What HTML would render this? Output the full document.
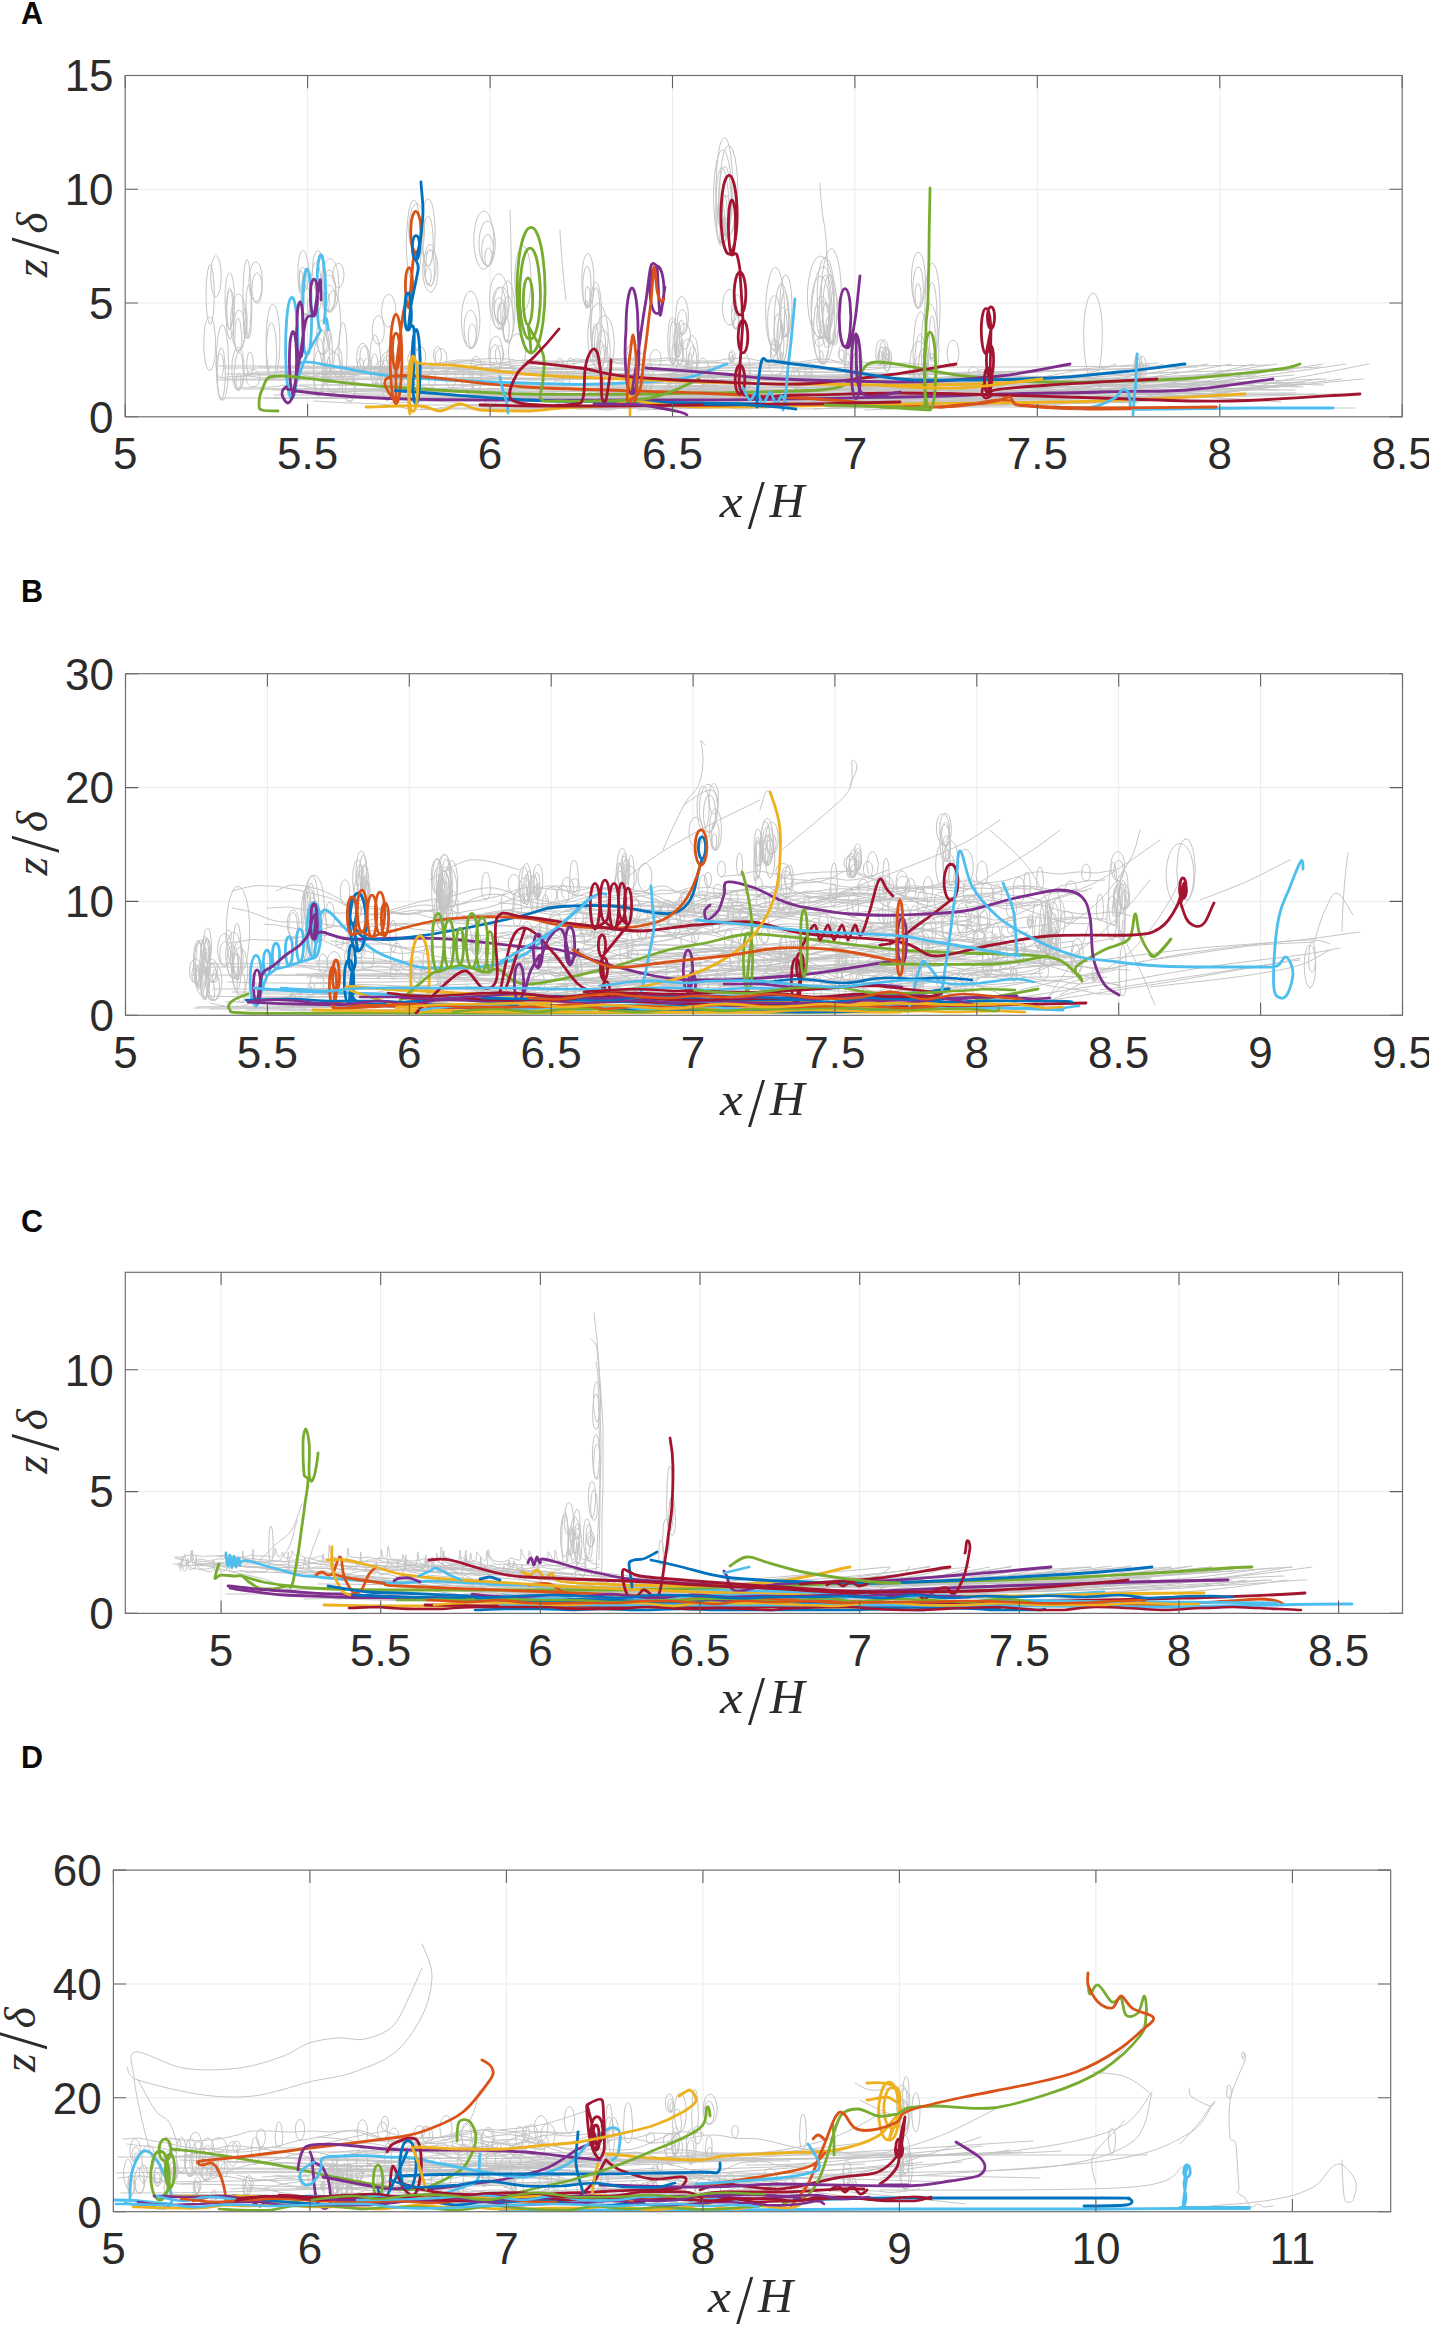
<!DOCTYPE html>
<html><head><meta charset="utf-8"><title>Figure</title>
<style>html,body{margin:0;padding:0;background:#fff;}svg{display:block;}</style></head>
<body><svg width="1429" height="2327" viewBox="0 0 1429 2327">
<rect width="1429" height="2327" fill="#fff"/>
<path d="M307.6 75.5V416.8M490.1 75.5V416.8M672.5 75.5V416.8M854.9 75.5V416.8M1037.3 75.5V416.8M1219.8 75.5V416.8M125.2 303.0H1402.2M125.2 189.3H1402.2" stroke="#ebebeb" stroke-width="1" fill="none"/>
<clipPath id="clipA"><rect x="125.2" y="75.5" width="1277.0" height="341.3"/></clipPath>
<g clip-path="url(#clipA)" fill="none" stroke-linejoin="round" stroke-linecap="round">
<path d="M240 350a8 29 0 0 1-9-37a8 29 0 0 1 13-11a8 29 0 0 1-4 48l-1 1a6 21 0 0 1-5-31a6 21 0 0 1 10-1a6 21 0 0 1-5 32l0 0a3 13 0 0 1-4-17a3 13 0 0 1 6-5a3 13 0 0 1-2 22M236 389a6 21 0 0 1-2-36a6 21 0 0 1 10 12a6 21 0 0 1-8 24l3 1a4 15 0 0 1-4-24a4 15 0 0 1 8 3a4 15 0 0 1-4 21l0-1a3 9 0 0 1-3-11a3 9 0 0 1 4-4a3 9 0 0 1-1 15M209 323a4 29 0 0 1-2-47a4 29 0 0 1 7 10a4 29 0 0 1-5 37M229 329a5 30 0 0 1-3-47a5 30 0 0 1 8 6a5 30 0 0 1-5 41l1 0a3 21 0 0 1-3-29a3 21 0 0 1 5-5a3 21 0 0 1-2 34M273 379a7 38 0 0 1-6-57a7 38 0 0 1 12 1a7 38 0 0 1-6 56l-2 0a5 27 0 0 1-4-42a5 27 0 0 1 9 2a5 27 0 0 1-5 40M218 295a5 20 0 0 1-7-23a5 20 0 0 1 8-12a5 20 0 0 1-1 35M222 400a6 36 0 0 1-5-55a6 36 0 0 1 11 3a6 36 0 0 1-6 52l-1 0a4 26 0 0 1-3-41a4 26 0 0 1 7 5a4 26 0 0 1-4 36M230 339a4 24 0 0 1-3-39a4 24 0 0 1 7 7a4 24 0 0 1-4 32M211 370a6 27 0 0 1-7-35a6 27 0 0 1 10-10a6 27 0 0 1-3 45M258 301a7 21 0 0 1-9-23a7 21 0 0 1 11-12a7 21 0 0 1-2 35l-3 1a5 15 0 0 1-1-26a5 15 0 0 1 8 9a5 15 0 0 1-7 17M248 337a4 38 0 0 1-5-46a4 38 0 0 1 7-18a4 38 0 0 1-2 64l1 1a3 27 0 0 1-3-35a3 27 0 0 1 5-10a3 27 0 0 1-2 45l-4 0a2 17 0 0 1-1-27a2 17 0 0 1 3 5a2 17 0 0 1-2 22M305 291a5 19 0 0 1-7-21a5 19 0 0 1 9-12a5 19 0 0 1-2 33l-3 1a4 14 0 0 1-2-21a4 14 0 0 1 6 2a4 14 0 0 1-4 19l-1 1a2 9 0 0 1-2-14a2 9 0 0 1 4 1a2 9 0 0 1-2 13M322 354a7 17 0 0 1-4-28a7 17 0 0 1 12 6a7 17 0 0 1-8 22l2 0a5 12 0 0 1-6-16a5 12 0 0 1 8-4a5 12 0 0 1-2 20M320 395a6 29 0 0 1-6-42a6 29 0 0 1 10-3a6 29 0 0 1-4 45l0-1a4 21 0 0 1-6-24a4 21 0 0 1 7-12a4 21 0 0 1-1 36M328 311a8 19 0 0 1-6-28a8 19 0 0 1 13 0a8 19 0 0 1-7 28l0-1a6 13 0 0 1-2-23a6 13 0 0 1 9 8a6 13 0 0 1-7 15l-2 1a3 8 0 0 1-3-12a3 8 0 0 1 6 0a3 8 0 0 1-3 12M318 313a5 24 0 0 1-7-28a5 24 0 0 1 9-13a5 24 0 0 1-2 41M308 314a5 19 0 0 1-7-23a5 19 0 0 1 9-9a5 19 0 0 1-2 32l-3 0a4 13 0 0 1-2-23a4 13 0 0 1 7 6a4 13 0 0 1-5 17l4 0a2 8 0 0 1-1-13a2 8 0 0 1 3 2a2 8 0 0 1-2 11M318 294a6 24 0 0 1-5-33a6 24 0 0 1 9-4a6 24 0 0 1-4 37M339 288a6 13 0 0 1-6-17a6 13 0 0 1 10-3a6 13 0 0 1-4 20M365 370a6 13 0 0 1-8-17a6 13 0 0 1 10-6a6 13 0 0 1-2 23l0 0a4 10 0 0 1-5-13a4 10 0 0 1 8-2a4 10 0 0 1-3 15l-4 0a3 6 0 0 1-3-9a3 6 0 0 1 5 0a3 6 0 0 1-2 9M329 312a9 27 0 0 1-6-43a9 27 0 0 1 15 4a9 27 0 0 1-9 39l0 0a6 20 0 0 1-5-31a6 20 0 0 1 11 2a6 20 0 0 1-6 29M349 401a6 13 0 0 1-6-19a6 13 0 0 1 11-2a6 13 0 0 1-5 21l0 0a4 10 0 0 1-3-15a4 10 0 0 1 8 1a4 10 0 0 1-5 14M344 377a4 27 0 0 1-5-32a4 27 0 0 1 7-13a4 27 0 0 1-2 45M329 382a5 29 0 0 1-5-39a5 29 0 0 1 7-9a5 29 0 0 1-2 48l-2 0a3 21 0 0 1-4-29a3 21 0 0 1 6-5a3 21 0 0 1-2 34l2 0a2 13 0 0 1-2-17a2 13 0 0 1 3-4a2 13 0 0 1-1 21M332 351a7 28 0 0 1-5-45a7 28 0 0 1 13 5a7 28 0 0 1-8 40M334 393a8 20 0 0 1-7-31a8 20 0 0 1 14 2a8 20 0 0 1-7 29M378 388a6 14 0 0 1-2-23a6 14 0 0 1 10 7a6 14 0 0 1-8 16M379 344a6 14 0 0 1-6-21a6 14 0 0 1 10-2a6 14 0 0 1-4 23M389 390a8 21 0 0 1-9-24a8 21 0 0 1 12-11a8 21 0 0 1-3 35l-5 1a5 15 0 0 1-2-25a5 15 0 0 1 9 7a5 15 0 0 1-7 18l0 0a3 9 0 0 1-2-14a3 9 0 0 1 6 2a3 9 0 0 1-4 12M391 326a7 16 0 0 1-9-20a7 16 0 0 1 12-6a7 16 0 0 1-3 26M398 386a7 15 0 0 1-8-19a7 15 0 0 1 11-7a7 15 0 0 1-3 26l-2 0a5 11 0 0 1-4-17a5 11 0 0 1 9 1a5 11 0 0 1-5 16l1 0a3 7 0 0 1-4-8a3 7 0 0 1 5-4a3 7 0 0 1-1 12M377 383a5 23 0 0 1-7-26a5 23 0 0 1 9-13a5 23 0 0 1-2 39l-3 1a4 16 0 0 1-2-27a4 16 0 0 1 6 5a4 16 0 0 1-4 22M387 401a7 24 0 0 1-4-40a7 24 0 0 1 11 9a7 24 0 0 1-7 31M432 292a8 22 0 0 1-9-28a8 22 0 0 1 13-8a8 22 0 0 1-4 36M428 284a6 20 0 0 1-2-34a6 20 0 0 1 10 11a6 20 0 0 1-8 23l1 1a4 14 0 0 1-3-23a4 14 0 0 1 8 3a4 14 0 0 1-5 20l-1 0a3 9 0 0 1-2-14a3 9 0 0 1 5 2a3 9 0 0 1-3 12M426 264a7 33 0 0 1-3-55a7 33 0 0 1 12 18a7 33 0 0 1-9 37l1 2a5 24 0 0 1-3-39a5 24 0 0 1 9 8a5 24 0 0 1-6 31M415 281a7 38 0 0 1-8-53a7 38 0 0 1 13-7a7 38 0 0 1-5 60M419 254a8 26 0 0 1-10-30a8 26 0 0 1 13-14a8 26 0 0 1-3 44M499 329a10 29 0 0 1-8-44a10 29 0 0 1 16 1a10 29 0 0 1-8 43l1 0a7 21 0 0 1-7-31a7 21 0 0 1 12-1a7 21 0 0 1-5 32l1 0a4 13 0 0 1-3-20a4 13 0 0 1 7 1a4 13 0 0 1-4 19M509 341a7 30 0 0 1-8-38a7 30 0 0 1 12-12a7 30 0 0 1-4 50l-3 0a5 22 0 0 1-2-36a5 22 0 0 1 9 10a5 22 0 0 1-7 26l0 1a3 13 0 0 1-2-21a3 13 0 0 1 5 3a3 13 0 0 1-3 18M522 311a8 32 0 0 1-6-49a8 32 0 0 1 14 1a8 32 0 0 1-8 48M501 324a8 19 0 0 1-6-29a8 19 0 0 1 13 0a8 19 0 0 1-7 29l-3-1a6 14 0 0 1-2-23a6 14 0 0 1 9 7a6 14 0 0 1-7 16l2 0a3 8 0 0 1-1-14a3 8 0 0 1 6 5a3 8 0 0 1-5 9M474 390a6 17 0 0 1-2-29a6 17 0 0 1 10 9a6 17 0 0 1-8 20l4 1a4 12 0 0 1-5-17a4 12 0 0 1 7-3a4 12 0 0 1-2 20M497 372a7 18 0 0 1-8-22a7 18 0 0 1 12-8a7 18 0 0 1-4 30l0 0a5 13 0 0 1-7-15a5 13 0 0 1 9-7a5 13 0 0 1-2 22M482 269a10 29 0 0 1-6-47a10 29 0 0 1 17 7a10 29 0 0 1-11 40M485 265a8 22 0 0 1-4-36a8 22 0 0 1 14 9a8 22 0 0 1-10 27l2 1a6 16 0 0 1-4-26a6 16 0 0 1 10 4a6 16 0 0 1-6 22l0 0a4 10 0 0 1-1-16a4 10 0 0 1 6 4a4 10 0 0 1-5 12M469 348a9 28 0 0 1-6-44a9 28 0 0 1 16 5a9 28 0 0 1-10 39l2 0a7 20 0 0 1-6-30a7 20 0 0 1 11 0a7 20 0 0 1-5 30l1 0a4 12 0 0 1-3-19a4 12 0 0 1 7 2a4 12 0 0 1-4 17M518 372a9 20 0 0 1-9-27a9 20 0 0 1 15-4a9 20 0 0 1-6 31M607 372a10 29 0 0 1-12-37a10 29 0 0 1 16-12a10 29 0 0 1-4 49l-3 0a7 21 0 0 1-7-30a7 21 0 0 1 12-3a7 21 0 0 1-5 33l-1 0a4 13 0 0 1-2-22a4 13 0 0 1 7 7a4 13 0 0 1-5 15M596 358a6 39 0 0 1-5-60a6 39 0 0 1 10 3a6 39 0 0 1-5 57l-1-1a4 28 0 0 1-3-46a4 28 0 0 1 8 10a4 28 0 0 1-5 36l0 1a3 17 0 0 1-2-28a3 17 0 0 1 5 4a3 17 0 0 1-3 24M601 367a10 32 0 0 1-13-36a10 32 0 0 1 17-18a10 32 0 0 1-4 54l-3 2a7 23 0 0 1-5-36a7 23 0 0 1 12 3a7 23 0 0 1-7 33l2 0a4 14 0 0 1-3-21a4 14 0 0 1 7 0a4 14 0 0 1-4 21M590 306a6 27 0 0 1-8-32a6 27 0 0 1 10-13a6 27 0 0 1-2 45l-4 1a4 20 0 0 1-2-34a4 20 0 0 1 7 11a4 20 0 0 1-5 23l1 0a3 12 0 0 1-1-19a3 12 0 0 1 4 4a3 12 0 0 1-3 15l0 1a1 4 0 0 1-1-7a1 4 0 0 1 1 0a1 4 0 0 1 0 7M684 334a6 18 0 0 1-8-23a6 18 0 0 1 11-6a6 18 0 0 1-3 29l-1 0a5 13 0 0 1-5-18a5 13 0 0 1 8-2a5 13 0 0 1-3 20l-2 0a3 8 0 0 1-1-13a3 8 0 0 1 4 4a3 8 0 0 1-3 9M684 349a6 13 0 0 1-4-21a6 13 0 0 1 10 3a6 13 0 0 1-6 18M693 375a6 20 0 0 1-6-28a6 20 0 0 1 10-4a6 20 0 0 1-4 32l1 0a4 15 0 0 1-5-19a4 15 0 0 1 7-4a4 15 0 0 1-2 23l-5 0a2 9 0 0 1-1-14a2 9 0 0 1 4 2a2 9 0 0 1-3 12M672 364a5 24 0 0 1-3-40a5 24 0 0 1 8 8a5 24 0 0 1-5 32l1 0a3 17 0 0 1-3-25a3 17 0 0 1 6-2a3 17 0 0 1-3 27l1 0a2 11 0 0 1-2-13a2 11 0 0 1 3-5a2 11 0 0 1-1 18M679 357a4 18 0 0 1-5-21a4 18 0 0 1 6-10a4 18 0 0 1-1 31l-3 0a3 13 0 0 1-1-22a3 13 0 0 1 5 7a3 13 0 0 1-4 15l1 0a2 8 0 0 1-2-10a2 8 0 0 1 3-3a2 8 0 0 1-1 13M679 364a4 14 0 0 1-3-23a4 14 0 0 1 7 4a4 14 0 0 1-4 19l0 0a3 10 0 0 1-1-18a3 10 0 0 1 5 6a3 10 0 0 1-4 12M721 243a9 47 0 0 1-5-78a9 47 0 0 1 15 15a9 47 0 0 1-10 63l4-2a6 34 0 0 1-9-38a6 34 0 0 1 11-20a6 34 0 0 1-2 58l-3 2a4 21 0 0 1-5-28a4 21 0 0 1 7-6a4 21 0 0 1-2 34l-1 0a1 8 0 0 1-1-11a1 8 0 0 1 2 0a1 8 0 0 1-1 11M731 234a9 45 0 0 1-11-53a9 45 0 0 1 15-23a9 45 0 0 1-4 76l-3 2a7 33 0 0 1-4-53a7 33 0 0 1 11 10a7 33 0 0 1-7 43l-3 0a4 20 0 0 1-2-34a4 20 0 0 1 7 10a4 20 0 0 1-5 24l1 0a2 7 0 0 1-2-10a2 7 0 0 1 3-1a2 7 0 0 1-1 11M725 234a8 45 0 0 1-8-68a8 45 0 0 1 15 2a8 45 0 0 1-7 66l1 0a6 32 0 0 1-7-45a6 32 0 0 1 11-6a6 32 0 0 1-4 51l-3 0a4 20 0 0 1-3-31a4 20 0 0 1 7 4a4 20 0 0 1-4 27l2 0a1 7 0 0 1-1-9a1 7 0 0 1 2-2a1 7 0 0 1-1 11M738 316a4 19 0 0 1-4-28a4 19 0 0 1 7-2a4 19 0 0 1-3 30M735 328a5 16 0 0 1-2-27a5 16 0 0 1 9 9a5 16 0 0 1-7 18l-1 0a4 11 0 0 1-1-19a4 11 0 0 1 6 6a4 11 0 0 1-5 13l2 1a2 7 0 0 1-2-11a2 7 0 0 1 4 0a2 7 0 0 1-2 11M746 392a6 19 0 0 1-8-23a6 19 0 0 1 11-8a6 19 0 0 1-3 31l0 1a4 13 0 0 1-4-18a4 13 0 0 1 7-4a4 13 0 0 1-3 22l0 0a3 8 0 0 1-3-10a3 8 0 0 1 4-4a3 8 0 0 1-1 14M730 325a7 17 0 0 1-7-24a7 17 0 0 1 13-2a7 17 0 0 1-6 26M780 362a7 39 0 0 1-4-64a7 39 0 0 1 12 11a7 39 0 0 1-8 53l4-1a5 28 0 0 1-6-35a5 28 0 0 1 8-12a5 28 0 0 1-2 47l-3 1a3 17 0 0 1-4-22a3 17 0 0 1 6-7a3 17 0 0 1-2 29l1 0a1 6 0 0 1-1-9a1 6 0 0 1 1 0a1 6 0 0 1 0 9M773 350a9 40 0 0 1-5-66a9 40 0 0 1 16 13a9 40 0 0 1-11 53l2 0a7 29 0 0 1-7-38a7 29 0 0 1 11-9a7 29 0 0 1-4 47l2 0a4 18 0 0 1-2-30a4 18 0 0 1 7 9a4 18 0 0 1-5 21M788 335a6 31 0 0 1-8-35a6 31 0 0 1 10-17a6 31 0 0 1-2 52l-2 1a4 22 0 0 1-5-29a4 22 0 0 1 7-6a4 22 0 0 1-2 35l0 0a3 14 0 0 1-1-23a3 14 0 0 1 5 7a3 14 0 0 1-4 16l-3 1a1 5 0 0 1-1-7a1 5 0 0 1 1-1a1 5 0 0 1 0 8M829 342a10 47 0 0 1-5-78a10 47 0 0 1 17 19a10 47 0 0 1-12 59l3 0a7 34 0 0 1-9-41a7 34 0 0 1 12-15a7 34 0 0 1-3 56l1 2a4 21 0 0 1-3-33a4 21 0 0 1 8 3a4 21 0 0 1-5 30l1 0a2 8 0 0 1-1-10a2 8 0 0 1 2-3a2 8 0 0 1-1 13M820 338a13 41 0 0 1-10-65a13 41 0 0 1 22 5a13 41 0 0 1-12 60l-2-1a9 30 0 0 1-5-48a9 30 0 0 1 16 9a9 30 0 0 1-11 39l6 0a6 18 0 0 1-7-23a6 18 0 0 1 10-7a6 18 0 0 1-3 30l-2 1a2 7 0 0 1-2-10a2 7 0 0 1 4 0a2 7 0 0 1-2 10l-2 0a1 1 0 0 1 1 7a1 1 0 0 1-2 1a1 1 0 0 1 1-8M821 363a11 46 0 0 1-7-75a11 46 0 0 1 20 15a11 46 0 0 1-13 60l2 0a8 33 0 0 1-9-43a8 33 0 0 1 14-11a8 33 0 0 1-5 54l2 0a5 20 0 0 1-6-24a5 20 0 0 1 8-10a5 20 0 0 1-2 34l-4 1a2 7 0 0 1-1-12a2 7 0 0 1 3 2a2 7 0 0 1-2 10M823 336a9 42 0 0 1-3-70a9 42 0 0 1 14 20a9 42 0 0 1-11 50l3 2a6 30 0 0 1-6-44a6 30 0 0 1 11-2a6 30 0 0 1-5 46l-1-1a4 19 0 0 1-1-31a4 19 0 0 1 6 9a4 19 0 0 1-5 22l3 1a1 7 0 0 1-2-9a1 7 0 0 1 3-2a1 7 0 0 1-1 11l-1 0a1 1 0 0 1 0 9a1 1 0 0 1-2-3a1 1 0 0 1 2-6M886 366a4 10 0 0 1-4-13a4 10 0 0 1 7-2a4 10 0 0 1-3 15l0 0a3 7 0 0 1-3-9a3 7 0 0 1 5-2a3 7 0 0 1-2 11l-1 0a2 4 0 0 1-2-6a2 4 0 0 1 4 0a2 4 0 0 1-2 6M883 364a5 12 0 0 1-7-15a5 12 0 0 1 9-4a5 12 0 0 1-2 19l-2 0a4 9 0 0 1-2-14a4 9 0 0 1 7 4a4 9 0 0 1-5 10l0 0a2 5 0 0 1-3-6a2 5 0 0 1 4-3a2 5 0 0 1-1 9M887 371a5 12 0 0 1-4-17a5 12 0 0 1 8-1a5 12 0 0 1-4 18l0 0a3 9 0 0 1-3-11a3 9 0 0 1 6-2a3 9 0 0 1-3 13l0 0a2 5 0 0 1-2-7a2 5 0 0 1 4-1a2 5 0 0 1-2 8M917 307a7 28 0 0 1-4-45a7 28 0 0 1 12 10a7 28 0 0 1-8 35l0 1a5 20 0 0 1-3-32a5 20 0 0 1 9 5a5 20 0 0 1-6 27l0-1a3 12 0 0 1-1-20a3 12 0 0 1 5 6a3 12 0 0 1-4 14M920 389a7 36 0 0 1-6-54a7 36 0 0 1 13-1a7 36 0 0 1-7 55l-1 0a5 26 0 0 1-3-43a5 26 0 0 1 9 7a5 26 0 0 1-6 36l1 0a3 16 0 0 1-1-28a3 16 0 0 1 6 8a3 16 0 0 1-5 20l-1 0a1 6 0 0 1-1-10a1 6 0 0 1 2 3a1 6 0 0 1-1 7M929 394a9 46 0 0 1-6-73a9 46 0 0 1 15 8a9 46 0 0 1-9 65l0 0a7 33 0 0 1-4-53a7 33 0 0 1 11 8a7 33 0 0 1-7 45l3 1a4 20 0 0 1-4-30a4 20 0 0 1 7-2a4 20 0 0 1-3 32l-2-1a1 7 0 0 1-2-9a1 7 0 0 1 2-3a1 7 0 0 1 0 12M932 359a8 50 0 0 1-6-76a8 50 0 0 1 13 2a8 50 0 0 1-7 74l-2-1a5 36 0 0 1-2-61a5 36 0 0 1 9 17a5 36 0 0 1-7 44l2 1a3 22 0 0 1-2-36a3 22 0 0 1 5 6a3 22 0 0 1-3 30M919 396a10 29 0 0 1-8-43a10 29 0 0 1 16 0a10 29 0 0 1-8 43l2 0a7 21 0 0 1-7-28a7 21 0 0 1 12-5a7 21 0 0 1-5 33l-3 0a4 13 0 0 1-5-17a4 13 0 0 1 8-3a4 13 0 0 1-3 20l2 0a2 5 0 0 1-1-7a2 5 0 0 1 2 1a2 5 0 0 1-1 6M1137 382a4 14 0 0 1-2-23a4 14 0 0 1 7 5a4 14 0 0 1-5 18l0 0a3 10 0 0 1-2-15a3 10 0 0 1 5 1a3 10 0 0 1-3 14M1142 382a4 14 0 0 1-2-23a4 14 0 0 1 6 5a4 14 0 0 1-4 18l-1 0a3 10 0 0 1-2-17a3 10 0 0 1 5 5a3 10 0 0 1-3 12M1137 379a3 12 0 0 1-2-19a3 12 0 0 1 5 4a3 12 0 0 1-3 15l2 0a2 8 0 0 1-3-10a2 8 0 0 1 4-4a2 8 0 0 1-1 14l0 0a1 5 0 0 1 0-9a1 5 0 0 1 2 3a1 5 0 0 1-2 6M858 376a5 13 0 0 1-5-17a5 13 0 0 1 8-5a5 13 0 0 1-3 22l-1 0a3 10 0 0 1-4-13a3 10 0 0 1 6-2a3 10 0 0 1-2 15M648 391a5 13 0 0 1-4-20a5 13 0 0 1 9 1a5 13 0 0 1-5 19l-2 0a4 9 0 0 1-2-16a4 9 0 0 1 7 3a4 9 0 0 1-5 13l-1 0a2 6 0 0 1-1-10a2 6 0 0 1 3 2a2 6 0 0 1-2 8M847 375a3 13 0 0 1-2-21a3 13 0 0 1 6 6a3 13 0 0 1-4 15l2 1a2 9 0 0 1-3-11a2 9 0 0 1 4-5a2 9 0 0 1-1 16l0 0a1 6 0 0 1-1-9a1 6 0 0 1 2 1a1 6 0 0 1-1 8M731 362a3 6 0 0 1-1-10a3 6 0 0 1 5 3a3 6 0 0 1-4 7l0 0a2 4 0 0 1-2-6a2 4 0 0 1 4 0a2 4 0 0 1-2 6l1 0a1 3 0 0 1-1-3a1 3 0 0 1 2-1a1 3 0 0 1-1 4M842 361a4 8 0 0 1-2-14a4 8 0 0 1 6 2a4 8 0 0 1-4 12l0-1a3 6 0 0 1-3-7a3 6 0 0 1 4-3a3 6 0 0 1-1 10M609 394a5 11 0 0 1-6-13a5 11 0 0 1 8-7a5 11 0 0 1-2 20M687 386a4 12 0 0 1-2-19a4 12 0 0 1 7 5a4 12 0 0 1-5 14l2 1a3 8 0 0 1-2-14a3 8 0 0 1 5 2a3 8 0 0 1-3 12M867 402a3 7 0 0 1-3-10a3 7 0 0 1 5-2a3 7 0 0 1-2 12l-1 0a2 5 0 0 1-2-8a2 5 0 0 1 4 1a2 5 0 0 1-2 7l-1 0a1 3 0 0 1-1-4a1 3 0 0 1 2-1a1 3 0 0 1-1 5M809 384a4 9 0 0 1-4-13a4 9 0 0 1 7 0a4 9 0 0 1-3 13l0 0a3 6 0 0 1-3-8a3 6 0 0 1 4-3a3 6 0 0 1-1 11l1 0a2 4 0 0 1-2-5a2 4 0 0 1 3-1a2 4 0 0 1-1 6M775 356a3 7 0 0 1-4-8a3 7 0 0 1 6-4a3 7 0 0 1-2 12l-1 1a2 5 0 0 1-3-7a2 5 0 0 1 4-2a2 5 0 0 1-1 9M603 401a3 9 0 0 1-4-11a3 9 0 0 1 6-4a3 9 0 0 1-2 15l-1 0a2 7 0 0 1-3-8a2 7 0 0 1 4-3a2 7 0 0 1-1 11M794 388a4 10 0 0 1-2-16a4 10 0 0 1 7 2a4 10 0 0 1-5 14l2 0a3 7 0 0 1-2-12a3 7 0 0 1 6 3a3 7 0 0 1-4 9l0 0a2 4 0 0 1-2-7a2 4 0 0 1 4 1a2 4 0 0 1-2 6M567 388a4 9 0 0 1-4-11a4 9 0 0 1 6-3a4 9 0 0 1-2 14M672 391a3 8 0 0 1-1-14a3 8 0 0 1 5 4a3 8 0 0 1-4 10l2 0a2 6 0 0 1-3-8a2 6 0 0 1 4-1a2 6 0 0 1-1 9M1093 382a10 47 0 0 1-8-70a10 47 0 0 1 16 0a10 47 0 0 1-8 70M510 210c0 7 1 25 1 40c0 15 1 38 1 50c0 12 2 17 2 20M820 183c0 5 1 17 2 27c1 10 3 15 4 30c1 15 3 50 4 60M560 230c0 5 1 18 2 30c1 12 3 33 4 40M273 390c36 0 144 0 216 1c72 0 144 1 216 2c73 1 145 2 217 4c72 2 180 5 216 6M274 395c43 0 170 0 255-1c85-1 170-2 255-4c85-2 170-5 254-8c85-3 213-10 255-12M324 368c39 0 157 0 236 0c79 0 158 0 236 0c79-1 158-1 237-1c79-1 197-1 236-2M243 389c42 0 169 0 253 0c85-1 169-2 253-3c85-1 169-2 254-4c84-2 210-5 253-6M322 379c36 0 146 0 219 0c73-1 146-1 219-2c73-1 146-2 219-4c73-2 182-5 219-6M327 398c34 0 135 0 202-1c68 0 135-1 203-2c67-1 135-2 202-4c68-2 169-5 203-6M279 371c41 0 162 0 243 1c81 2 162 3 243 5c81 3 162 6 243 10c81 3 203 11 243 13M329 385c41 0 165 0 248-1c83 0 165-1 248-3c83-1 165-3 248-5c82-3 206-7 248-9M310 398c36-1 145-1 217-2c72 0 145-2 217-4c72-2 145-5 217-8c72-3 181-10 217-12M281 368c43 0 174 0 261 1c87 0 174 1 261 3c87 1 174 3 260 5c87 2 218 7 261 8M224 368c37 0 147 0 221 1c74 2 147 3 221 6c74 3 148 7 221 12c74 4 185 14 222 16M323 373c40 0 159 0 239 1c79 0 159 1 238 3c80 1 160 3 239 5c80 2 199 7 239 8M300 385c37 0 150 0 226 0c75 1 150 1 225 2c76 1 151 2 226 4c76 1 188 4 226 5M217 380c39 0 156 0 234-1c78 0 156-1 234-2c78-1 157-2 235-4c78-1 195-4 234-5M259 367c42 0 166 0 249 1c83 1 166 2 249 3c82 1 165 3 248 5c83 2 207 7 249 8M245 374c42 0 168 0 252 1c84 0 168 1 252 2c84 1 168 3 252 5c84 2 210 6 252 7M219 366c45 0 177 0 266 2c88 1 177 3 265 6c89 3 177 7 266 11c88 5 221 14 265 17M284 377c39 0 157 0 236 1c78 0 157 1 235 2c79 1 158 2 236 3c79 2 197 4 236 5M294 392c42-1 169-1 253-1c84 0 168-1 252-1c85-1 169-2 253-3c84-1 211-4 253-5M329 396c42 0 167 0 250-1c83 0 166-1 249-3c83-1 166-3 249-5c83-2 208-7 249-8M265 398c41 0 165 0 247-1c82 0 165-1 247-2c82-1 165-3 247-4c82-2 206-6 247-7M275 398c40 0 157 0 236-1c78-1 157-2 235-4c78-2 157-4 235-7c79-3 196-9 236-11M221 398c45 0 179 0 269 0c89-1 179-1 269-1c89-1 179-1 268-2c90-1 224-2 269-2M284 373c42 0 170 0 255 0c84 1 169 2 254 3c85 1 170 2 255 4c85 2 213 6 255 7M223 379c38 0 152 0 228 0c76 0 151 0 227 1c76 0 152 1 228 1c76 1 190 2 228 2M261 389c35 0 142 0 213 0c71 0 142-1 213-1c71 0 143-1 214-2c71 0 177-2 213-2M472 395c23 0 94 0 141-1c46 0 93-1 140-3c47-2 94-5 141-8c47-3 117-11 141-13M421 409c36 0 146 0 220-1c73 0 146-1 220-3c73-2 146-4 220-8c73-3 183-11 220-13M660 405c18 0 71 0 106-1c36-1 71-2 107-5c35-2 71-6 106-11c36-5 89-16 106-19M624 408c22-1 88 0 131-2c44-1 88-2 132-5c43-4 87-8 131-13c44-6 110-19 131-23M638 398c13 0 53 0 79 0c26 0 53 0 79 0c26-1 53-1 79-2c27-1 66-2 79-3M400 392c25 0 101 0 152 0c51-1 101-1 152-3c50-1 101-3 152-6c50-3 126-9 151-10M419 405c36 0 146 0 219 0c72-1 145-2 218-5c73-2 146-5 219-9c73-4 182-13 219-16M507 386c27 0 108 0 163 0c54-1 108-2 162-4c55-1 109-4 163-7c54-3 136-10 163-12M670 397c15 0 61 0 91 0c31 0 61 0 92 0c30-1 60-1 91-2c30 0 76-2 91-2M693 390c17 0 69 0 104 0c34-1 69-2 104-3c34-1 69-3 103-6c35-2 87-8 104-9M677 390c26 0 103 0 154 0c52 0 103 0 155 0c51 0 103 0 154 0c52 0 129 0 155 0M506 389c25 0 101 0 151 0c50 0 100 0 150 1c50 0 100 0 150 0c51 0 126 1 151 1M699 401c12 0 48 0 72-1c24-1 49-2 73-5c24-2 48-5 72-10c25-4 61-14 73-17M664 388c11 0 43 0 65 0c21 0 43-1 64-1c22 0 43 0 65 0c21 0 53-1 64-1M494 407c33 0 134 0 200-1c67 0 134-1 201-3c67-1 134-3 201-6c66-3 167-10 200-11M440 408c32 0 128 0 192 0c64-1 128-2 191-5c64-2 128-5 192-10c64-4 159-14 191-16M245 374c3 0 10-2 17-2c6 0 15 0 23 0c8 0 18 1 25 1c7 0 11-1 17-1c6 0 10 1 18 0c7 0 18-1 25-2c8-1 17-1 21-1c3 0 0 0 0 0a4 11 0 0 1-4-16a4 11 0 0 1 7 0a4 11 0 0 1-3 16c4-1 19-2 23-2c4-1 0 0 0 0a6 8 0 0 1-5-13a6 8 0 0 1 11 0a6 8 0 0 1-6 13c3-1 11-2 18-3c7-1 17-3 25-4c7 0 12 0 19 1c8 0 18 2 25 2c8 0 14 0 21 0c7-1 15-1 22-2c7 0 13 0 20 0c7 0 13 1 20 0c7 0 17-1 23-1c7 0 11 0 17 0c7 0 17 1 24 1c7 0 13 0 20-1c6 0 16 1 20 1c3 0 0 0 0 0a6 11 0 0 1-5-17a6 11 0 0 1 10 0a6 11 0 0 1-5 17c4 0 18 0 24 0c7 0 9-1 14-2c6 0 14-1 20-1c5 1 9 2 14 3c6 1 18 2 21 2M335 374c3 0 10 1 17 0c7 0 17-1 24-2c6-1 9-2 16-3c6 0 19 0 23 0c4 1 0 0 0 0a4 9 0 0 1-4-13a4 9 0 0 1 8 0a4 9 0 0 1-4 13c4 0 21-1 26-1c4 0 0 0 0 0a6 10 0 0 1-5-15a6 10 0 0 1 10 0a6 10 0 0 1-5 15c2 0 10 1 16 2c5 1 9 1 14 3c5 1 10 3 16 3c5 1 16 1 19 2c3 0 0 0 0 0a7 6 0 0 1-6-10a7 6 0 0 1 12 0a7 6 0 0 1-6 10c4 0 15 2 23 2c7 0 13 0 20 0c8 0 17 0 25-1c9 0 19 0 26-1c8 0 13-2 19-3c6-1 12-4 18-5c7-1 15 0 21 0c7-1 12-1 19-1c7 0 17-1 23-1c7-1 14-1 16-2M298 374c3 1 15 3 22 3c7 0 15 0 18 0c3 0 0 0 0 0a4 12 0 0 1-4-17a4 12 0 0 1 8 0a4 12 0 0 1-4 17c3 0 9-1 15-1c5-1 12-2 18-3c6 0 10 1 17 0c8 0 18-1 26-2c8 0 16 1 22 1c7-1 11-2 18-3c7-1 17-3 25-4c7-1 17-1 20-1c3 0 0 0 0 0a4 9 0 0 1-3-14a4 9 0 0 1 7 0a4 9 0 0 1-4 14c3-1 10-3 16-3c5-1 12-1 18-1c5 0 9 3 15 3c7 1 16 1 23 1c7-1 11-2 16-2c6-1 13 0 19 0c6 0 11 2 17 2c6 1 14 1 17 1c2 0 0 0 0 0a6 6 0 0 1-5-10a6 6 0 0 1 9 0a6 6 0 0 1-4 10c4 0 16 0 23 0c8 0 15 0 22 0c8-1 15-3 23-3c7 0 17 1 24 2c7 0 10 1 15 1c5 1 9 1 15 1c6 0 13-1 20-1c6-1 12-2 19-3c6-1 15-3 22-3c6 0 11 2 18 3c6 0 13 0 21 0c7 1 18 1 22 1c4 0 0 0 0 0a4 9 0 0 1-4-14a4 9 0 0 1 8 0a4 9 0 0 1-4 14M236 388c3 0 14 0 17-1c3 0 0 0 0 0a7 9 0 0 1-6-13a7 9 0 0 1 12 0a7 9 0 0 1-6 13c3 0 11 1 17 0c6 0 14-2 20-2c6 0 11 1 18 2c7 1 16 2 23 3c7 1 12 3 19 3c8 1 16 0 24 0c8 0 21 0 25 0c4 0 0 0 0 0a5 7 0 0 1-4-11a5 7 0 0 1 9 0a5 7 0 0 1-5 11c3 0 13-1 19-1c5-1 10-3 16-3c5-1 14-1 17-1c3 0 0 0 0 0a5 10 0 0 1-4-16a5 10 0 0 1 8 0a5 10 0 0 1-4 16c3 0 13-2 20-2c7-1 13-1 21-1c8 0 17 1 26 1c8 1 17 0 24 0c8 1 15 1 23 2c7 0 16 2 24 3c7 1 13 2 20 3c6 1 11 1 17 1c6 0 11 1 17 1c5 0 11 0 16-1c5 0 12-2 15-2c2-1 0 0 0 0a6 7 0 0 1-5-11a6 7 0 0 1 10 0a6 7 0 0 1-5 11c3-1 13-3 19-4c6-1 11-2 16-3c5 0 8 1 15 1c6 0 16 0 23 0c7 1 11 2 17 2c6 0 11 0 18 0c7 0 16 2 24 2c8 0 15 0 23 1c7 0 16 2 23 2c8 1 16 1 22 1c6 0 12-1 15-2M266 380c5 0 18 0 26-1c8 0 16-2 22-3c7-1 12-4 18-4c5-1 9 0 15 0c6-1 14-2 21-3c6-1 11-2 17-2c6-1 11 0 18 0c7 0 15 1 23 1c8 0 16 0 22 0c7 1 9 2 16 2c7 0 18-1 25-1c7-1 10 0 16-1c6-1 14-3 20-3c7-1 12-1 18-2c6 0 13 0 18-1c6 0 10-2 15-3c5 0 8 1 15 1c7 0 18 1 26 2c7 1 13 2 20 3c6 1 15 3 18 4c4 0 0 0 0 0a6 10 0 0 1-4-16a6 10 0 0 1 9 0a6 10 0 0 1-5 16c3 0 11 2 18 3c7 1 18 2 26 4c8 1 16 3 22 4c7 1 11 0 16 0c6-1 12-2 19-3c6-1 16-2 20-2c3-1 0 0 0 0a7 8 0 0 1-6-12a7 8 0 0 1 12 0a7 8 0 0 1-6 12c3-1 13-4 20-5c7-1 15-1 23-1c8 0 17 0 24 1c6 1 9 3 15 4c6 1 16 1 23 1c6 1 8 3 14 4c5 0 11 0 19 0c7 1 16 1 23 1c7 1 13 1 19 2c6 1 14 3 17 3c3 1 0 0 0 0a6 9 0 0 1-5-13a6 9 0 0 1 11 0a6 9 0 0 1-6 13M425 367c3 0 12-1 19-2c6-1 13-3 20-4c6-1 12-2 20-2c7-1 18 0 25 0c6 1 8 2 15 2c7 0 17 0 25 1c8 0 15 0 23-1c7 0 16-1 22-1c6-1 11-2 16-2c6 0 10 3 16 4c6 1 14 1 22 2c7 0 17 1 24 2c8 0 13 1 20 1c8 1 17 0 24-1c8 0 16 0 22-1c7 0 11-1 17-1c6 0 17 0 20 0c4-1 0 0 0 0a5 11 0 0 1-4-17a5 11 0 0 1 9 0a5 11 0 0 1-5 17c4 0 15 0 22 0c6 0 13-2 19-2c6 0 12 0 18 0c6 1 11 3 19 3c7 1 17 0 26 0c8 0 16-2 24-2c8 0 15 1 24 2c8 0 21 1 26 1c4 0 0 0 0 0a6 13 0 0 1-5-20a6 13 0 0 1 10 0a6 13 0 0 1-5 20M390 403c3 0 18-1 22-1c3-1 0 0 0 0a6 10 0 0 1-6-16a6 10 0 0 1 11 0a6 10 0 0 1-5 16c2 0 10-1 16-1c7 0 16 1 24 1c7 1 17 3 23 4c7 1 13 1 15 1c3 0 0 0 0 0a6 9 0 0 1-5-13a6 9 0 0 1 11 0a6 9 0 0 1-6 13c3 1 9 3 16 3c6 0 18-1 24-1c7 0 9 1 15 0c6 0 15-2 21-3c7 0 12 0 17 0c5 0 8 0 14-1c6 0 14-1 22-1c7-1 14 0 22-1c7 0 16-1 22-2c7-1 10-3 16-4c5 0 11-1 18-1c7 0 16 1 22 2c7 0 11 1 18 0c6 0 15-1 22-2c6 0 11 1 18 1c8 0 19 0 26 1c7 0 10 1 17 1c6 0 16 0 24 0c8 0 15 1 22 2c7 1 12 2 19 3c6 2 16 3 19 3c3 1 0 0 0 0a4 9 0 0 1-3-14a4 9 0 0 1 7 0a4 9 0 0 1-4 14M328 393c2 0 10 0 15-1c6 0 12-1 19-1c8-1 18 0 25 0c6 1 9 1 15 1c5 0 11-1 18-2c7 0 14 0 22 0c8 1 21 2 26 3c4 0 0 0 0 0a5 11 0 0 1-5-17a5 11 0 0 1 9 0a5 11 0 0 1-4 17c3 0 12 0 19 0c7 1 14 1 21 2c8 1 18 2 26 4c8 1 16 2 22 4c6 1 9 4 15 5c6 1 15 1 22 1c6 0 10 1 16 1c6-1 13-2 19-3c6-1 10-3 16-4c7-1 15-2 23-2c8 0 16 1 23 0c7 0 16-1 19-1c4-1 0 0 0 0a7 13 0 0 1-5-20a7 13 0 0 1 11 0a7 13 0 0 1-6 20c3 0 9 1 15 1c5 0 14 0 20 1c6 0 11 2 18 2c6 1 14 0 21-1c6 0 13-2 20-3c6 0 11 1 17 0c5 0 10-2 16-2c6-1 12-1 20-2c7 0 17-3 24-3c7 0 13 1 20 1c8 0 18 1 25 1c6 0 8 0 14 0c6 1 19 2 23 3M226 374c4 0 20 0 24 0c4 1 0 0 0 0a3 9 0 0 1-3-13a3 9 0 0 1 6 0a3 9 0 0 1-3 13c3 0 10 0 16 0c5-1 12-2 19-2c8 0 17 1 26 1c8 1 17 1 25 1c8 0 15 0 22-1c7 0 13 0 20-1c6 0 12 0 19-1c7-1 20-3 24-4c4-1 0 0 0 0a5 10 0 0 1-5-15a5 10 0 0 1 9 0a5 10 0 0 1-4 15c3 0 14-2 16-3c3 0 0 0 0 0a4 9 0 0 1-3-13a4 9 0 0 1 7 0a4 9 0 0 1-4 13c3 0 12-1 17-2c5 0 10-1 14-1c5 1 9 1 14 2c6 1 13 4 19 4c6 1 12 2 17 2c6 1 11 1 18 2c7 0 19 0 23 1c4 0 0 0 0 0a4 7 0 0 1-3-10a4 7 0 0 1 7 0a4 7 0 0 1-4 10c4 0 17-1 24-1c7 0 13 1 19 2c5 0 9 1 15 2c5 1 11 2 18 3c6 1 15 3 23 4c8 0 19-1 23-1c4 0 0 0 0 0a5 11 0 0 1-4-16a5 11 0 0 1 9 0a5 11 0 0 1-5 16c4 1 18 2 22 3c3 0 0 0 0 0a6 13 0 0 1-5-20a6 13 0 0 1 10 0a6 13 0 0 1-5 20c2 0 8 1 14 2c6 0 18 0 22 0M516 397c3 0 12 0 19 0c7 0 19-1 23-2c4 0 0 0 0 0a6 7 0 0 1-6-10a6 7 0 0 1 11 0a6 7 0 0 1-5 10c3 1 14 1 20 1c7-1 11-2 18-2c7-1 18-1 25-1c8-1 13-1 21-1c7-1 17-2 24-3c7-2 12-4 19-5c8-1 18-1 26-2c7 0 11 1 18 1c7-1 17-2 23-3c7 0 11 0 16-1c6 0 13-1 19-2c6-1 12-1 18-2c7 0 11 1 19 2c7 0 18 0 25 0c8 1 14 2 17 2M314 401c3 0 12 1 19 1c8 1 18 1 26 1c7 1 14 0 20 1c6 0 10 1 15 2c5 0 9 2 14 3c6 0 13 1 21 0c8 0 19-3 25-3c7-1 10 0 16-1c5 0 11-1 16-2c5 0 9 0 15 0c7 0 18 0 25 0c7 1 13 1 19 2c6 0 11 1 17 2c6 0 11 2 17 2c6 0 14-1 21-1c6-1 11-2 17-2c5-1 11-1 17-1c6-1 13-2 20-3c7 0 17-2 24-3c8-1 14-1 21-1c7-1 18-1 22-1M236 377c3 0 12-2 19-2c8 0 18 0 26 1c7 0 12 0 18 0c5 1 10 2 15 3c5 1 9 3 15 3c6 1 14-1 21-1c6 1 11 3 18 3c6 0 18-1 22-1c3 0 0 0 0 0a5 6 0 0 1-5-9a5 6 0 0 1 9 0a5 6 0 0 1-4 9c3 0 15 1 22 2c7 1 17 3 20 3c3 1 0 0 0 0a4 10 0 0 1-3-15a4 10 0 0 1 6 0a4 10 0 0 1-3 15c3 0 11 2 18 2c7 0 16 0 23-1c6 0 8 0 15 0c6 0 18 0 25 0c8 0 11-2 18-2c7 0 17-1 25 0c9 0 19 1 25 3c7 1 8 3 15 4c6 1 14 2 22 3c8 1 21 2 25 2c4 1 0 0 0 0a7 10 0 0 1-6-15a7 10 0 0 1 12 0a7 10 0 0 1-6 15c3 0 10-1 15-1c5 0 12 2 15 2c2 0 0 0 0 0a6 13 0 0 1-5-19a6 13 0 0 1 10 0a6 13 0 0 1-5 19c3 0 15 1 21 1c5 1 11 2 14 3c2 0 0 0 0 0a7 12 0 0 1-6-19a7 12 0 0 1 12 0a7 12 0 0 1-6 19c3 1 13 3 18 3c6 1 9 2 15 2c6 0 13-1 21-1c7 0 14-1 22-1c8-1 17-2 24-3c7-1 12-3 17-3c6-1 13-1 18-1c6 0 11 1 18 1c6 0 17-1 24-1c7-1 11-2 18-2c6-1 16-1 22 0c6 0 9 0 15 0c5 0 10-2 16-2c6 1 11 2 19 3c7 0 17 3 26 3c8 1 15 0 23 0c8 0 16 0 24-1c7 0 17-1 21-1M220 378l0 0a4 13 0 0 1-3-20a4 13 0 0 1 6 0a4 13 0 0 1-3 20c4-1 18-2 25-2c7 0 11 1 18 2c7 0 16-1 23-2c6 0 9-2 15-2c7-1 16 0 23 0c7 1 11 1 18 1c8-1 21-1 26-2c4 0 0 0 0 0a4 7 0 0 1-4-11a4 7 0 0 1 7 0a4 7 0 0 1-3 11c3 0 11-2 17-3c7-1 13-3 21-4c7-2 16-2 23-3c6 0 9 2 15 2c5 0 11-2 17-2c7 0 14 1 21 2c6 0 13-1 20-1c8 1 18 2 26 2c8 1 16 2 24 2c8 0 17 0 25-1c9-1 17-2 24-4c6-1 10-3 16-4c5-1 13 0 16 0c3 0 0 0 0 0a6 8 0 0 1-5-12a6 8 0 0 1 10 0a6 8 0 0 1-5 12c4 0 16 1 22 0c6 0 9-1 14-1c5 0 11 3 17 4c6 0 14 1 20 1c6 0 12 0 18 0c6 0 13 0 19 0c6 0 11 0 18 0c7 0 19-2 25-2c7 0 11 1 16 2c6 0 12 2 18 3c6 1 10 3 17 4c7 0 17 0 25 0c8 0 19-2 22-2M570 378l0 0a4 10 0 0 1-3-15a4 10 0 0 1 7 0a4 10 0 0 1-4 15c4 0 15 0 22 0c7 0 12-2 20-2c7 0 19 0 25-1c7 0 9 0 15 0c7-1 16-1 24-2c8-1 18-2 25-3c8-1 14-1 21-2c7 0 13-1 20-1c6 0 14 1 20 1c6 0 9-1 16-1c7 0 18 1 26 1c8 1 16 1 24 2c7 1 16 2 23 3c7 1 12 2 18 4c5 1 12 4 14 4M814 409c30-2 139-6 181-11c42-5 52-13 73-19c20-5 40-12 48-15M926 405c24-2 109-6 142-10c33-5 41-12 57-17c16-5 32-12 38-14M623 405c58-1 269-5 351-10c82-5 101-12 140-17c39-5 78-12 94-14M638 410c60-2 273-7 356-12c83-5 103-13 142-19c40-5 79-12 95-15M905 400c35-1 161-5 209-9c49-4 61-10 84-15c23-4 47-10 56-12M665 406c61-2 282-6 367-11c86-4 106-12 147-17c41-5 82-12 98-14M865 410c44-2 200-7 261-12c61-5 75-13 104-19c29-5 58-12 70-15M818 398c51-2 232-5 303-9c71-3 88-9 121-14c34-4 68-9 81-11M854 397c50-2 227-5 295-8c69-4 86-10 118-14c33-4 66-9 79-11M904 407c46-2 214-6 279-11c65-5 81-12 112-18c31-5 62-12 74-14M875 408c44-1 204-4 266-7c63-3 77-8 107-12c30-4 59-8 71-10M799 409c54-1 249-4 325-7c76-4 94-9 130-13c36-4 73-8 87-10M824 403c54-1 248-3 323-6c76-3 94-7 130-10c36-3 72-7 86-8M735 401c55 0 256-1 333-2c78-1 97-2 134-3c37-1 74-2 89-2M608 398c71 0 325 0 424-1c99 0 123-1 170-2c47 0 94-1 113-1M878 399c46 0 211-1 275-1c64-1 79-2 110-2c30-1 61-2 73-2M829 407c52 0 242 0 316 0c73 0 91 0 126 1c35 0 70 0 84 0M843 403c36-1 164-3 214-6c50-3 62-7 86-10c24-3 47-7 57-8M711 400c54-1 248-2 323-3c76-1 94-2 130-4c36-1 72-2 86-3" stroke="#c4c4c4" stroke-width="1.0"/>
<path d="M727 364c-8 2-26 12-47 15c-21 3-54 4-80 5c-26 1-40 0-75-1c-35-1-103-4-134-7c-31-3-39-7-53-9c-14-2-27-6-34-5c-7 1-5 5-6 10c-1 5-2 15-3 18a6 50 0 0 1-9-25a6 50 0 0 1 5-67a6 50 0 0 1 7 46a6 50 0 0 1-7 53l16-43a4 34 0 0 1-4-51a4 34 0 0 1 8 0a4 34 0 0 1-4 51l14-24a4 35 0 0 1-4-46a4 35 0 0 1 7-17a4 35 0 0 1 0 56c0-1 1-6 2-5c1 1 2 10 2 12" stroke="#4DBEEE" stroke-width="2.8"/>
<path d="M1273 379c-14 2-57 9-86 11c-29 2-56 1-87 2c-31 1-67 1-100 2c-33 1-50 2-100 3c-50 1-138 3-200 3c-62 0-121 0-175 0c-54 0-110 0-148-2c-38-2-66-5-81-7c-15-2-8-5-10-4c-2 1-4 4-4 7c0 3 4 9 6 9c2 0 4-5 5-7c1-2 0-2 0-2a4 34 0 0 1-3-51a4 34 0 0 1 6 0a4 34 0 0 1-3 51l7-37a3 22 0 0 1-3-33a3 22 0 0 1 6 0a3 22 0 0 1-3 33c1-6 4-30 6-37c2-7 7-3 8-4a4 20 0 0 1-3-30a4 20 0 0 1 6 0a4 20 0 0 1-3 30c1-6 5-33 6-36c1-3 1 17 1 20" stroke="#7E2F8E" stroke-width="2.8"/>
<path d="M278 411c-3 0-13 0-16-1c-3-1-3-2-3-5c0-3 1-11 3-15c2-4 3-10 6-12c3-2 5-2 14-2c9 0 21 2 39 4c18 2 36 5 70 7c34 2 83 6 134 7c51 1 126 0 175-1c49-1 94-1 120-3c26-2 25-6 35-11c10-5 5-17 23-17c18 0 58 11 86 14c28 3 51 5 84 6c33 1 84-1 112-2c28-1 36-2 56-4c20-2 50-5 64-7c14-2 17-4 20-5" stroke="#77AC30" stroke-width="2.8"/>
<path d="M1217 408c-19 0-86 1-117 1c-31 0-53-1-70-3c-17-2-15-6-30-6c-15 0-27 7-60 7c-33 0-100-7-140-9c-40-2-54-3-100-5c-46-2-124-3-175-6c-51-3-109-14-131-11c-22 3 2 23 2 28a6 46 0 0 1-5-69a6 46 0 0 1 10 0a6 46 0 0 1-5 69l0-34a4 20 0 0 1-3-30a4 20 0 0 1 6 0a4 20 0 0 1-3 30c1-10 6-51 8-61c2-10 4-1 5-1a4 22 0 0 1-3-33a4 22 0 0 1 6 0a4 22 0 0 1-3 33c1-8 3-37 4-46c1-9 3-8 3-10a5 20 0 0 1-5-26a5 20 0 0 1 8-10a5 20 0 0 1 0 32a5 20 0 0 1-8-10" stroke="#D95319" stroke-width="2.8"/>
<path d="M760 404c-18 0-71-1-110-2c-39-1-84 0-125-2c-41-2-104-8-123-9c-19-1 9 0 11 0a4 36 0 0 1 2-60a4 36 0 0 1 5 44a4 36 0 0 1-7 16c0-10 2-51 1-61c-1-10-5 0-6 0a3 15 0 0 1-3-22a3 15 0 0 1 6 0a3 15 0 0 1-3 22c1-5 2-20 4-30c2-10 5-23 6-30c1-7-2-8-2-10a4 13 0 0 1-3-20a4 13 0 0 1 6 0a4 13 0 0 1-3 20c1-4 4-17 5-25c1-8 2-16 2-25c0-9-2-23-2-28" stroke="#0072BD" stroke-width="2.8"/>
<path d="M1042 379c-7 1-18 3-42 4c-24 1-67 2-100 2c-33 0-67-1-100-1c-33 0-67-1-100-2c-33-1-71-3-100-4c-29-1-52-2-75-4c-23-2-46-6-64-8c-18-2-34-1-42-3c-8-2-5-6-6-7a5 29 0 0 1 4 44a5 29 0 0 1-8 0a5 29 0 0 1 4-44c-1 7-3 34-4 44c-1 10 1 12 1 14" stroke="#EDB120" stroke-width="2.8"/>
<path d="M366 407c9 0 42-2 54-1c12 1 13 5 20 5c7 0 13-7 20-7c7 0 9 5 20 6c11 1 32 1 45 1c13 0 23-2 35-3c12-1 29-1 40-2c11-1 21-2 26-5c5-3 2-12 3-16c1-4 3-9 3-7c0 2-2 11-2 17c0 6 0 17 0 20" stroke="#EDB120" stroke-width="2.8"/>
<path d="M632 400c11 1 23 6 68 7c45 1 133-2 200-3c67-1 142-1 200-3c58-2 121-6 145-7" stroke="#EDB120" stroke-width="2.8"/>
<path d="M531 353a14 63 0 0 1-12-95a14 63 0 0 1 24 0a14 63 0 0 1-12 95l-1-14a10 44 0 0 1-9-66a10 44 0 0 1 18 0a10 44 0 0 1-9 66l-2-14a5 25 0 0 1-4-37a5 25 0 0 1 8 0a5 25 0 0 1-4 37c2 5 12 20 15 29c3 9 0 18 0 26c0 8-5 16-2 19c3 3 1 2 19 2c18 0 67 1 90-3c23-4 41-16 49-19" stroke="#77AC30" stroke-width="2.8"/>
<path d="M559 329c-4 5-18 21-25 28c-7 7-13 10-17 17c-4 7-10 20-6 25c4 5 18 5 29 6c11 1 28 0 35-1c7-1 6 0 8-6c2-6 1-20 2-28c1-8 4-16 6-19c2-3 4-3 6 1c2 4 3 15 4 23c1 8 0 19 1 23c1 4 3 6 4 2c1-4 3-18 4-25c1-7 1-13 1-15" stroke="#A2142F" stroke-width="2.8"/>
<path d="M528 362c9 1 36 4 52 6c16 2 23 6 43 8c20 2 47 4 77 5c30 1 70 4 100 3c30-1 54-5 80-8c26-3 63-10 76-12" stroke="#A2142F" stroke-width="2.8"/>
<path d="M632 393a6 42 0 0 1-6-63a6 42 0 0 1 12 0a6 42 0 0 1-6 63c1-9 6-37 8-53c2-16 4-28 6-40c2-12 3-28 5-34c2-6 5 0 6 0a7 24 0 0 1 6 36a7 24 0 0 1-12 0a7 24 0 0 1 6-36c1 8 2 46 3 49c1 3 4-23 5-28" stroke="#7E2F8E" stroke-width="2.8"/>
<path d="M646 368c13 1 56 4 78 6c22 2 27 4 56 5c29 1 83 3 120 3c37 0 72-3 100-6c28-3 58-10 70-12" stroke="#7E2F8E" stroke-width="2.8"/>
<path d="M627 400c0-3 1-12 1-20c0-8 1-18 2-25c1-7 2-20 3-20c1 0 2 11 3 20c1 9 1 27 1 35c0 8-2 11-3 13c-1 2-5-1-4-3c1-2 8-2 10-10c2-8 3-27 5-40c2-13 3-26 5-40c2-14 3-40 4-43c1-3 2 17 3 23c1 6 3 10 4 11c1 1 3-2 3-2" stroke="#D95319" stroke-width="2.8"/>
<path d="M729 254a8 39 0 0 1-7-58a8 39 0 0 1 14-1a8 39 0 0 1-7 59l3 1a4 30 0 0 1-3-45a4 30 0 0 1 6 0a4 30 0 0 1-3 45c1 0 4-3 5 0c1 3 3 13 3 16c0 3 0 1 0 1a6 22 0 0 1 5 33a6 22 0 0 1-10 0a6 22 0 0 1 5-33l3 48a5 17 0 0 1 4 26a5 17 0 0 1-8 0a5 17 0 0 1 4-26l-3 45a5 15 0 0 1 4 23a5 15 0 0 1-8 0a5 15 0 0 1 4-23c1 5-5 25 5 30c10 5 29 0 55 0c26 0 67-2 100-2c33 0 67 1 100 2c33 1 62 2 100 3c38 1 87 4 130 3c43-1 108-6 130-7" stroke="#A2142F" stroke-width="2.8"/>
<path d="M795 299c-1 9-3 36-5 51c-2 15-3 30-4 40c-1 10-2 17-3 20" stroke="#4DBEEE" stroke-width="2.8"/>
<path d="M743 388c1 2 5 11 7 12c2 1 5-9 7-8c2 1 4 12 6 12c2 0 5-12 7-12c2 0 4 11 6 12c2 1 4-9 6-8c2 1 5 10 6 12" stroke="#4DBEEE" stroke-width="2.8"/>
<path d="M757 407c0-4 0-14 1-22c1-8 2-21 4-25c2-4 3 1 6 1c3 0 0-1 12 1c12 2 40 5 60 8c20 3 40 7 60 9c20 2 35 1 60 1c25 0 63-1 90-2c27-1 48-4 70-6c22-2 54-7 65-8" stroke="#0072BD" stroke-width="2.8"/>
<path d="M845 347a6 30 0 0 1-5-45a6 30 0 0 1 10 0a6 30 0 0 1-5 45c1 0 3 3 5-2c2-5 3-13 5-25c2-12 4-37 5-44" stroke="#7E2F8E" stroke-width="2.8"/>
<path d="M856 334a5 34 0 0 1 4 51a5 34 0 0 1-8 0a5 34 0 0 1 4-51c1 10-2 48 5 58c7 10 33 0 39 0" stroke="#7E2F8E" stroke-width="2.8"/>
<path d="M930 188c0 10-1 43-1 62c0 19-1 37-1 50c0 13-2 16-2 26c0 10-1 20-1 34c0 14 0 39 0 47" stroke="#77AC30" stroke-width="2.8"/>
<path d="M930 410a6 40 0 0 1-5-60a6 40 0 0 1 10 0a6 40 0 0 1-5 60c-8 0-47-3-50-3c-3 0 22 1 30 1c8 0 12-1 15-1" stroke="#77AC30" stroke-width="2.8"/>
<path d="M986 354a5 24 0 0 1-4-36a5 24 0 0 1 8 0a5 24 0 0 1-4 36l5-25a4 12 0 0 1-3-18a4 12 0 0 1 6 0a4 12 0 0 1-3 18l-1 49a4 18 0 0 1-3-27a4 18 0 0 1 6 0a4 18 0 0 1-3 27l-2 16a4 14 0 0 1-3-21a4 14 0 0 1 6 0a4 14 0 0 1-3 21c-1-2-3-9-4-9c-1 0-2 6-2 8c0 2 2 5 4 5c2 0 4-2 6-3c2-1-7-3 3-5c10-2 28-3 55-5c27-2 89-5 107-6" stroke="#A2142F" stroke-width="2.8"/>
<path d="M1137 354c0 4-1 18-1 26c0 8-2 14-2 20c0 6-1 12-1 15" stroke="#4DBEEE" stroke-width="2.8"/>
<path d="M1054 407c4 0 18 1 26 1c8 0 14-1 20-3c6-2 11-5 15-7c4-2 5-7 7-8c2-1 5 0 6 2c1 2 1 5 2 8c1 3-2 8 3 9c5 1 7 0 27 0c20 0 61-1 90-1c29 0 69 0 83 0" stroke="#4DBEEE" stroke-width="2.8"/>
<path d="M939 407c3 0 13-1 21-2c8-1 18-1 25-2c7-1 11-2 15-3c4-1 8-4 10-3c2 1 2 5 5 7c3 2 1 1 15 2c14 1 39 2 70 2c31 0 97-1 116-1" stroke="#D95319" stroke-width="2.8"/>
<path d="M880 385c13 1 53 4 80 3c27-1 68-8 82-9" stroke="#EDB120" stroke-width="2.8"/>
<path d="M500 377c0 2 2 9 3 13c1 4 2 6 3 10c1 4 2 11 2 13" stroke="#4DBEEE" stroke-width="2.8"/>
<path d="M480 405c10 0 40 1 60 1c20 0 33 0 60 0c27 0 67-1 100-1c33 0 67-1 100-1c33 0 83-2 100-2" stroke="#A2142F" stroke-width="2.8"/>
<path d="M594 404c8 0 35 0 46 1c11 1 13 2 20 3c7 1 16 3 20 4c4 1 6 2 7 3" stroke="#7E2F8E" stroke-width="2.8"/>
<path d="M705 404c7 0 30 0 45 1c15 1 38 3 46 4" stroke="#0072BD" stroke-width="2.8"/>
<path d="M825 405c6 0 23 1 35 1c12 0 33 1 40 1" stroke="#77AC30" stroke-width="2.8"/>
</g>
<path d="M125.2 416.8V404.0M125.2 75.5V88.3M307.6 416.8V404.0M307.6 75.5V88.3M490.1 416.8V404.0M490.1 75.5V88.3M672.5 416.8V404.0M672.5 75.5V88.3M854.9 416.8V404.0M854.9 75.5V88.3M1037.3 416.8V404.0M1037.3 75.5V88.3M1219.8 416.8V404.0M1219.8 75.5V88.3M1402.2 416.8V404.0M1402.2 75.5V88.3M125.2 416.8H138.0M1402.2 416.8H1389.4M125.2 303.0H138.0M1402.2 303.0H1389.4M125.2 189.3H138.0M1402.2 189.3H1389.4M125.2 75.5H138.0M1402.2 75.5H1389.4" stroke="#606060" stroke-width="1.1" fill="none"/>
<rect x="125.2" y="75.5" width="1277.0" height="341.3" stroke="#707070" stroke-width="1.2" fill="none"/>
<g font-family="Liberation Sans, Arial, sans-serif" font-size="44" fill="#2b2b2b"><text x="125.2" y="469.0" text-anchor="middle">5</text><text x="307.6" y="469.0" text-anchor="middle">5.5</text><text x="490.1" y="469.0" text-anchor="middle">6</text><text x="672.5" y="469.0" text-anchor="middle">6.5</text><text x="854.9" y="469.0" text-anchor="middle">7</text><text x="1037.3" y="469.0" text-anchor="middle">7.5</text><text x="1219.8" y="469.0" text-anchor="middle">8</text><text x="1402.2" y="469.0" text-anchor="middle">8.5</text><text x="113.6" y="432.6" text-anchor="end">0</text><text x="113.6" y="318.8" text-anchor="end">5</text><text x="113.6" y="205.1" text-anchor="end">10</text><text x="113.6" y="91.3" text-anchor="end">15</text></g>
<text x="21" y="24.3" font-family="Liberation Sans, Arial, sans-serif" font-weight="bold" font-size="30.5" fill="#0a0a0a">A</text>
<g font-family="Liberation Serif, serif" fill="#2b2b2b"><text transform="translate(719.7,516.8) scale(1.1,1)" font-style="italic" font-size="47">x</text><text transform="translate(747.8,527.7) scale(1.3,1.47)" font-size="47">/</text><text x="769.5" y="516.8" font-style="italic" font-size="48.5">H</text></g>
<g transform="translate(47,246.2) rotate(-90)" font-family="Liberation Serif, serif" fill="#2b2b2b"><text x="-31" y="0" font-style="italic" font-size="47">z</text><text transform="translate(-8.3,10.9) scale(1.3,1.47)" font-size="47">/</text><text x="12.6" y="0" font-style="italic" font-size="45">δ</text></g>
<path d="M267.4 673.7V1015.3M409.3 673.7V1015.3M551.2 673.7V1015.3M693.1 673.7V1015.3M834.9 673.7V1015.3M976.8 673.7V1015.3M1118.7 673.7V1015.3M1260.6 673.7V1015.3M125.5 901.4H1402.5M125.5 787.6H1402.5" stroke="#ebebeb" stroke-width="1" fill="none"/>
<clipPath id="clipB"><rect x="125.5" y="673.7" width="1277.0" height="341.5999999999999"/></clipPath>
<g clip-path="url(#clipB)" fill="none" stroke-linejoin="round" stroke-linecap="round">
<path d="M240 1002a4 15 0 0 1-2-24a4 15 0 0 1 7 4a4 15 0 0 1-5 20M237 989a4 26 0 0 1-4-41a4 26 0 0 1 8 3a4 26 0 0 1-4 38M242 994a8 24 0 0 1-10-27a8 24 0 0 1 13-14a8 24 0 0 1-3 41M205 974a5 20 0 0 1-3-32a5 20 0 0 1 8 7a5 20 0 0 1-5 25l2 1a3 14 0 0 1-3-22a3 14 0 0 1 6 1a3 14 0 0 1-3 21l-1 0a2 9 0 0 1-1-14a2 9 0 0 1 4 1a2 9 0 0 1-3 13M206 999a5 29 0 0 1-6-39a5 29 0 0 1 9-8a5 29 0 0 1-3 47l-2 0a4 21 0 0 1-3-33a4 21 0 0 1 7 4a4 21 0 0 1-4 29l1 0a2 13 0 0 1-2-18a2 13 0 0 1 4-2a2 13 0 0 1-2 20M237 979a5 20 0 0 1-2-33a5 20 0 0 1 8 10a5 20 0 0 1-6 23l0 1a4 14 0 0 1-3-22a4 14 0 0 1 6 1a4 14 0 0 1-3 21M212 982a6 12 0 0 1-4-20a6 12 0 0 1 9 3a6 12 0 0 1-5 17l1 0a4 9 0 0 1-5-11a4 9 0 0 1 7-4a4 9 0 0 1-2 15l2 0a2 5 0 0 1-2-8a2 5 0 0 1 4 0a2 5 0 0 1-2 8M217 999a8 19 0 0 1-11-21a8 19 0 0 1 13-11a8 19 0 0 1-2 32l-2 1a6 14 0 0 1-6-18a6 14 0 0 1 9-5a6 14 0 0 1-3 23l-4 0a3 8 0 0 1-3-12a3 8 0 0 1 6-1a3 8 0 0 1-3 13M200 994a7 28 0 0 1-4-47a7 28 0 0 1 11 10a7 28 0 0 1-7 37M227 965a7 16 0 0 1-9-20a7 16 0 0 1 12-6a7 16 0 0 1-3 26l0 0a5 11 0 0 1-7-13a5 11 0 0 1 9-6a5 11 0 0 1-2 19M198 987a5 25 0 0 1-4-36a5 25 0 0 1 8-1a5 25 0 0 1-4 37l0 0a3 18 0 0 1-2-28a3 18 0 0 1 6 3a3 18 0 0 1-4 25l-1 0a2 11 0 0 1-1-18a2 11 0 0 1 3 4a2 11 0 0 1-2 14M236 977a8 23 0 0 1-10-27a8 23 0 0 1 13-12a8 23 0 0 1-3 39l-4 1a6 17 0 0 1-4-26a6 17 0 0 1 10 3a6 17 0 0 1-6 23l2 0a3 10 0 0 1-2-16a3 10 0 0 1 6 2a3 10 0 0 1-4 14M201 988a5 13 0 0 1-4-20a5 13 0 0 1 8 0a5 13 0 0 1-4 20M196 983a6 12 0 0 1-6-17a6 12 0 0 1 10-3a6 12 0 0 1-4 20l-1 0a4 9 0 0 1-2-15a4 9 0 0 1 7 4a4 9 0 0 1-5 11l3 0a2 5 0 0 1-3-6a2 5 0 0 1 4-3a2 5 0 0 1-1 9M238 976a12 46 0 0 1-10-69a12 46 0 0 1 20 0a12 46 0 0 1-10 69M314 933a10 28 0 0 1-9-42a10 28 0 0 1 18 0a10 28 0 0 1-9 42M312 955a7 40 0 0 1-6-60a7 40 0 0 1 12 0a7 40 0 0 1-6 60M312 936a4 26 0 0 1-5-30a4 26 0 0 1 7-14a4 26 0 0 1-2 44l0 1a3 18 0 0 1-3-27a3 18 0 0 1 5-1a3 18 0 0 1-2 28M309 957a4 26 0 0 1-6-33a4 26 0 0 1 8-10a4 26 0 0 1-2 43l0 1a3 19 0 0 1-3-26a3 19 0 0 1 6-4a3 19 0 0 1-3 30l-4 0a2 12 0 0 1-2-15a2 12 0 0 1 3-5a2 12 0 0 1-1 20M307 939a7 26 0 0 1-4-43a7 26 0 0 1 12 10a7 26 0 0 1-8 33M311 939a6 23 0 0 1-2-37a6 23 0 0 1 9 10a6 23 0 0 1-7 27l4 0a4 16 0 0 1-5-18a4 16 0 0 1 6-10a4 16 0 0 1-1 28M311 953a5 22 0 0 1-4-31a5 22 0 0 1 8-4a5 22 0 0 1-4 35l1 0a3 16 0 0 1-3-24a3 16 0 0 1 6 0a3 16 0 0 1-3 24l-3 0a2 10 0 0 1-2-13a2 10 0 0 1 4-3a2 10 0 0 1-2 16M359 898a5 20 0 0 1-6-26a5 20 0 0 1 8-7a5 20 0 0 1-2 33M361 893a5 20 0 0 1-4-33a5 20 0 0 1 9 5a5 20 0 0 1-5 28l-2-1a4 15 0 0 1-1-25a4 15 0 0 1 6 8a4 15 0 0 1-5 17l2 1a2 9 0 0 1-3-11a2 9 0 0 1 4-5a2 9 0 0 1-1 16M364 892a4 20 0 0 1-4-28a4 20 0 0 1 6-4a4 20 0 0 1-2 32l1 0a3 15 0 0 1-3-18a3 15 0 0 1 4-7a3 15 0 0 1-1 25l-1 0a2 9 0 0 1-2-11a2 9 0 0 1 2-4a2 9 0 0 1 0 15M364 901a5 11 0 0 1-2-19a5 11 0 0 1 8 6a5 11 0 0 1-6 13l3 0a3 8 0 0 1-4-11a3 8 0 0 1 6-1a3 8 0 0 1-2 12M366 903a4 19 0 0 1-5-25a4 19 0 0 1 7-6a4 19 0 0 1-2 31l-2 0a3 14 0 0 1-1-23a3 14 0 0 1 5 7a3 14 0 0 1-4 16l3 0a2 8 0 0 1-3-9a2 8 0 0 1 3-5a2 8 0 0 1 0 14M358 900a4 11 0 0 1-2-20a4 11 0 0 1 7 6a4 11 0 0 1-5 14l1 0a3 8 0 0 1-1-14a3 8 0 0 1 5 4a3 8 0 0 1-4 10M437 895a6 19 0 0 1-5-28a6 19 0 0 1 10 1a6 19 0 0 1-5 27l0-1a4 13 0 0 1-2-22a4 13 0 0 1 7 7a4 13 0 0 1-5 15M441 907a7 15 0 0 1-3-24a7 15 0 0 1 11 5a7 15 0 0 1-8 19M453 906a6 23 0 0 1-7-28a6 23 0 0 1 10-11a6 23 0 0 1-3 39M447 907a6 27 0 0 1-8-33a6 27 0 0 1 10-12a6 27 0 0 1-2 45l-3 0a4 19 0 0 1-2-33a4 19 0 0 1 8 9a4 19 0 0 1-6 24M445 913a6 23 0 0 1-6-30a6 23 0 0 1 9-7a6 23 0 0 1-3 37l-2-1a4 16 0 0 1-1-27a4 16 0 0 1 6 8a4 16 0 0 1-5 19l-2 1a2 10 0 0 1-1-17a2 10 0 0 1 4 4a2 10 0 0 1-3 13M454 921a6 15 0 0 1-8-17a6 15 0 0 1 10-9a6 15 0 0 1-2 26l-1 1a5 11 0 0 1-4-17a5 11 0 0 1 8 1a5 11 0 0 1-4 16M441 929a7 18 0 0 1-6-26a7 18 0 0 1 11-1a7 18 0 0 1-5 27l-1 0a5 13 0 0 1-2-21a5 13 0 0 1 8 4a5 13 0 0 1-6 17M451 910a7 21 0 0 1-8-28a7 21 0 0 1 12-7a7 21 0 0 1-4 35M447 920a6 25 0 0 1-7-33a6 25 0 0 1 11-8a6 25 0 0 1-4 41M445 909a8 27 0 0 1-8-39a8 27 0 0 1 14-3a8 27 0 0 1-6 42l-3 0a6 19 0 0 1-3-32a6 19 0 0 1 10 6a6 19 0 0 1-7 26l0 0a3 12 0 0 1-3-18a3 12 0 0 1 6 1a3 12 0 0 1-3 17M441 923a5 26 0 0 1-4-38a5 26 0 0 1 7-3a5 26 0 0 1-3 41l-2 0a3 19 0 0 1-2-28a3 19 0 0 1 5 0a3 19 0 0 1-3 28l4 0a2 12 0 0 1-3-13a2 12 0 0 1 3-7a2 12 0 0 1 0 20M438 921a5 30 0 0 1-6-38a5 30 0 0 1 9-12a5 30 0 0 1-3 50M523 898a5 16 0 0 1-3-26a5 16 0 0 1 8 3a5 16 0 0 1-5 23M535 912a4 18 0 0 1-5-23a4 18 0 0 1 7-7a4 18 0 0 1-2 30l1 0a3 13 0 0 1-4-15a3 13 0 0 1 5-7a3 13 0 0 1-1 22M525 903a6 13 0 0 1-6-18a6 13 0 0 1 10-2a6 13 0 0 1-4 20l-2 0a4 9 0 0 1-2-15a4 9 0 0 1 7 3a4 9 0 0 1-5 12M527 905a5 22 0 0 1-5-30a5 22 0 0 1 8-5a5 22 0 0 1-3 35l0 0a3 16 0 0 1-3-22a3 16 0 0 1 5-3a3 16 0 0 1-2 25M528 897a3 13 0 0 1-1-22a3 13 0 0 1 5 7a3 13 0 0 1-4 15M538 897a5 17 0 0 1-4-26a5 17 0 0 1 8 0a5 17 0 0 1-4 26l0 0a3 13 0 0 1-4-15a3 13 0 0 1 5-6a3 13 0 0 1-1 21l-1 0a2 8 0 0 1 0-13a2 8 0 0 1 3 4a2 8 0 0 1-3 9M630 894a3 20 0 0 1-1-33a3 20 0 0 1 5 8a3 20 0 0 1-4 25M624 876a3 12 0 0 1-2-18a3 12 0 0 1 5 2a3 12 0 0 1-3 16l1 0a2 8 0 0 1-3-11a2 8 0 0 1 4-2a2 8 0 0 1-1 13M627 884a4 14 0 0 1-4-18a4 14 0 0 1 6-4a4 14 0 0 1-2 22l-1 0a3 10 0 0 1-3-14a3 10 0 0 1 5-1a3 10 0 0 1-2 15l-3 0a2 6 0 0 1 0-10a2 6 0 0 1 3 3a2 6 0 0 1-3 7M621 887a5 19 0 0 1-3-31a5 19 0 0 1 9 8a5 19 0 0 1-6 23l2 0a4 14 0 0 1-5-15a4 14 0 0 1 6-8a4 14 0 0 1-1 23M621 896a6 13 0 0 1-6-17a6 13 0 0 1 9-5a6 13 0 0 1-3 22M710 832a9 24 0 0 1-10-32a9 24 0 0 1 15-8a9 24 0 0 1-5 40l0 0a6 18 0 0 1-6-26a6 18 0 0 1 11 0a6 18 0 0 1-5 26M701 829a6 22 0 0 1-2-37a6 22 0 0 1 10 12a6 22 0 0 1-8 25M717 850a6 21 0 0 1-7-29a6 21 0 0 1 10-5a6 21 0 0 1-3 34l-3-1a4 15 0 0 1-1-25a4 15 0 0 1 6 7a4 15 0 0 1-5 18l0 1a3 9 0 0 1-2-12a3 9 0 0 1 4-3a3 9 0 0 1-2 15M696 847a7 15 0 0 1-6-23a7 15 0 0 1 12 1a7 15 0 0 1-6 22M715 814a5 16 0 0 1-6-18a5 16 0 0 1 8-9a5 16 0 0 1-2 27M768 863a6 19 0 0 1-5-28a6 19 0 0 1 10 0a6 19 0 0 1-5 28l0 0a4 13 0 0 1-5-19a4 13 0 0 1 7-3a4 13 0 0 1-2 22l-2 0a3 8 0 0 1-3-11a3 8 0 0 1 4-3a3 8 0 0 1-1 14M757 865a4 18 0 0 1-2-30a4 18 0 0 1 7 10a4 18 0 0 1-5 20l1 1a3 13 0 0 1-3-18a3 13 0 0 1 5-3a3 13 0 0 1-2 21l3-1a2 8 0 0 1-2-9a2 8 0 0 1 3-4a2 8 0 0 1-1 13M759 876a3 20 0 0 1-4-24a3 20 0 0 1 5-9a3 20 0 0 1-1 33l-2 0a2 14 0 0 1-1-23a2 14 0 0 1 4 6a2 14 0 0 1-3 17l-1 0a1 9 0 0 1-2-10a1 9 0 0 1 3-4a1 9 0 0 1-1 14M766 864a5 22 0 0 1-5-30a5 22 0 0 1 8-6a5 22 0 0 1-3 36M766 865a6 22 0 0 1-4-36a6 22 0 0 1 11 6a6 22 0 0 1-7 30l3 0a5 16 0 0 1-5-22a5 16 0 0 1 8-3a5 16 0 0 1-3 25M771 854a6 15 0 0 1-4-25a6 15 0 0 1 11 6a6 15 0 0 1-7 19l0 0a5 11 0 0 1-3-17a5 11 0 0 1 8 3a5 11 0 0 1-5 14M770 878a5 20 0 0 1-4-30a5 20 0 0 1 8-1a5 20 0 0 1-4 31M851 877a5 12 0 0 1-4-18a5 12 0 0 1 8-1a5 12 0 0 1-4 19l0 0a3 9 0 0 1-1-16a3 9 0 0 1 5 5a3 9 0 0 1-4 11l-2 0a2 5 0 0 1-2-7a2 5 0 0 1 3-2a2 5 0 0 1-1 9M852 877a4 10 0 0 1-2-16a4 10 0 0 1 7 5a4 10 0 0 1-5 11l1 1a3 7 0 0 1-2-11a3 7 0 0 1 5 1a3 7 0 0 1-3 10M853 875a5 13 0 0 1-2-23a5 13 0 0 1 8 8a5 13 0 0 1-6 15M857 871a4 15 0 0 1-2-24a4 15 0 0 1 6 4a4 15 0 0 1-4 20l1 0a3 11 0 0 1-1-18a3 11 0 0 1 4 5a3 11 0 0 1-3 13l-1 0a2 7 0 0 1 0-11a2 7 0 0 1 2 3a2 7 0 0 1-2 8M859 868a3 8 0 0 1-4-10a3 8 0 0 1 6-3a3 8 0 0 1-2 13M942 844a7 16 0 0 1-4-26a7 16 0 0 1 11 5a7 16 0 0 1-7 21M952 885a8 23 0 0 1-9-28a8 23 0 0 1 13-10a8 23 0 0 1-4 38l-3 0a6 16 0 0 1-5-24a6 16 0 0 1 10 0a6 16 0 0 1-5 24l4 0a3 10 0 0 1-4-13a3 10 0 0 1 6-3a3 10 0 0 1-2 16M964 885a8 18 0 0 1-5-29a8 18 0 0 1 14 7a8 18 0 0 1-9 22M944 886a7 21 0 0 1-8-27a7 21 0 0 1 12-8a7 21 0 0 1-4 35M947 846a6 17 0 0 1-7-22a6 17 0 0 1 10-5a6 17 0 0 1-3 27l-2 0a4 12 0 0 1-3-17a4 12 0 0 1 7-1a4 12 0 0 1-4 18M946 861a5 18 0 0 1-6-22a5 18 0 0 1 9-7a5 18 0 0 1-3 29l0 0a4 13 0 0 1-3-19a4 13 0 0 1 7 1a4 13 0 0 1-4 18l1 0a2 8 0 0 1-1-13a2 8 0 0 1 4 4a2 8 0 0 1-3 9M1043 952a4 20 0 0 1-3-32a4 20 0 0 1 8 4a4 20 0 0 1-5 28l2 0a3 15 0 0 1-3-21a3 15 0 0 1 5-1a3 15 0 0 1-2 22l-2 0a2 9 0 0 1-3-11a2 9 0 0 1 3-5a2 9 0 0 1 0 16M1048 954a3 22 0 0 1-3-34a3 22 0 0 1 6 3a3 22 0 0 1-3 31l-1 0a2 16 0 0 1-2-26a2 16 0 0 1 5 5a2 16 0 0 1-3 21l0 0a2 10 0 0 1-1-16a2 10 0 0 1 3 5a2 10 0 0 1-2 11M1041 964a4 12 0 0 1-3-18a4 12 0 0 1 7 1a4 12 0 0 1-4 17l2 0a3 8 0 0 1-3-12a3 8 0 0 1 5-1a3 8 0 0 1-2 13M1037 947a6 24 0 0 1-3-40a6 24 0 0 1 10 10a6 24 0 0 1-7 30l0 1a4 18 0 0 1-1-30a4 18 0 0 1 6 8a4 18 0 0 1-5 22M1054 964a5 11 0 0 1-3-18a5 11 0 0 1 8 3a5 11 0 0 1-5 15l-1 1a4 8 0 0 1-2-14a4 8 0 0 1 6 2a4 8 0 0 1-4 12l2-1a2 5 0 0 1-1-8a2 5 0 0 1 4 2a2 5 0 0 1-3 6M1054 939a7 25 0 0 1-6-37a7 25 0 0 1 12-1a7 25 0 0 1-6 38l-1-1a5 18 0 0 1-4-27a5 18 0 0 1 9 2a5 18 0 0 1-5 25M1058 940a7 21 0 0 1-6-31a7 21 0 0 1 12-1a7 21 0 0 1-6 32M1053 956a5 15 0 0 1-3-24a5 15 0 0 1 8 4a5 15 0 0 1-5 20l0 0a3 11 0 0 1-3-15a3 11 0 0 1 6-1a3 11 0 0 1-3 16l2 0a2 7 0 0 1-1-11a2 7 0 0 1 3 3a2 7 0 0 1-2 8M1053 948a4 17 0 0 1-3-27a4 17 0 0 1 7 2a4 17 0 0 1-4 25l-1-1a3 12 0 0 1-1-20a3 12 0 0 1 5 5a3 12 0 0 1-4 15l-1 0a2 7 0 0 1-2-9a2 7 0 0 1 3-3a2 7 0 0 1-1 12M1118 916a5 17 0 0 1-4-25a5 17 0 0 1 8 1a5 17 0 0 1-4 24l-1 0a3 12 0 0 1-3-17a3 12 0 0 1 6-2a3 12 0 0 1-3 19l-2 0a2 7 0 0 1-2-12a2 7 0 0 1 4 2a2 7 0 0 1-2 10M1117 881a7 15 0 0 1-5-23a7 15 0 0 1 12 2a7 15 0 0 1-7 21l3 0a5 11 0 0 1-6-13a5 11 0 0 1 8-5a5 11 0 0 1-2 18M1113 940a5 23 0 0 1-6-26a5 23 0 0 1 8-13a5 23 0 0 1-2 39M1113 925a4 25 0 0 1-4-38a4 25 0 0 1 8 0a4 25 0 0 1-4 38M1121 941a4 27 0 0 1-3-42a4 27 0 0 1 7 4a4 27 0 0 1-4 38l1 0a3 19 0 0 1-2-31a3 19 0 0 1 4 4a3 19 0 0 1-2 27l1 0a2 12 0 0 1 0-21a2 12 0 0 1 2 7a2 12 0 0 1-2 14M1125 908a6 12 0 0 1-7-16a6 12 0 0 1 10-4a6 12 0 0 1-3 20l-1 1a4 9 0 0 1-2-15a4 9 0 0 1 7 3a4 9 0 0 1-5 12M1123 996a3 20 0 0 1-3-32a3 20 0 0 1 6 2a3 20 0 0 1-3 30M1123 908a4 15 0 0 1-3-24a4 15 0 0 1 8 3a4 15 0 0 1-5 21l-1 0a3 11 0 0 1-2-18a3 11 0 0 1 6 3a3 11 0 0 1-4 15M1119 913a5 14 0 0 1-3-24a5 14 0 0 1 9 5a5 14 0 0 1-6 19M1180 907a14 32 0 0 1-12-48a14 32 0 0 1 24 0a14 32 0 0 1-12 48M1186 900a9 30 0 0 1-8-45a9 30 0 0 1 16 0a9 30 0 0 1-8 45M1310 988a6 22 0 0 1-5-33a6 22 0 0 1 10 0a6 22 0 0 1-5 33M1312 972a3 12 0 0 1-3-18a3 12 0 0 1 6 0a3 12 0 0 1-3 18M898 928a3 10 0 0 1-4-13a3 10 0 0 1 5-3a3 10 0 0 1-1 16l-1 0a2 7 0 0 1-2-8a2 7 0 0 1 3-4a2 7 0 0 1-1 12l1 0a1 4 0 0 1-1-7a1 4 0 0 1 2 2a1 4 0 0 1-1 5M958 990a4 8 0 0 1-3-11a4 8 0 0 1 6-2a4 8 0 0 1-3 13M627 923a3 7 0 0 1-2-11a3 7 0 0 1 6 1a3 7 0 0 1-4 10l1 0a2 5 0 0 1-3-6a2 5 0 0 1 4-2a2 5 0 0 1-1 8l-3 0a1 3 0 0 1 0-5a1 3 0 0 1 2 1a1 3 0 0 1-2 4M1014 981a3 7 0 0 1-3-11a3 7 0 0 1 5 1a3 7 0 0 1-2 10l1 0a2 5 0 0 1-2-8a2 5 0 0 1 4 1a2 5 0 0 1-2 7M1095 981a3 6 0 0 1-3-8a3 6 0 0 1 5-2a3 6 0 0 1-2 10l0 0a2 5 0 0 1-2-5a2 5 0 0 1 3-2a2 5 0 0 1-1 7l-2 0a1 3 0 0 1-1-3a1 3 0 0 1 2-1a1 3 0 0 1-1 4M968 1001a4 10 0 0 1-2-17a4 10 0 0 1 7 5a4 10 0 0 1-5 12M1076 973a6 17 0 0 1-4-26a6 17 0 0 1 11 4a6 17 0 0 1-7 22l0 1a4 12 0 0 1-4-17a4 12 0 0 1 8-2a4 12 0 0 1-4 19l-2 0a3 7 0 0 1-3-10a3 7 0 0 1 5-2a3 7 0 0 1-2 12M925 953a3 8 0 0 1-2-13a3 8 0 0 1 6 3a3 8 0 0 1-4 10l1 0a2 6 0 0 1-3-8a2 6 0 0 1 5-1a2 6 0 0 1-2 9M312 997a4 8 0 0 1-4-11a4 8 0 0 1 6-2a4 8 0 0 1-2 13l-2 0a3 6 0 0 1-1-9a3 6 0 0 1 4 1a3 6 0 0 1-3 8M393 979a3 7 0 0 1-2-11a3 7 0 0 1 5 1a3 7 0 0 1-3 10M917 990a4 17 0 0 1-4-27a4 17 0 0 1 8 1a4 17 0 0 1-4 26l1 0a3 12 0 0 1-3-18a3 12 0 0 1 6-2a3 12 0 0 1-3 20l-2 0a2 8 0 0 1-2-13a2 8 0 0 1 3 2a2 8 0 0 1-1 11M444 990a6 14 0 0 1-7-17a6 14 0 0 1 10-8a6 14 0 0 1-3 25l0 0a4 10 0 0 1-5-13a4 10 0 0 1 7-4a4 10 0 0 1-2 17l-1 0a2 6 0 0 1-2-10a2 6 0 0 1 4 2a2 6 0 0 1-2 8M834 929a3 6 0 0 1-3-9a3 6 0 0 1 5 0a3 6 0 0 1-2 9l-1 0a2 4 0 0 1-2-6a2 4 0 0 1 3 0a2 4 0 0 1-1 6l-1 0a1 3 0 0 1 0-4a1 3 0 0 1 2 1a1 3 0 0 1-2 3M734 970a5 16 0 0 1-3-26a5 16 0 0 1 9 5a5 16 0 0 1-6 21l1 0a4 11 0 0 1-5-14a4 11 0 0 1 7-6a4 11 0 0 1-2 20M304 1010a4 9 0 0 1-4-13a4 9 0 0 1 7-2a4 9 0 0 1-3 15M946 941a5 18 0 0 1-4-26a5 18 0 0 1 9-1a5 18 0 0 1-5 27l1 0a4 13 0 0 1-4-17a4 13 0 0 1 7-4a4 13 0 0 1-3 21M579 979a3 11 0 0 1-3-16a3 11 0 0 1 5-2a3 11 0 0 1-2 18l0 0a2 8 0 0 1-2-11a2 8 0 0 1 4-3a2 8 0 0 1-2 14l-1 0a1 5 0 0 1-1-7a1 5 0 0 1 2-1a1 5 0 0 1-1 8M1030 927a3 6 0 0 1-2-10a3 6 0 0 1 5 1a3 6 0 0 1-3 9l0 0a2 5 0 0 1-2-7a2 5 0 0 1 3 0a2 5 0 0 1-1 7l1 0a1 3 0 0 1-2-4a1 3 0 0 1 3 0a1 3 0 0 1-1 4M753 954a5 11 0 0 1-5-16a5 11 0 0 1 8-2a5 11 0 0 1-3 18M1018 963a6 14 0 0 1-2-23a6 14 0 0 1 9 8a6 14 0 0 1-7 15l2 1a4 10 0 0 1-5-12a4 10 0 0 1 7-5a4 10 0 0 1-2 17M783 984a3 8 0 0 1-2-12a3 8 0 0 1 6 1a3 8 0 0 1-4 11M791 968a4 9 0 0 1-4-13a4 9 0 0 1 7-1a4 9 0 0 1-3 14l0 0a3 6 0 0 1-2-10a3 6 0 0 1 5 1a3 6 0 0 1-3 9M960 934a7 17 0 0 1-1-29a7 17 0 0 1 10 10a7 17 0 0 1-9 19l2 1a5 12 0 0 1-3-20a5 12 0 0 1 8 4a5 12 0 0 1-5 16M572 1001a5 15 0 0 1-7-18a5 15 0 0 1 9-8a5 15 0 0 1-2 26l-3 0a4 11 0 0 1-1-18a4 11 0 0 1 6 5a4 11 0 0 1-5 13M779 993a3 8 0 0 1-4-10a3 8 0 0 1 6-2a3 8 0 0 1-2 12l-1 1a3 6 0 0 1-2-9a3 6 0 0 1 4 1a3 6 0 0 1-2 8l-1-1a2 3 0 0 1-2-4a2 3 0 0 1 3-1a2 3 0 0 1-1 5M1010 934a4 9 0 0 1-2-15a4 9 0 0 1 6 4a4 9 0 0 1-4 11M931 944a6 15 0 0 1-8-20a6 15 0 0 1 11-6a6 15 0 0 1-3 26l-2 0a5 11 0 0 1-6-14a5 11 0 0 1 8-5a5 11 0 0 1-2 19M292 1006a3 6 0 0 1-2-10a3 6 0 0 1 5 0a3 6 0 0 1-3 10l2 0a2 5 0 0 1-3-7a2 5 0 0 1 4-1a2 5 0 0 1-1 8l0-1a1 3 0 0 1-2-3a1 3 0 0 1 2-1a1 3 0 0 1 0 4M349 962a3 15 0 0 1-1-26a3 15 0 0 1 5 7a3 15 0 0 1-4 19l1 1a2 11 0 0 1-1-18a2 11 0 0 1 3 3a2 11 0 0 1-2 15l1 0a1 7 0 0 1-1-10a1 7 0 0 1 2 0a1 7 0 0 1-1 10M324 973a4 9 0 0 1-5-12a4 9 0 0 1 7-4a4 9 0 0 1-2 16M291 937a6 14 0 0 1-2-23a6 14 0 0 1 10 7a6 14 0 0 1-8 16l2 0a4 10 0 0 1-4-14a4 10 0 0 1 8-1a4 10 0 0 1-4 15M543 936a4 9 0 0 1-3-14a4 9 0 0 1 7 1a4 9 0 0 1-4 13l0 0a3 7 0 0 1-2-10a3 7 0 0 1 5 0a3 7 0 0 1-3 10M361 954a6 13 0 0 1-7-16a6 13 0 0 1 10-5a6 13 0 0 1-3 21M475 955a5 11 0 0 1-3-18a5 11 0 0 1 9 3a5 11 0 0 1-6 15l1 0a3 8 0 0 1-3-11a3 8 0 0 1 6-2a3 8 0 0 1-3 13M842 969a4 9 0 0 1-3-14a4 9 0 0 1 7 0a4 9 0 0 1-4 14l0 0a3 7 0 0 1-2-11a3 7 0 0 1 5 1a3 7 0 0 1-3 10M359 917a3 7 0 0 1-3-10a3 7 0 0 1 5-1a3 7 0 0 1-2 11l0 0a2 5 0 0 1-1-8a2 5 0 0 1 3 2a2 5 0 0 1-2 6M643 939a7 15 0 0 1-7-21a7 15 0 0 1 12-1a7 15 0 0 1-5 22l-2 0a5 10 0 0 1-2-18a5 10 0 0 1 8 5a5 10 0 0 1-6 13l2 0a3 6 0 0 1-2-9a3 6 0 0 1 5-1a3 6 0 0 1-3 10M986 931a6 15 0 0 1-8-17a6 15 0 0 1 10-8a6 15 0 0 1-2 25l-1 0a4 11 0 0 1-5-13a4 11 0 0 1 7-4a4 11 0 0 1-2 17M416 982a5 12 0 0 1-3-20a5 12 0 0 1 9 5a5 12 0 0 1-6 15l2 0a4 9 0 0 1-5-10a4 9 0 0 1 7-4a4 9 0 0 1-2 14M840 981a4 18 0 0 1-4-25a4 18 0 0 1 6-3a4 18 0 0 1-2 28l0 0a3 13 0 0 1-3-17a3 13 0 0 1 5-4a3 13 0 0 1-2 21M988 976a5 16 0 0 1-5-24a5 16 0 0 1 9-1a5 16 0 0 1-4 25l-2 0a4 12 0 0 1-3-19a4 12 0 0 1 6 2a4 12 0 0 1-3 17l2-1a2 7 0 0 1-1-12a2 7 0 0 1 4 4a2 7 0 0 1-3 8M998 958a4 17 0 0 1-6-20a4 17 0 0 1 7-10a4 17 0 0 1-1 30l-2 1a3 13 0 0 1-3-19a3 13 0 0 1 5 0a3 13 0 0 1-2 19l1 0a2 8 0 0 1-1-11a2 8 0 0 1 3-1a2 8 0 0 1-2 12M207 963a4 17 0 0 1-3-27a4 17 0 0 1 7 2a4 17 0 0 1-4 25l0 0a3 12 0 0 1-2-20a3 12 0 0 1 5 2a3 12 0 0 1-3 18l0 0a2 8 0 0 1-1-12a2 8 0 0 1 3 1a2 8 0 0 1-2 11M921 1005a3 16 0 0 1-3-25a3 16 0 0 1 5 1a3 16 0 0 1-2 24l1-1a2 12 0 0 1-3-14a2 12 0 0 1 4-5a2 12 0 0 1-1 19M763 943a5 12 0 0 1-4-18a5 12 0 0 1 10 2a5 12 0 0 1-6 16l2 0a4 8 0 0 1-4-10a4 8 0 0 1 6-4a4 8 0 0 1-2 14M663 850c3-8 15-34 21-45c6-11 12-13 15-21c3-8 4-18 4-25c0-7-2-16-2-18c0-2 3 3 4 4M684 805c4-3 20-15 26-15c6 0 8 8 8 15c0 7-3 18-6 25c-3 7-10 12-12 15M782 850c8-7 38-31 49-41c11-10 15-13 19-21c4-8 1-24 2-27c1-3 5 2 5 6c0 4-6 15-7 18M760 810c1-3 4-15 6-18c2-3 3 0 4 0M1314 942c2-5 7-24 11-32c4-8 7-18 12-17c5 1 13 18 16 22M1342 931c0-7 1-28 2-41c1-13 3-31 4-37M880 940c12-7 50-28 70-40c20-12 35-21 50-30c15-9 30-18 40-25c10-7 17-13 20-15M900 960c13-5 55-20 80-30c25-10 50-22 70-30c20-8 32-10 50-20c18-10 50-33 60-40M1000 970c17-2 67-6 100-10c33-4 67-9 100-12c33-3 73-5 100-8c27-3 50-7 60-8M1100 990c17-2 67-10 100-15c33-5 83-13 100-15M1150 960c17-2 73-11 100-14c27-3 53-3 64-4M1150 987c17-2 75-8 100-12c25-4 37-6 50-10c13-4 25-13 30-15M1060 995c10-6 45-24 60-35c15-11 22-20 30-30c8-10 15-22 20-30c5-8 8-17 10-20M990 830c7 7 28 23 40 40c12 17 25 50 30 60M600 900c8-7 33-28 50-40c17-12 32-20 50-30c18-10 50-25 60-30M820 900c13-5 57-21 80-30c23-9 43-17 60-25c17-8 33-21 40-25M430 880c7-3 25-18 40-20c15-2 42 8 50 10M1200 900c8-3 35-13 50-20c15-7 33-17 40-20M315 961c29 0 116 0 175 1c58 0 116 1 175 2c58 2 116 3 175 5c58 2 145 5 175 7M232 992c24 0 95 0 142 1c47 1 94 2 141 3c47 1 94 3 141 5c47 2 118 6 142 8M194 1008c35 0 141-1 211-4c70-3 141-7 211-13c70-6 141-14 211-23c70-9 176-26 211-31M307 977c16-1 66-1 99-3c34-2 67-5 100-8c34-4 67-9 100-14c33-6 83-17 100-20M213 989c23 0 93 0 140-1c46-1 93-3 140-5c46-2 93-4 139-8c47-3 117-8 140-10M316 964c29 0 117-1 175-2c59-1 117-3 175-5c59-3 117-5 176-9c58-4 146-10 175-12M226 1002c34 0 136 0 204-1c68 0 136 0 204 0c68-1 136-1 204-2c68 0 170-2 204-2M303 989c29 0 117 0 176 1c58 0 117 0 176 1c59 1 117 2 176 3c59 1 147 3 176 3M297 1006c31-1 124-1 187-2c62-2 124-4 186-7c62-2 125-6 187-10c62-4 155-12 186-14M201 996c32 1 127 1 191 1c63 0 126 1 190 2c63 1 127 2 190 3c63 1 159 3 190 4M287 1007c33 0 132-1 197-3c66-2 132-5 198-9c65-5 131-10 197-16c66-7 164-19 197-23M310 983c27-1 105-1 158-2c52 0 104-1 157-3c52-1 105-3 157-5c52-2 131-6 157-7M255 998c25-1 103-1 154-3c52-2 104-5 155-9c52-4 104-9 155-15c52-6 129-17 155-20M247 1010c30 0 121 0 181-1c61-1 121-2 182-4c60-2 121-4 181-7c61-3 152-8 182-10M262 994c25 0 99 1 149 1c50 0 99 1 149 2c49 1 99 2 149 3c49 1 124 3 148 4M192 975c28 0 112 0 168 1c56 1 111 2 167 3c56 2 112 3 168 5c56 3 139 7 167 8M277 1007c17-1 70-1 106-3c35-2 71-5 106-8c35-4 71-9 106-14c35-6 89-16 106-19M208 964c22 0 89-1 133-1c45-1 89-2 134-3c44-1 89-2 133-4c45-2 111-5 134-6M201 967c33 0 132 0 199 0c66 0 132 0 198 0c67-1 133-1 199-1c67-1 166-1 199-1M275 975c26 0 102 0 153 0c51-1 102-1 152-2c51-1 102-2 153-3c51-1 127-3 152-4M250 991c29-1 115-1 173-3c58-1 116-3 173-6c58-3 116-7 174-11c57-5 144-13 173-16M279 1010c32 0 130 0 195-2c65-1 130-3 195-5c65-3 130-6 195-10c65-4 162-11 195-13M228 982c20 1 79 1 118 2c40 1 79 3 118 5c40 2 79 5 118 8c40 4 99 10 118 12M319 970c28 0 113 0 169-1c57-1 114-3 170-5c57-2 113-4 170-7c57-3 141-9 170-11M210 1009c28 0 112-1 168-3c56-3 112-7 168-12c56-5 112-12 168-20c56-8 140-23 168-27M296 974c27 0 106 0 159-1c53 0 105 0 158-1c53-1 106-1 159-2c53-1 132-3 159-4M197 1007c32-1 128-1 192-3c64-2 129-6 193-10c64-4 128-9 192-16c64-6 160-18 192-22M316 978c21 0 84 1 126 1c42 0 85 1 127 1c42 1 84 2 126 2c42 1 105 3 126 4M586 945c15 0 62 0 93 0c31 0 62 0 93 0c30 0 61 0 92 0c31-1 78-1 93-1M565 910c17 0 70 0 105 1c35 0 70 0 105 1c35 1 70 1 105 2c35 1 87 3 105 3M560 980c22 0 87 0 130-1c43-2 87-3 130-5c43-3 87-5 130-9c43-3 108-9 130-11M591 986c20-1 79-1 118-3c39-3 78-6 117-10c39-5 78-11 117-17c39-7 98-20 117-24M792 969c6 0 26 0 40 0c13 1 26 1 39 2c14 1 27 2 40 3c14 1 33 3 40 3M717 954c17 0 69 0 103 1c35 0 69 1 103 3c35 1 69 3 103 5c35 2 86 6 103 7M696 924c14 1 55 1 83 2c27 1 55 3 82 5c28 2 55 5 83 8c27 3 69 10 83 11M809 960c6 0 24-1 37-3c12-3 24-6 37-11c12-5 24-11 37-18c12-7 31-21 37-25M757 983c14-1 56-1 84-2c28-1 56-2 84-4c28-2 56-5 84-8c28-3 70-9 84-10M761 961c13 0 54 0 81 0c27 0 54 0 82 0c27 0 54 0 81 1c27 0 68 0 82 0M772 932c15 1 58 1 87 3c29 3 58 6 87 11c29 4 58 10 87 16c29 7 72 20 86 24M577 905c16 0 64 1 95 2c32 2 64 5 96 9c32 4 64 8 95 14c32 5 80 16 96 19M843 980c5-1 22-1 33-2c11-2 22-4 33-7c11-3 22-7 33-11c11-4 27-13 33-15M765 989c10 0 37-1 55-3c18-2 36-5 54-9c18-4 36-8 55-14c18-6 45-18 54-21M596 904c20 1 80 1 120 3c40 3 79 6 119 11c40 4 80 10 120 17c40 7 100 20 120 24M836 923c5 0 23 0 34 0c12 0 24 0 35 0c12 0 23 1 35 1c12 0 29 1 35 1M578 973c21 0 83 0 124-2c41-1 83-3 124-6c41-2 83-6 124-10c41-4 103-11 124-14M778 974c15-1 59-1 88-3c30-1 59-4 89-7c29-4 59-8 88-13c30-4 74-14 88-17M858 974c5-1 21-1 32-4c11-3 22-7 33-13c10-5 21-12 32-20c11-9 27-24 32-29M628 951c14-1 57-1 86-3c28-1 57-4 85-7c29-4 57-8 86-13c29-5 71-15 86-18M743 961c10-1 40-1 60-1c20-1 40-2 60-3c20-2 40-3 60-5c20-2 50-6 60-7M625 968c14 0 59-1 88-3c30-2 59-5 88-10c30-4 59-9 89-15c29-7 73-19 88-23M1000 1000c17-2 67-10 100-15c33-5 67-12 100-17c33-5 77-10 100-13c23-3 33-6 40-7M1020 990c22-5 92-22 130-30c38-8 73-12 100-15c27-3 47-5 60-5c13 0 17 3 20 4M1050 1000c17-2 67-10 100-15c33-5 75-13 100-17c25-4 42-8 50-10M1000 960c10-5 43-20 60-30c17-10 28-18 40-30c12-12 23-28 30-40c7-12 8-25 10-30M1030 975c8-4 35-15 50-25c15-10 28-23 40-35c12-12 25-29 30-35M1040 1010c3-5 13-20 20-30c7-10 15-20 20-30c5-10 8-25 10-30M1120 930c3 7 14 28 20 40c6 12 12 29 15 35" stroke="#c4c4c4" stroke-width="1.0"/><path d="M359 993c4 1 17 1 25 2c7 1 16 3 23 5c7 2 13 5 18 6c6 1 11-1 16-2c5-1 9-5 15-6c7-1 18 1 26 1c8 0 15-1 21-2c6-1 10-4 16-6c6-2 15-3 21-5c6-2 10-5 16-8c6-2 12-6 18-9c7-3 13-7 19-8c6-2 11-1 17-2c6 0 16-1 20-1c3 0 0 0 0 0a3 13 0 0 1-3-19a3 13 0 0 1 5 0a3 13 0 0 1-2 19c2 1 8 3 14 4c6 1 15 0 21 1c7 2 12 5 18 7c7 2 15 4 22 7c8 3 17 6 25 10c8 3 21 8 25 10c4 2 0 0 0 0a6 10 0 0 1-6-14a6 10 0 0 1 11 0a6 10 0 0 1-5 14c3 1 12 4 18 5c5 2 7 4 14 4c6 1 17 0 25-1c8-1 15-3 22-4c8-2 16-5 24-7c7-2 15-2 21-3c7-2 13-5 16-6c3-1 0 0 0 0a4 8 0 0 1-3-12a4 8 0 0 1 6 0a4 8 0 0 1-3 12c3-1 13-2 15-3c3 0 0 0 0 0a6 10 0 0 1-5-14a6 10 0 0 1 11 0a6 10 0 0 1-6 14c3 0 8-1 15-1c7-1 17-1 25-1c8 1 16 3 24 5c7 2 15 5 22 7c6 3 9 8 16 10c6 2 16 2 22 1c6-1 10-4 15-7c5-3 10-8 16-11c6-3 14-5 22-7c7-1 17 0 20-1M669 987c4 0 14-2 20-4c7-1 13-2 21-4c7-2 16-7 24-8c9-2 17-2 25-2c8 1 17 3 24 4c6 1 11 0 16 1c5 1 9 5 14 5c6 1 13 1 20 0c7-1 14-4 22-6c7-2 17-3 24-5c6-1 13-4 15-4c3-1 0 0 0 0a5 12 0 0 1-4-19a5 12 0 0 1 9 0a5 12 0 0 1-5 19c4-1 15-4 24-6c8-1 17-4 25-6c9-2 18-4 26-6c8-1 17-2 24-4c6-1 12-4 14-5c3-1 0 0 0 0a6 6 0 0 1-5-9a6 6 0 0 1 11 0a6 6 0 0 1-6 9l21-5M529 962l0 0a6 12 0 0 1-5-18a6 12 0 0 1 11 0a6 12 0 0 1-6 18c4 0 16-1 24-3c9-1 21-5 25-6c5-1 0 0 0 0a7 12 0 0 1-6-17a7 12 0 0 1 12 0a7 12 0 0 1-6 17c4-1 17-6 20-7c3-2 0 0 0 0a3 10 0 0 1-3-15a3 10 0 0 1 6 0a3 10 0 0 1-3 15c2-1 10-4 16-5c6-1 11 0 17-1c6-1 12-2 18-3c7-1 14 0 21-1c8-1 19-3 23-3c3-1 0 0 0 0a5 6 0 0 1-5-9a5 6 0 0 1 9 0a5 6 0 0 1-4 9c2 0 10 0 17 0c7-1 16-4 24-5c7-1 16-2 19-2c3 0 0 0 0 0a6 9 0 0 1-5-13a6 9 0 0 1 10 0a6 9 0 0 1-5 13c4 0 17 2 24 2c6 1 8 1 15 1c6 1 20 0 23 0c4 0 0 0 0 0a5 5 0 0 1-4-8a5 5 0 0 1 9 0a5 5 0 0 1-5 8c3 1 9 3 15 4c7 0 17-1 25-3c7-1 13-4 18-4c6-1 8 2 15 2c6 0 17-2 25-3c8-1 18-3 24-3c7 0 10 2 17 2c6 1 16 3 22 2c7 0 12-3 15-3M286 965c4 0 16 0 24 1c8 0 15 1 22 2c6 1 8 3 14 4c6 0 18-2 22-2c3 0 0 0 0 0a6 12 0 0 1-6-18a6 12 0 0 1 11 0a6 12 0 0 1-5 18c3 1 14 2 22 3c8 1 17 2 24 2c7 0 10-3 17-3c7 0 15 1 23 2c8 1 18 2 25 4c7 1 12 4 18 5c5 0 14-1 17-1c3 0 0 0 0 0a6 9 0 0 1-5-13a6 9 0 0 1 11 0a6 9 0 0 1-6 13c3-1 11-3 17-4c6-2 10-3 17-5c7-2 16-7 24-8c9-1 18 0 25 1c7 1 12 3 17 6c6 2 10 4 16 7c5 3 11 8 17 10c5 2 10 0 16 1c5 1 10 3 16 4c7 2 20 4 24 5c4 1 0 0 0 0a6 12 0 0 1-5-18a6 12 0 0 1 10 0a6 12 0 0 1-5 18c3 0 16 1 20 1c3 0 0 0 0 0a3 9 0 0 1-3-14a3 9 0 0 1 5 0a3 9 0 0 1-2 14c3 0 13 3 20 3c7 1 14-1 21-1c7 0 15 2 21 2c6 0 11-3 16-3c6-1 13 1 20 1c6-1 17-5 21-5c3-1 0 0 0 0a4 8 0 0 1-3-12a4 8 0 0 1 6 0a4 8 0 0 1-3 12c2-1 9-4 14-5c6 0 10-1 17 0c6 1 19 5 23 6c4 0 0 0 0 0a5 12 0 0 1-5-18a5 12 0 0 1 9 0a5 12 0 0 1-4 18c4 0 16 3 23 3c8 1 16 1 24 1c8 0 17 1 25 1c8 0 17-2 25-1c8 0 17 3 23 4c7 0 11 1 16 0c5 0 9-2 15-4c5-2 10-5 17-7c6-2 20-5 24-6M324 968c4-1 20-4 24-5c4-1 0 0 0 0a4 7 0 0 1-3-10a4 7 0 0 1 6 0a4 7 0 0 1-3 10c4 0 14 0 22 0c8 1 19 0 26 1c7 1 11 3 17 4c6 2 14 3 19 5c6 2 8 4 15 5c6 1 17 2 24 2c7 0 13 0 18 1c6 0 10 1 15 3c5 1 12 4 17 6c6 1 15 3 18 3c2 1 0 0 0 0a6 10 0 0 1-6-15a6 10 0 0 1 11 0a6 10 0 0 1-5 15c3 0 14 0 21 1c8 1 17 4 23 5c6 0 9-1 14-2c5-1 9-4 15-4c5-1 13 2 20 2c6 1 11 1 17 1c7 0 16 1 23 1c7 1 13 0 21 1c7 1 16 4 24 5c8 1 19 2 23 2c3 1 0 0 0 0a6 12 0 0 1-6-17a6 12 0 0 1 11 0a6 12 0 0 1-5 17c2-1 11-4 16-6c5-3 10-7 16-10c6-3 13-6 19-7c6-2 14-1 17-1c3 0 0 0 0 0a6 5 0 0 1-5-8a6 5 0 0 1 10 0a6 5 0 0 1-5 8c4 0 18 0 26 0c8 0 17 1 24 1c7 1 12 1 18 1c6 1 13 3 20 3c7 1 14 0 21 0c8 1 20 1 23 1c4 0 0 0 0 0a4 5 0 0 1-3-8a4 5 0 0 1 7 0a4 5 0 0 1-4 8M478 941c4-1 17-3 25-5c8-2 16-3 23-6c7-2 13-6 18-9c6-3 10-5 16-8c7-2 15-5 23-7c8-2 17-4 26-6c8-1 17-2 25-3c7-1 12-2 18-3c7 0 15 0 21-1c6-1 10-4 16-5c6 0 16 0 19-1c4 0 0 0 0 0a4 8 0 0 1-3-12a4 8 0 0 1 6 0a4 8 0 0 1-3 12c4 1 18 4 25 4c7 0 13-1 18-2c6 0 10-3 15-3c5 1 8 5 14 8c6 3 16 7 23 8c7 2 11 0 18 0c7 0 15 0 23 1c8 0 16 2 25 4c8 1 21 4 26 5c4 1 0 0 0 0a7 7 0 0 1-6-10a7 7 0 0 1 12 0a7 7 0 0 1-6 10M276 891c3-1 11-6 18-6c7 0 17 2 24 4c7 2 12 5 18 8c6 3 11 9 18 11c7 2 16 0 23 1c8 1 16 5 23 5c6 1 11-1 18-2c6-1 12-2 19-3c8-1 17-4 25-5c8-2 20-4 24-5c4-1 0 0 0 0a4 11 0 0 1-4-16a4 11 0 0 1 8 0a4 11 0 0 1-4 16c3-1 14-3 20-5c6-2 10-5 17-6c7-1 17 0 25 1c9 0 21 2 26 3c4 0 0 0 0 0a4 13 0 0 1-4-19a4 13 0 0 1 8 0a4 13 0 0 1-4 19c2-1 11-3 16-4c5 0 8-1 15 0c7 1 18 3 26 5c9 2 18 6 25 7c7 2 11 4 17 5c7 0 14-2 21-3c7-2 13-4 19-6c6-1 9-2 15-3c7-1 15-4 21-5c7-1 13-2 20-1c6 0 17 2 20 2c4 0 0 0 0 0a4 10 0 0 1-4-14a4 10 0 0 1 8 0a4 10 0 0 1-4 14c3 1 14 6 20 7c5 1 8 0 15 1c7 1 17 4 25 4c8 1 16-1 22-2c6-1 8-4 15-6c7-2 16-7 24-7c9-1 17 2 25 3c8 1 18 2 25 2c6-1 8-2 15-3c6 0 17 1 25 0c8 0 16-3 22-2c7 0 15 3 18 4c3 1 0 0 0 0a3 9 0 0 1-3-14a3 9 0 0 1 6 0a3 9 0 0 1-3 14c4 0 17 1 25 1c8 0 19 0 22 0M650 910c3 0 9 1 15 1c6 0 18 0 21 0c4 0 0 0 0 0a5 10 0 0 1-4-15a5 10 0 0 1 9 0a5 10 0 0 1-5 15c4 1 17 3 23 5c7 1 10 3 17 3c7 1 18 0 25 0c8-1 13-1 19-2c6 0 10 0 16-1c6-1 17-5 21-6c3-1 0 0 0 0a3 7 0 0 1-3-10a3 7 0 0 1 5 0a3 7 0 0 1-2 10c2 0 9-3 14-3c5-1 10 0 16 0c5-1 12-2 19-3c7-1 20-2 24-3c4 0 0 0 0 0a7 13 0 0 1-5-20a7 13 0 0 1 11 0a7 13 0 0 1-6 20M563 905l0 0a6 10 0 0 1-5-15a6 10 0 0 1 10 0a6 10 0 0 1-5 15c4 1 19 2 26 3c7 1 11 3 17 3c7 0 14-2 21-4c8-1 19-5 26-5c7-1 11 2 18 3c7 0 16-1 24-1c7 1 15 0 23 1c7 1 16 4 23 6c8 2 14 5 21 6c8 0 21-2 26-3c4 0 0 0 0 0a4 9 0 0 1-4-13a4 9 0 0 1 7 0a4 9 0 0 1-3 13c2 0 9-2 16-4c6-2 17-5 24-7c7-3 10-8 16-9c6-2 16 0 19 0c3 0 0 0 0 0a5 7 0 0 1-4-11a5 7 0 0 1 9 0a5 7 0 0 1-5 11c4 0 19-1 23-1c4-1 0 0 0 0a3 14 0 0 1-3-21a3 14 0 0 1 6 0a3 14 0 0 1-3 21M634 929c4 1 16 4 22 6c7 1 16 1 19 2c3 0 0 0 0 0a6 14 0 0 1-6-21a6 14 0 0 1 11 0a6 14 0 0 1-5 21c3 1 17 5 20 6c3 1 0 0 0 0a4 6 0 0 1-3-9a4 6 0 0 1 6 0a4 6 0 0 1-3 9c3 1 12 2 18 4c6 2 13 5 19 7c7 1 12 3 19 2c8 0 17-3 24-3c7 0 12 3 18 4c6 2 13 4 19 6c6 2 10 5 17 6c8 2 18 3 26 4c7 0 14-1 17-2c3 0 0 0 0 0a6 6 0 0 1-5-9a6 6 0 0 1 11 0a6 6 0 0 1-6 9M579 934c4-1 21-2 25-3c4 0 0 0 0 0a7 11 0 0 1-6-15a7 11 0 0 1 12 0a7 11 0 0 1-6 15c3 0 12 0 18-1c6 0 10 0 16-1c6-1 13-3 20-4c7-1 19-2 22-2c4-1 0 0 0 0a4 6 0 0 1-3-9a4 6 0 0 1 7 0a4 6 0 0 1-4 9c4-1 16-4 24-6c7-3 13-5 20-8c7-2 16-3 22-6c6-2 9-7 15-8c6-2 14-1 21-1c7-1 14-1 20-1c7 0 13 1 19 1c6 0 13 0 20-1c6-2 12-6 19-7c6 0 15 0 23 2c7 2 17 7 20 8c4 2 0 0 0 0a7 10 0 0 1-6-15a7 10 0 0 1 12 0a7 10 0 0 1-6 15c4 2 16 8 22 11c6 3 10 5 15 8c6 3 11 6 18 9c7 3 21 8 25 9M464 922c4-1 12-3 20-5c7-2 17-5 24-5c8-1 15 2 21 2c6-1 14-3 16-4c3-1 0 0 0 0a3 8 0 0 1-2-12a3 8 0 0 1 5 0a3 8 0 0 1-3 12c4-1 17-2 25-4c7-2 14-5 20-7c6-2 10-1 16-2c6-1 13-2 20-3c8 0 16-1 23-1c6-1 9-3 15-3c6 0 16 2 23 3c6 2 13 5 16 6c3 1 0 0 0 0a4 10 0 0 1-4-14a4 10 0 0 1 8 0a4 10 0 0 1-4 14c3 0 12-1 18-1c5 1 8 2 14 3c6 1 14 3 22 5c8 1 21 3 25 4c4 0 0 0 0 0a4 13 0 0 1-4-21a4 13 0 0 1 8 0a4 13 0 0 1-4 21c3-1 14-1 20-2c6-1 11-3 17-5c5-2 8-4 14-5c7-2 17-3 25-4c8 0 17 0 24 0c8 0 18 1 22 1M674 998l0 0a4 12 0 0 1-3-17a4 12 0 0 1 6 0a4 12 0 0 1-3 17c3 0 15 0 18 0c4 0 0 0 0 0a5 12 0 0 1-4-18a5 12 0 0 1 9 0a5 12 0 0 1-5 18c4 0 15-1 22-2c6-1 10-5 17-6c7-1 18 2 24 2c7 1 14-1 16-1c3 0 0 0 0 0a5 7 0 0 1-4-10a5 7 0 0 1 9 0a5 7 0 0 1-5 10c3 0 8 0 14 1c7 1 17 3 24 5c6 2 10 6 16 8c6 2 13 3 20 2c7 0 16-5 24-5c9-1 17 1 25 1c7 1 14 3 21 3c8 0 19 0 22 0c4 0 0 0 0 0a7 7 0 0 1-6-10a7 7 0 0 1 12 0a7 7 0 0 1-6 10l20-1M559 994c3 0 11 0 18-2c7-1 18-4 25-6c6-1 8 0 14-1c6-1 16-4 23-5c6 0 11 2 17 3c5 2 12 4 19 5c6 1 12 1 18 2c6 1 12 5 19 5c7 1 17-2 24-1c7 1 13 3 19 5c6 2 13 4 16 5c3 1 0 0 0 0a7 11 0 0 1-6-16a7 11 0 0 1 12 0a7 11 0 0 1-6 16c4 0 13 3 21 2c8 0 21-5 26-7c4-1 0 0 0 0a4 12 0 0 1-4-18a4 12 0 0 1 7 0a4 12 0 0 1-3 18c3 0 11 0 18-1c8 0 20 0 24 0c4 0 0 0 0 0a4 13 0 0 1-4-19a4 13 0 0 1 7 0a4 13 0 0 1-3 19M229 943l0 0a3 7 0 0 1-3-10a3 7 0 0 1 5 0a3 7 0 0 1-2 10c3 0 13-2 19-3c7-1 11 0 18 0c6 0 14 1 21 0c7-1 15-3 22-6c7-2 17-6 21-7c3-1 0 0 0 0a4 10 0 0 1-4-15a4 10 0 0 1 8 0a4 10 0 0 1-4 15c2 0 10-1 15-2c5-1 8-1 14-2c6-2 17-4 24-7c8-2 12-5 19-7c7-2 15-4 23-4c7 0 14 2 21 3c7 2 13 7 20 8c7 1 14-1 22-2c8-1 18-4 26-5c7-1 14-1 21-2c7-1 15-2 21-3c7-1 12-2 18-3c6-2 11-3 18-4c8 0 18 0 26 1c8 0 14 2 22 3c7 1 16 2 23 2c7 0 12 0 18-2c5-1 9-4 15-5c7-2 16-2 25-3c8 0 18-2 25-3c7 0 13 1 15 1M210 1003c4 1 17 4 25 4c7 0 16-4 19-5c3 0 0 0 0 0a3 8 0 0 1-3-12a3 8 0 0 1 6 0a3 8 0 0 1-3 12c4 0 17-2 25-3c8-2 15-5 22-6c6-1 13 0 16 0c3 0 0 0 0 0a7 10 0 0 1-6-15a7 10 0 0 1 12 0a7 10 0 0 1-6 15c3 0 13 0 20 0c7 0 16 0 23 0c7 0 13 0 19-1c6-1 11-4 17-5c6-1 13 0 20-1c7 0 16 0 23-2c6-1 7-4 14-6c7-2 19-5 26-7c7-2 10-5 15-7c4-2 9-1 14-3c6-2 13-4 20-7c7-3 17-7 24-10c8-3 14-6 22-8c8-2 19-1 26-3c6-2 7-6 14-7c7-2 18-3 26-3c8 0 15 2 21 3c6 1 11 2 16 3c5 0 10-1 16 0c5 1 8 4 15 4c6 0 16-2 24-3c7-1 15-1 22-3c7-1 14-4 21-7c8-2 18-5 25-6c6-1 10-1 17-1c6 0 14-1 20 0c6 0 13 3 16 4c3 0 0 0 0 0a5 10 0 0 1-5-15a5 10 0 0 1 10 0a5 10 0 0 1-5 15c3 1 11 5 18 6c6 1 13 1 19 0c6-1 11-2 17-4c5-1 9-4 16-6c7-2 18-3 25-5c7-3 9-7 16-10c7-2 18-3 25-4c8-2 12-4 19-5c8-1 19 0 26 0c7 1 11 4 18 4c7 0 20-3 25-4M367 927c4 0 15-3 23-3c9-1 19 0 25 0c7 0 9 0 15 0c5 0 11-1 18-1c7 0 17 0 24 1c8 0 12 1 20 1c7 0 21 1 25 1c4 0 0 0 0 0a4 14 0 0 1-4-21a4 14 0 0 1 8 0a4 14 0 0 1-4 21c3 0 13 2 19 4c7 1 15 4 22 6c7 3 13 5 20 6c7 2 14 4 21 4c7-1 14-3 20-4c6-1 11-1 17-2c6-1 13-3 19-3c6-1 14-2 16-2c3 0 0 0 0 0a5 6 0 0 1-4-9a5 6 0 0 1 8 0a5 6 0 0 1-4 9c3-1 11-4 18-5c6-2 18-4 22-4c3-1 0 0 0 0a6 8 0 0 1-6-12a6 8 0 0 1 11 0a6 8 0 0 1-5 12c4-2 21-7 25-9c4-1 0 0 0 0a7 8 0 0 1-6-11a7 8 0 0 1 12 0a7 8 0 0 1-6 11c3 0 11 0 17-1c7-1 18-2 21-3c4 0 0 0 0 0a5 12 0 0 1-4-18a5 12 0 0 1 8 0a5 12 0 0 1-4 18c3 0 9 1 16 3c6 1 16 3 22 5c6 2 8 5 14 5c7 1 18-1 26-1c8 1 15 4 21 5c7 1 11-1 18 0c7 1 17 3 24 4c6 1 7 3 14 4c6 1 20 1 24 1M412 924c3 0 11 0 17 0c5-1 15-3 18-3c4 0 0 0 0 0a6 8 0 0 1-5-12a6 8 0 0 1 10 0a6 8 0 0 1-5 12c4 0 16 0 24-1c9 0 18-2 26-2c9 0 17 1 25 1c8 1 19 1 26 1c7 0 9-1 16-1c7 0 16-1 23-1c7 1 14 2 17 3c2 0 0 0 0 0a4 14 0 0 1-4-21a4 14 0 0 1 7 0a4 14 0 0 1-3 21c3 0 11 2 18 2c7 0 15-2 22-3c7-2 14-3 22-4c7-2 14-3 21-5c8-2 17-6 23-7c6-2 9-1 15-1c5 0 13-1 19 0c6 1 14 3 17 4c3 1 0 0 0 0a4 5 0 0 1-4-8a4 5 0 0 1 8 0a4 5 0 0 1-4 8c4-1 15-3 22-4c6 0 12 1 17 0c5 0 9-1 15-2c6-1 13-3 20-5c7-2 15-5 21-7c6-1 13-2 15-3M625 1000c3 0 17-1 20-1c3 0 0 0 0 0a4 5 0 0 1-3-8a4 5 0 0 1 6 0a4 5 0 0 1-3 8c4 0 16-2 23-3c8 0 14 1 20 0c6-1 13-4 16-5c3-1 0 0 0 0a4 8 0 0 1-4-11a4 8 0 0 1 8 0a4 8 0 0 1-4 11c3-1 16-4 19-5c3-1 0 0 0 0a4 5 0 0 1-4-8a4 5 0 0 1 7 0a4 5 0 0 1-3 8c3 0 14 0 21 0c7 1 18 4 22 4c4 1 0 0 0 0a5 10 0 0 1-4-14a5 10 0 0 1 8 0a5 10 0 0 1-4 14c4 1 16 5 24 6c7 2 14 3 20 4c6 1 8 2 14 2c7 0 18 0 25-1c8-1 14-4 22-5c7-1 18 0 25-1c7-1 12-3 18-3c5-1 8 0 14 1c7 0 16 0 24 1c7 1 15 1 21 2c7 2 13 3 20 5c7 1 20 4 24 5M232 891c3-1 15-4 21-5c6-1 9 0 14 0c6 0 11 0 19 2c7 1 17 3 24 5c8 2 14 3 20 5c6 2 13 6 15 7c3 1 0 0 0 0a5 13 0 0 1-4-20a5 13 0 0 1 8 0a5 13 0 0 1-4 20c3 0 11 1 16 2c6 0 8-1 15 0c6 2 17 5 24 6c7 2 12 0 18 1c6 1 10 4 17 4c8 1 18-1 26-1c9-1 17-3 25-3c7 0 18 1 22 2c4 0 0 0 0 0a7 13 0 0 1-6-19a7 13 0 0 1 12 0a7 13 0 0 1-6 19c4-1 17-4 25-4c8 0 16 3 24 3c8 0 18-3 25-3c7 0 11 3 18 2c6 0 13-3 20-4c7-1 14-2 20-1c7 0 12 1 19 2c7 2 19 4 23 5c4 0 0 0 0 0a7 9 0 0 1-6-14a7 9 0 0 1 12 0a7 9 0 0 1-6 14c4-1 15-2 21-3c6-1 9-2 16-2c7-1 18-1 26-2c8-1 13-5 21-6c8-1 17 1 25 2c8 1 15 3 23 5c8 3 17 6 24 9c6 2 8 4 14 6c7 1 17 3 24 3c7 0 11-2 17-2c7 0 18 1 22 2c3 0 0 0 0 0a4 11 0 0 1-4-17a4 11 0 0 1 7 0a4 11 0 0 1-3 17c4 0 17 2 24 3c6 1 8 2 14 2c6 0 18-1 21-2c4 0 0 0 0 0a4 11 0 0 1-3-16a4 11 0 0 1 7 0a4 11 0 0 1-4 16c4 0 13-4 20-4c8-1 17 1 26 1c8-1 17-2 24-3c7-1 11-4 18-5c7-1 16-2 23-2c7 0 17 1 21 1M264 924c3 1 10 0 17 2c7 1 18 3 25 5c6 3 13 7 16 9c2 1 0 0 0 0a5 14 0 0 1-5-21a5 14 0 0 1 9 0a5 14 0 0 1-4 21c3 1 15 7 18 8c3 2 0 0 0 0a4 6 0 0 1-4-8a4 6 0 0 1 7 0a4 6 0 0 1-3 8c3 2 15 8 18 10c3 1 0 0 0 0a7 7 0 0 1-5-11a7 7 0 0 1 11 0a7 7 0 0 1-6 11c4 0 18 0 25 2c6 1 9 4 16 7c7 2 17 7 26 8c8 2 17 1 25 1c8 0 16-2 23-3c7 0 15-1 21-1c6 0 11 0 16 0c5 0 12-2 15-2c2 0 0 0 0 0a4 7 0 0 1-3-10a4 7 0 0 1 6 0a4 7 0 0 1-3 10c2 0 10-1 15 0c6 1 13 5 15 6c3 0 0 0 0 0a7 11 0 0 1-6-17a7 11 0 0 1 12 0a7 11 0 0 1-6 17c4-1 15 0 21-1c6-1 9-3 15-5c7-2 17-2 24-4c7-2 15-5 18-6c3-1 0 0 0 0a5 6 0 0 1-4-9a5 6 0 0 1 8 0a5 6 0 0 1-4 9c3 0 14 0 21 1c7 2 13 5 20 7c8 3 21 5 26 6M467 950l0 0a5 11 0 0 1-5-17a5 11 0 0 1 9 0a5 11 0 0 1-4 17c2 0 10 2 17 2c6 1 17-1 20-2c3 0 0 0 0 0a6 8 0 0 1-5-12a6 8 0 0 1 11 0a6 8 0 0 1-6 12c3 1 8 3 15 4c6 1 15 2 23 2c8 1 18 3 25 3c8-1 12-3 19-5c6-2 15-6 21-7c6-1 11 0 17 0c6-1 11-3 19-3c7 0 18 1 26 1c8 1 15 2 22 3c6 1 10 1 16 1c6 1 14 2 20 4c6 1 8 4 15 6c7 2 21 7 25 8c5 2 0 0 0 0a4 7 0 0 1-3-10a4 7 0 0 1 7 0a4 7 0 0 1-4 10c4 0 13-1 19-1c7 0 14 0 20 1c6 0 11 2 17 2c5 1 10 0 15 1c5 0 11 3 17 4c5 1 15 2 18 2c3 0 0 0 0 0a7 7 0 0 1-6-10a7 7 0 0 1 12 0a7 7 0 0 1-6 10c2-1 9-3 14-4c6-1 14 0 20-2c7-1 15-5 18-6c2-1 0 0 0 0a3 13 0 0 1-3-20a3 13 0 0 1 5 0a3 13 0 0 1-2 20c3-1 11-7 18-8c6-1 12 1 18 0c6-1 15-3 18-4c3-1 0 0 0 0a6 12 0 0 1-5-18a6 12 0 0 1 10 0a6 12 0 0 1-5 18c3 0 13-3 19-4c7 0 15 3 18 3M651 909c3 1 13 4 19 5c7 1 13 3 20 3c7 0 15-1 22-1c7-1 13 0 19-2c5-1 9-3 16-5c6-3 16-6 22-7c7-2 14-3 17-4c3 0 0 0 0 0a7 14 0 0 1-6-20a7 14 0 0 1 12 0a7 14 0 0 1-6 20c4-1 15-6 22-7c6 0 12 1 18 2c6 0 10 0 17 1c6 0 16-2 22-1c6 0 8 4 14 4c7 0 19-3 23-4c4-1 0 0 0 0a6 11 0 0 1-5-17a6 11 0 0 1 10 0a6 11 0 0 1-5 17c4-1 16-4 24-5c9-1 18 0 26 0c8 0 21 1 25 1M267 908c4 0 15-1 22-1c6 1 15 3 18 3c3 1 0 0 0 0a4 12 0 0 1-3-18a4 12 0 0 1 6 0a4 12 0 0 1-3 18c2 1 8 2 15 3c7 0 17 0 25 0c9 0 18 1 26 1c8-1 17-4 25-6c8-2 16-5 25-7c8-2 16-2 24-4c8-1 17-5 25-7c8-1 14-3 21-2c7 0 17 5 21 6c3 1 0 0 0 0a6 10 0 0 1-5-15a6 10 0 0 1 10 0a6 10 0 0 1-5 15c3 2 15 8 21 9c6 2 13 0 16 0c3 0 0 0 0 0a6 8 0 0 1-5-12a6 8 0 0 1 10 0a6 8 0 0 1-5 12c3 0 14-3 16-3c3-1 0 0 0 0a6 11 0 0 1-5-16a6 11 0 0 1 11 0a6 11 0 0 1-6 16c4-1 13-5 20-7c6-2 12-4 19-5c7 0 20 1 24 1c4 1 0 0 0 0a7 12 0 0 1-6-17a7 12 0 0 1 12 0a7 12 0 0 1-6 17c4 1 15 3 22 5c8 3 15 8 22 9c6 1 10-1 15-1c5 1 9 5 16 5c6 1 14-1 22-1c8 0 19-1 26-1c7 0 10 2 16 3c6 0 12-1 19 0c7 2 16 6 23 7c7 0 12-1 18-2c6-1 13-3 19-4c6-2 10-5 17-7c7-2 16-3 24-4c7 0 17 1 21 2c4 0 0 0 0 0a5 10 0 0 1-4-16a5 10 0 0 1 9 0a5 10 0 0 1-5 16c3 1 12 4 18 6c6 1 10 3 16 4c7 2 17 3 25 4c8 2 18 5 25 6c8 0 15-2 17-2c3 0 0 0 0 0a6 9 0 0 1-4-13a6 9 0 0 1 9 0a6 9 0 0 1-5 13M560 930c3 0 16-1 19-1c4 0 0 0 0 0a4 10 0 0 1-3-14a4 10 0 0 1 7 0a4 10 0 0 1-4 14c4 1 14 2 22 4c7 1 17 5 24 6c6 2 9 2 16 3c6 0 13 0 21-1c7-1 16-3 22-5c7-2 11-6 17-8c6-3 12-5 19-8c7-2 15-6 21-7c6-1 12 1 15 1M596 927c3-1 14-1 22-2c7-1 16-3 24-5c8-1 16-4 23-5c7-1 13-1 19-1c6 1 13 2 16 3c2 0 0 0 0 0a7 13 0 0 1-6-20a7 13 0 0 1 11 0a7 13 0 0 1-5 20c3 0 18 3 22 4c3 0 0 0 0 0a7 8 0 0 1-6-13a7 8 0 0 1 11 0a7 8 0 0 1-5 13c3 0 13 4 21 5c7 1 16 1 24 2c8 1 17 4 23 6c6 2 10 2 16 4c5 1 11 4 16 5c5 2 9 3 14 4c6 1 14 0 19 1c6 0 11 1 16 3c5 1 13 4 15 4c2 1 0 0 0 0a5 9 0 0 1-4-13a5 9 0 0 1 8 0a5 9 0 0 1-4 13c4 1 17 6 23 7c7 1 13-1 15-1c3-1 0 0 0 0a4 5 0 0 1-3-8a4 5 0 0 1 7 0a4 5 0 0 1-4 8c3-1 9-3 16-4c6-2 17-2 24-4c6-2 14-6 16-8c3-1 0 0 0 0a6 7 0 0 1-5-11a6 7 0 0 1 10 0a6 7 0 0 1-5 11l24-10M505 979c3 0 11-4 18-5c7-1 17 0 24 0c8 0 13-1 21 0c7 1 17 4 25 6c7 2 11 5 18 6c7 2 15 3 23 5c8 2 18 6 26 7c7 0 13-2 20-2c8 0 16 0 23-1c6 0 10-3 16-3c6 0 14 3 21 3c6 0 14-2 17-3c3 0 0 0 0 0a5 7 0 0 1-4-10a5 7 0 0 1 9 0a5 7 0 0 1-5 10c4-1 15-5 21-6c6-2 11-1 16-2c6-2 11-5 17-6c6 0 14 2 20 3c6 0 12 1 15 1c2 1 0 0 0 0a5 11 0 0 1-4-16a5 11 0 0 1 8 0a5 11 0 0 1-4 16c4 0 17-2 25-2c8 0 16 3 23 4c6 1 9 2 15 1c7 0 16-1 23-3c7-1 13-4 19-6c7-3 13-6 21-9c7-3 16-6 24-8c7-2 16-4 22-5c7-1 12 0 18 0c6 0 17 1 20 1c3 0 0 0 0 0a5 11 0 0 1-4-17a5 11 0 0 1 8 0a5 11 0 0 1-4 17l17 0M465 985c2 1 9 3 15 5c7 1 16 4 23 4c7 1 11-1 18 0c7 0 18 2 25 2c6 1 12 0 15 0c2 0 0 0 0 0a7 6 0 0 1-6-9a7 6 0 0 1 12 0a7 6 0 0 1-6 9c3 1 14 2 22 2c7 1 19 1 25 0c7-1 9-2 14-3c6-1 15-4 18-5c3-1 0 0 0 0a4 7 0 0 1-4-11a4 7 0 0 1 7 0a4 7 0 0 1-3 11c4 1 17 2 24 2c7 1 11 1 17 3c5 1 9 4 15 6c5 2 12 4 18 4c6 1 14-1 20-1c6-1 11 0 17-1c7 0 15-3 22-2c7 0 13 1 20 3c7 1 13 4 21 4c7-1 17-6 23-7c6-1 8 1 14 0c6-1 15-3 21-4c6-1 11-1 17-1c5 0 10 1 16 0c7 0 16-3 23-4c7-2 14-5 20-6c7-1 16-2 19-2c3 0 0 0 0 0a6 6 0 0 1-5-8a6 6 0 0 1 10 0a6 6 0 0 1-5 8c4 1 18 3 24 3c7 0 9 0 15-1c6-1 19-3 23-4M287 962c3 1 14 4 22 6c8 2 21 4 25 5c4 1 0 0 0 0a7 11 0 0 1-6-16a7 11 0 0 1 12 0a7 11 0 0 1-6 16c4 0 15-1 22-3c7-1 14-3 21-4c7 0 16 3 20 4c3 0 0 0 0 0a6 13 0 0 1-6-19a6 13 0 0 1 11 0a6 13 0 0 1-5 19c2 1 9 6 14 7c6 1 10 1 16 1c6 0 11 0 18 0c7 0 17 0 25-1c8-1 14-2 21-4c8-1 20-6 24-7c4-1 0 0 0 0a4 6 0 0 1-4-8a4 6 0 0 1 8 0a4 6 0 0 1-4 8c3-1 10-7 15-9c5-2 9-2 14-2c5-1 11-3 17-3c5-1 11-1 18-2c6-1 18-4 22-5c4-1 0 0 0 0a4 9 0 0 1-3-13a4 9 0 0 1 6 0a4 9 0 0 1-3 13c3 0 11 0 17 0c7-1 15-3 22-4c8-2 17-5 25-6c7-1 14-1 22-1c8 0 18 0 25 1c7 1 9 3 15 5c6 2 14 4 20 5c5 2 9 3 14 5c5 2 12 5 17 7c6 2 13 3 15 4c3 0 0 0 0 0a3 7 0 0 1-3-12a3 7 0 0 1 6 0a3 7 0 0 1-3 12M354 913c3 0 10 2 17 2c7 0 17-1 25-2c8-1 15-3 23-3c8 0 16 3 24 3c8 1 16 0 25-2c8-1 18-3 25-5c6-2 8-3 14-5c6-2 15-6 22-8c7-3 14-7 22-7c7 0 19 7 23 9c4 1 0 0 0 0a5 8 0 0 1-4-12a5 8 0 0 1 9 0a5 8 0 0 1-5 12c4 0 14 1 20 3c7 2 15 7 22 8c6 2 10 1 17 3c7 2 19 6 22 7c4 2 0 0 0 0a4 9 0 0 1-3-13a4 9 0 0 1 7 0a4 9 0 0 1-4 13c3 2 15 8 18 10c3 1 0 0 0 0a7 10 0 0 1-6-15a7 10 0 0 1 12 0a7 10 0 0 1-6 15c4 0 16 2 22 1c7-1 12-4 18-5c6-1 10 0 15 0c6-1 14-3 20-5c6-2 12-6 15-7M297 942c2-1 10-4 16-5c6-1 13-2 19-2c7 0 14 3 20 3c6 1 9 0 15 1c6 1 14 4 22 6c8 2 18 4 25 6c8 2 13 3 20 5c6 1 17 3 20 3c4 1 0 0 0 0a4 8 0 0 1-3-12a4 8 0 0 1 6 0a4 8 0 0 1-3 12c3 1 9 1 14 1c6 1 16 4 19 5c3 0 0 0 0 0a7 6 0 0 1-6-9a7 6 0 0 1 12 0a7 6 0 0 1-6 9c3 0 9 0 16 1c8 1 19 2 26 3c7 1 10 0 17 1c7 2 16 6 24 7c7 2 12 2 19 2c8-1 17-5 25-5c8-1 17 0 24 0c7 0 14 1 20 2c5 1 8 6 15 6c6 1 19-1 23-2c3 0 0 0 0 0a5 13 0 0 1-5-19a5 13 0 0 1 9 0a5 13 0 0 1-4 19c4 1 21 4 25 5c4 0 0 0 0 0a4 7 0 0 1-4-11a4 7 0 0 1 8 0a4 7 0 0 1-4 11c2 0 10 0 14 0c5-1 10-2 15-3c6-1 11-1 16-3c6-1 14-6 16-7c3-1 0 0 0 0a3 13 0 0 1-2-20a3 13 0 0 1 5 0a3 13 0 0 1-3 20c5 0 18-1 26 0c8 1 14 3 21 6c8 2 18 6 26 9c7 2 14 4 21 5c6 0 11-1 16-1c6 0 11 2 17 3c6 0 11-1 18-1c7-1 17-3 25-5c7-1 16-4 19-5c3-1 0 0 0 0a7 5 0 0 1-6-8a7 5 0 0 1 12 0a7 5 0 0 1-6 8c3-2 11-7 17-8c6-2 15 0 17 0c3 0 0 0 0 0a5 6 0 0 1-4-10a5 6 0 0 1 9 0a5 6 0 0 1-5 10c4-1 16-2 24-4c7-1 14-5 22-6c7-1 15-1 23 0c8 0 15 4 23 4c8 1 16-1 24-3c7-1 19-4 23-5M377 978c2-1 10-3 16-4c5 0 9 1 14 1c6 0 17-2 21-2c3-1 0 0 0 0a4 13 0 0 1-4-21a4 13 0 0 1 7 0a4 13 0 0 1-3 21c4-1 18-2 26-1c7 0 13 3 21 3c7 1 15 0 22 0c7-1 18-1 21-1c4 0 0 0 0 0a6 10 0 0 1-5-15a6 10 0 0 1 11 0a6 10 0 0 1-6 15c4 0 15-1 22-2c6-1 11-3 17-4c7-1 15-2 21-3c6-1 10-1 16-1c5 0 11 3 17 4c7 0 17-1 24-3c8-1 17-5 23-6c6-2 10-2 15-3c6-1 11-4 17-5c7-1 16-2 23-1c6 0 10 3 15 5c5 1 8 4 15 6c6 1 15 2 22 2c7 0 15-4 18-4c3-1 0 0 0 0a4 12 0 0 1-3-19a4 12 0 0 1 6 0a4 12 0 0 1-3 19c3-1 13-3 19-4c6-1 10-1 16-2c5-1 13-4 16-5c3-1 0 0 0 0a6 10 0 0 1-5-15a6 10 0 0 1 10 0a6 10 0 0 1-5 15c4-2 16-7 24-9c7-2 16-2 20-3c3 0 0 0 0 0a7 7 0 0 1-6-10a7 7 0 0 1 12 0a7 7 0 0 1-6 10c3 0 14-3 17-4c3 0 0 0 0 0a5 11 0 0 1-4-16a5 11 0 0 1 8 0a5 11 0 0 1-4 16c3 0 12 2 18 1c7-1 18-5 21-5M331 941c4 0 16 2 22 4c7 2 10 6 17 7c6 2 19 0 23 0c4 1 0 0 0 0a3 13 0 0 1-3-19a3 13 0 0 1 6 0a3 13 0 0 1-3 19c2 1 9 2 15 1c7 0 19-4 26-5c6-1 8-1 15 0c7 0 18 1 26 1c8 0 16 0 22 0c6 0 9 0 16-1c6-1 14-4 23-4c8 0 18 1 25 2c7 1 11 2 16 3c5 2 9 6 15 7c5 2 12 2 18 2c5-1 10-4 16-5c7 0 15 2 22 2c7 1 14 0 20 0c7 0 10-1 17 0c6 2 18 5 25 6c6 2 8 3 14 3c7-1 19-4 26-5c7 0 10 1 16 1c6-1 12-4 19-6c7-2 17-4 23-6c7-3 13-7 16-8c2-1 0 0 0 0a5 13 0 0 1-5-20a5 13 0 0 1 9 0a5 13 0 0 1-4 20c3-1 11-5 19-6c7-2 17-1 24-2c7-2 15-5 19-6c3-1 0 0 0 0a3 14 0 0 1-3-20a3 14 0 0 1 5 0a3 14 0 0 1-2 20c3 0 15 2 18 2c3 1 0 0 0 0a7 13 0 0 1-6-19a7 13 0 0 1 11 0a7 13 0 0 1-5 19c4 1 17 2 25 3c7 2 11 5 18 7c8 2 21 3 25 4c4 1 0 0 0 0a6 6 0 0 1-5-9a6 6 0 0 1 10 0a6 6 0 0 1-5 9c3 0 14 2 21 3c7 2 15 4 23 5c8 2 20 2 24 2M584 984c2 1 9 4 15 4c6 1 14-2 22-3c7-1 17-1 24-3c6-1 8-3 15-6c7-2 17-6 25-8c8-3 17-5 23-7c6-3 10-6 15-9c6-2 13-5 18-6c5-1 10 0 15 1c5 1 8 3 15 3c7 0 18-2 25-2c7 0 9 1 15 1c7 0 17-1 24-1c7 0 14 0 17 0c3 1 0 0 0 0a5 10 0 0 1-5-15a5 10 0 0 1 9 0a5 10 0 0 1-4 15c3 1 11 1 18 2c7 0 15 0 22 0c8 0 17 1 24 0c7 0 11-2 18-3c7-2 16-6 24-7c7-1 13 0 21 1c8 1 21 3 26 4M553 886c3 0 14 0 22 1c7 0 16 0 23 1c7 1 18 4 21 5c4 1 0 0 0 0a3 12 0 0 1-3-18a3 12 0 0 1 6 0a3 12 0 0 1-3 18c5 0 22-2 26-2c4-1 0 0 0 0a7 14 0 0 1-6-21a7 14 0 0 1 12 0a7 14 0 0 1-6 21c3-1 13-6 19-5c5 0 11 6 16 7c6 2 12 1 18 2c6 0 17 2 20 2c3 1 0 0 0 0a5 7 0 0 1-4-10a5 7 0 0 1 8 0a5 7 0 0 1-4 10c3 1 12 2 20 2c7 1 16 1 24 0c8-1 21-4 25-5c4-1 0 0 0 0a5 13 0 0 1-5-20a5 13 0 0 1 9 0a5 13 0 0 1-4 20c4-1 16-1 24-2c8-1 18-3 26-3c8-1 15 1 23 1c7 0 17 0 23 0c7-1 10-3 17-3c7 0 20 2 25 3M232 908c4 1 14 2 21 5c7 2 16 7 23 8c7 2 13 0 19 1c5 0 9 1 15 1c6 1 15 1 22 2c7 1 14 4 22 5c7 1 18 1 25 0c8-1 12-5 19-6c7 0 16 2 22 1c6-1 9-4 15-5c7-2 18-2 25-1c7 0 11 1 17 2c6 1 13 4 19 5c6 0 11 0 16 0c5 0 9-1 15 0c7 0 18 2 26 4c7 2 12 5 18 6c6 1 16 0 19 0c3 0 0 0 0 0a4 12 0 0 1-4-17a4 12 0 0 1 7 0a4 12 0 0 1-3 17c4 0 17 1 24 0c7 0 11-2 16-3c6-1 13-3 19-3c6 0 13 2 15 2c3 1 0 0 0 0a5 14 0 0 1-4-20a5 14 0 0 1 9 0a5 14 0 0 1-5 20c3 0 8 1 14 1c6 1 15 1 22 0c7-1 13-3 19-5c5-2 7-6 14-8c7-3 19-3 26-6c7-2 11-6 17-8c6-3 14-5 21-7c8-1 16-2 23-3c8 0 16-2 24-1c9 0 18 2 25 3c7 2 14 6 17 8c2 1 0 0 0 0a7 13 0 0 1-6-20a7 13 0 0 1 11 0a7 13 0 0 1-5 20c3 0 12 5 18 5c6 0 11-1 17-3c7-1 16-4 23-6c7-1 13-1 20-2c7 0 15-1 21-3c7-2 12-4 19-6c7-2 15-5 23-5c8 0 17 2 24 4c7 1 17 3 20 4c3 1 0 0 0 0a5 5 0 0 1-5-8a5 5 0 0 1 10 0a5 5 0 0 1-5 8M366 924c3 0 12 0 18 0c5 0 9 1 16 2c6 1 15 4 23 4c8 1 19 0 23 0c4 0 0 0 0 0a5 6 0 0 1-4-9a5 6 0 0 1 9 0a5 6 0 0 1-5 9c4 1 15 4 22 5c7 1 16 0 23 1c8 0 14 3 22 3c7 0 18-1 22-1c4 0 0 0 0 0a5 6 0 0 1-4-8a5 6 0 0 1 8 0a5 6 0 0 1-4 8c3 0 17 0 20 0c3-1 0 0 0 0a6 10 0 0 1-6-16a6 10 0 0 1 12 0a6 10 0 0 1-6 16c2 0 9 3 14 4c5 0 15-1 18-1c2-1 0 0 0 0a6 13 0 0 1-5-19a6 13 0 0 1 9 0a6 13 0 0 1-4 19c3-2 17-6 20-7c4-1 0 0 0 0a7 9 0 0 1-6-13a7 9 0 0 1 12 0a7 9 0 0 1-6 13c3-1 12-5 17-8c5-3 10-6 15-9c5-3 8-7 15-9c7-1 17-1 25 0c7 1 16 4 19 5c3 0 0 0 0 0a4 5 0 0 1-3-8a4 5 0 0 1 6 0a4 5 0 0 1-3 8c3 0 13 1 21 2c8 1 21 4 25 5c4 1 0 0 0 0a5 7 0 0 1-4-10a5 7 0 0 1 8 0a5 7 0 0 1-4 10c4 1 17 5 24 5c8 1 11-1 18-1c7 0 17 0 25 1c9 0 17 2 25 2c8 0 17-1 25-2c8-1 18-2 21-2c4-1 0 0 0 0a4 8 0 0 1-3-12a4 8 0 0 1 6 0a4 8 0 0 1-3 12c4-1 15-1 21-2c6-1 10-3 16-5c6-1 14-5 20-6c7-1 11 0 17-1c6-1 12-2 19-3c7 0 19-1 23-2c3 0 0 0 0 0a4 10 0 0 1-4-15a4 10 0 0 1 7 0a4 10 0 0 1-3 15c3 0 17-1 21-1c4 0 0 0 0 0a6 13 0 0 1-5-20a6 13 0 0 1 10 0a6 13 0 0 1-5 20c3 0 11 0 17-1c5 0 7 0 14-2c7-1 18-5 25-7c7-2 15-4 17-5M547 974c4-1 18-2 25-3c6 0 10 0 15-1c5 0 10 0 16-1c6-1 18-5 21-6c4-1 0 0 0 0a4 9 0 0 1-4-13a4 9 0 0 1 8 0a4 9 0 0 1-4 13c4-1 15-5 23-6c8-1 16 1 24 0c8-1 18-3 25-4c7-1 10-2 15-2c6-1 13-3 19-3c6 0 13 3 16 4c3 0 0 0 0 0a5 10 0 0 1-5-15a5 10 0 0 1 10 0a5 10 0 0 1-5 15c3 0 8 3 15 5c7 2 22 5 26 6M633 911l0 0a6 7 0 0 1-6-10a6 7 0 0 1 11 0a6 7 0 0 1-5 10c2 0 10 0 16 1c7 2 13 3 21 5c7 2 15 4 23 7c8 2 19 7 23 9c4 1 0 0 0 0a3 9 0 0 1-3-14a3 9 0 0 1 6 0a3 9 0 0 1-3 14c3 1 12 6 18 8c6 3 11 5 17 7c7 2 14 2 20 3c6 1 10 1 15 3c5 1 8 4 14 7c6 3 15 7 21 10c6 2 9 4 15 6c6 1 16 4 19 5c4 1 0 0 0 0a4 13 0 0 1-3-20a4 13 0 0 1 7 0a4 13 0 0 1-4 20c3 2 11 8 18 9c7 2 16 0 24 1c8 0 16 1 24 1c7-1 14-3 21-5c7-2 15-6 21-9c7-3 11-6 18-8c7-2 18-1 22-2c4 0 0 0 0 0a4 12 0 0 1-4-17a4 12 0 0 1 8 0a4 12 0 0 1-4 17c3 0 11-3 18-4c6-1 14 1 21 1c8 0 20-2 24-2M385 995c4-1 16-4 24-5c9-1 18-1 25-1c8 0 14-1 20-1c7 0 13 1 20 2c6 1 12 4 18 5c6 0 10-1 16-1c7 0 15-1 22-1c7-1 14 0 19-2c6-1 8-4 14-6c7-1 16-3 23-3c7 0 14 3 20 3c7 0 10-3 17-3c7 1 17 4 25 4c9 1 20-1 24-1c4 0 0 0 0 0a6 11 0 0 1-5-17a6 11 0 0 1 10 0a6 11 0 0 1-5 17c4 0 15 1 23 2c8 0 17 1 26 1c9 0 17 1 26 0c8-1 15-4 23-5c8-1 16 0 24 1c8 2 21 4 25 5M947 972c4 1 16 2 23 3c6 0 11 1 17 2c7 0 15 2 23 2c7 0 15-2 22-2c8 0 15 0 23 0c7-1 15 0 22-1c6 0 10 0 17-2c6-1 18-3 21-4M947 966c2 1 9 2 15 3c6 1 15 2 22 4c6 1 13 2 19 3c7 2 14 3 19 4c6 1 11 2 16 3c6 2 12 3 19 4c7 1 15 2 22 3c7 1 13 3 19 4c6 0 14 0 17 0M958 972c3 0 13-2 20-2c7 0 15 1 22 2c7 1 14 3 22 4c7 2 18 4 22 4c4 1 0 0 0 0a5 9 0 0 1-4-13a5 9 0 0 1 8 0a5 9 0 0 1-4 13c3 1 10 1 15 1c6 1 13 2 20 3c7 0 15-2 22-2c7 1 16 3 19 3M721 877l0 0a4 8 0 0 1-3-12a4 8 0 0 1 7 0a4 8 0 0 1-4 12c3-1 16-2 19-2c3 0 0 0 0 0a3 11 0 0 1-3-17a3 11 0 0 1 5 0a3 11 0 0 1-2 17c3-1 13-4 19-4c6 0 10 3 15 3c5 1 12 1 17 1c6 0 9-1 15-2c6 0 14-1 21-1c8 0 20-1 23-1c4 0 0 0 0 0a7 8 0 0 1-5-12a7 8 0 0 1 11 0a7 8 0 0 1-6 12c3 1 15 6 18 7c3 1 0 0 0 0a5 9 0 0 1-4-13a5 9 0 0 1 8 0a5 9 0 0 1-4 13c3 1 11 3 18 5c7 2 14 5 21 7c8 2 17 3 25 4c7 2 14 4 20 4c7 0 10-3 17-3c7 0 18 1 24 3c7 1 10 3 15 4c5 2 12 3 18 4c5 0 9-2 15-1c6 1 13 4 21 6c7 1 16 3 24 3c8 1 17-2 24-2c8 0 18 3 21 4M493 942c3 0 12 0 18-1c6-1 13-3 16-4c2 0 0 0 0 0a5 8 0 0 1-4-12a5 8 0 0 1 8 0a5 8 0 0 1-4 12c3 0 10-2 16-3c6-2 12-3 18-5c7-1 13-4 20-6c7-1 16-3 23-3c7-1 13 1 20 1c8 0 18 1 25 1c7 0 15-3 18-4c4-1 0 0 0 0a7 10 0 0 1-5-14a7 10 0 0 1 11 0a7 10 0 0 1-6 14c3-1 11-4 16-7c6-2 10-5 17-8c7-3 19-7 26-9c7-3 10-4 15-4c5-1 8 0 14 0c6-1 16-3 22-4c7-1 10-2 17-3c6 0 16 0 22-1c6-1 10-2 15-4c6-2 10-7 17-7c7 0 18 4 25 7c7 3 11 8 17 10c7 1 16 0 24 0c8-1 18-2 26-2c7 0 10 2 17 2c7-1 21-4 25-4c4-1 0 0 0 0a5 9 0 0 1-5-14a5 9 0 0 1 10 0a5 9 0 0 1-5 14c3-1 14-2 20-3c6-1 9-2 15-4c5-1 13-5 19-5c7-1 15 2 22 2c7 0 14-2 21-2c6 0 11 1 18 1c6-1 16-3 19-3M485 913c3 0 13-2 20-3c7 0 16 3 23 3c8 0 16-2 24-2c8 0 18 0 26 2c7 1 14 4 20 6c6 1 8 2 15 2c6 0 18 0 25-1c7-1 10-3 15-4c6-1 10-2 16-3c5-1 14-1 17-1c3-1 0 0 0 0a6 10 0 0 1-6-15a6 10 0 0 1 11 0a6 10 0 0 1-5 15c2 0 9 1 14 1c5 0 11-1 16-2c6-2 15-4 18-5c3-1 0 0 0 0a4 8 0 0 1-3-13a4 8 0 0 1 6 0a4 8 0 0 1-3 13c3 0 10 1 16 2c7 1 15 2 22 1c6 0 10-2 16-2c6 0 13 0 20 1c7 1 14 3 22 4c8 0 21 1 26 1c4 0 0 0 0 0a3 7 0 0 1-3-11a3 7 0 0 1 5 0a3 7 0 0 1-2 11c4-1 18-2 26-3c7 0 12-1 19 0c6 0 18 1 22 1c3 0 0 0 0 0a5 10 0 0 1-5-15a5 10 0 0 1 9 0a5 10 0 0 1-4 15c3 0 15 0 18 0c3 0 0 0 0 0a7 10 0 0 1-6-14a7 10 0 0 1 12 0a7 10 0 0 1-6 14c3 0 12 1 17 1c5 0 12-1 15-1c2-1 0 0 0 0a6 7 0 0 1-6-10a6 7 0 0 1 11 0a6 7 0 0 1-5 10c3-1 14-5 20-5c6 0 9 3 15 3c6-1 13-2 19-4c6-2 12-5 17-8c6-3 10-8 17-11c7-2 21-4 25-5c4-1 0 0 0 0a4 7 0 0 1-4-10a4 7 0 0 1 8 0a4 7 0 0 1-4 10l19-1M783 878l0 0a7 7 0 0 1-6-11a7 7 0 0 1 12 0a7 7 0 0 1-6 11c4 1 15 2 22 2c8 1 18 3 25 4c7 1 13 3 19 3c6 1 11 0 19 1c7 1 18 4 25 4c7 0 10-2 16-3c7-1 16-2 22-3c6-1 10-3 16-4c6-1 15-1 21-1c7 0 13 1 20 3c6 1 16 5 20 6M547 943c4 0 12 0 19-1c6 0 17 0 21 0c3 0 0 0 0 0a7 7 0 0 1-6-10a7 7 0 0 1 12 0a7 7 0 0 1-6 10c4 0 20-1 25-1c4-1 0 0 0 0a4 13 0 0 1-4-20a4 13 0 0 1 7 0a4 13 0 0 1-3 20c3 0 14 2 21 3c6 1 12 1 18 2c5 2 9 6 15 7c6 1 13 0 21 0c7 0 15 0 22-1c7-1 16-3 19-4c4-1 0 0 0 0a4 9 0 0 1-3-14a4 9 0 0 1 7 0a4 9 0 0 1-4 14c3 0 13-1 18-1c6 1 9 1 16 2c6 2 16 5 22 6c6 2 12 4 14 4c3 1 0 0 0 0a5 11 0 0 1-4-16a5 11 0 0 1 9 0a5 11 0 0 1-5 16c4-1 15-7 23-8c7-1 14 1 21 2c7 0 13 1 20 1c7 0 16-3 23-3c7 0 13 0 21 1c8 1 18 2 26 4c8 1 15 3 22 3c7 0 13-1 19-2c6-1 14-3 16-4c3-1 0 0 0 0a7 11 0 0 1-5-17a7 11 0 0 1 11 0a7 11 0 0 1-6 17c4-1 15-7 21-8c6-2 13-1 15-1M388 913c4 0 17 2 23 1c7 0 11-2 16-3c6-1 15-1 18-2c3 0 0 0 0 0a7 7 0 0 1-6-10a7 7 0 0 1 12 0a7 7 0 0 1-6 10c3-1 12-4 18-6c7-2 15-7 22-8c6-1 12-1 17 0c5 1 9 5 14 5c6 1 17 0 20-1c4 0 0 0 0 0a3 8 0 0 1-2-11a3 8 0 0 1 5 0a3 8 0 0 1-3 11c5 1 18 4 26 6c8 2 13 6 21 8c7 2 16 1 23 1c7 1 12 1 17 2c6 1 11 3 18 4c7 1 17 5 26 5c8 1 16-2 23-2c7 0 12 0 18 1c7 0 19 0 23 1c3 0 0 0 0 0a3 14 0 0 1-3-21a3 14 0 0 1 5 0a3 14 0 0 1-2 21c2-1 9 0 14-1c5-1 11-3 17-5c5-2 11-6 17-9c5-2 10-5 15-6c6-1 12-1 18-2c7-1 18-4 22-4c3-1 0 0 0 0a3 14 0 0 1-3-21a3 14 0 0 1 6 0a3 14 0 0 1-3 21c4-1 17-2 24-3c7 0 11 0 18 1c7 1 17 5 25 5c8 1 16 0 23 0c8 0 16 1 24 1c7 0 15-1 22-1c6 1 14 4 17 5c3 1 0 0 0 0a6 12 0 0 1-5-18a6 12 0 0 1 10 0a6 12 0 0 1-5 18c4 0 18 0 25-1c8 0 19-3 22-4M567 948c4 0 17 1 24 2c6 1 12 1 17 2c5 1 10 3 15 4c5 1 10 3 16 4c6 0 12-1 18-1c7 0 17 0 24-1c7-2 11-5 18-6c7-1 17-1 23-1c7 0 12 1 19 1c7 1 15 1 23 2c7 2 18 5 22 5c4 1 0 0 0 0a5 10 0 0 1-5-15a5 10 0 0 1 10 0a5 10 0 0 1-5 15c3-1 10-6 16-8c6-3 16-6 22-9c7-3 10-7 17-9c6-2 20-1 24-1c5 0 0 0 0 0a6 6 0 0 1-4-9a6 6 0 0 1 9 0a6 6 0 0 1-5 9c3 0 11 1 17 0c7-1 16-3 23-4c7-2 12-3 20-4c7-2 19-2 26-3c7 0 10 0 16 0c6 1 12 4 19 4c7 0 15-3 22-4c7-1 14-4 21-4c8-1 15 2 23 2c7 0 16-2 24-2c8 0 20 2 24 3c4 0 0 0 0 0a3 10 0 0 1-3-16a3 10 0 0 1 6 0a3 10 0 0 1-3 16l16 6M800 903c2-1 10-5 16-6c6 0 13 2 18 2c6 1 11 0 16 1c6 0 11 1 17 0c6 0 13-1 20-1c6-1 11-2 18-1c7 0 19 3 23 4c4 1 0 0 0 0a5 13 0 0 1-4-20a5 13 0 0 1 8 0a5 13 0 0 1-4 20M701 891c3 1 10 2 16 2c5 1 12 2 18 2c6 0 11 0 17 0c6 0 11-1 18-2c6-1 13-4 19-6c7-2 11-5 18-6c6-2 15-3 23-3c7 0 14 3 21 2c7 0 18-4 21-4c4-1 0 0 0 0a5 11 0 0 1-4-18a5 11 0 0 1 9 0a5 11 0 0 1-5 18l16-6M499 903c3 0 11 1 17 1c6 1 12 4 18 4c7 0 15-2 23-2c8 0 17 0 23 1c6 1 8 2 14 3c6 1 14 2 21 4c7 2 17 7 21 8c3 2 0 0 0 0a5 13 0 0 1-4-18a5 13 0 0 1 8 0a5 13 0 0 1-4 18c2 1 9 2 14 1c6 0 14-3 20-4c6 0 11 2 17 2c5 0 12-1 18-1c6 1 12 1 19 2c7 0 14 0 21-1c6 0 10-2 17-3c6-2 19-5 23-5c3-1 0 0 0 0a6 7 0 0 1-5-11a6 7 0 0 1 10 0a6 7 0 0 1-5 11c4-1 16-3 25-4c8-1 19-2 23-3c4 0 0 0 0 0a4 12 0 0 1-3-18a4 12 0 0 1 6 0a4 12 0 0 1-3 18c3-1 11-3 17-5c6-1 12-3 19-4c6 0 16 2 19 2c3 1 0 0 0 0a6 12 0 0 1-5-17a6 12 0 0 1 10 0a6 12 0 0 1-5 17c3 0 13-2 19-2c7 0 13 2 20 3c6 0 14-1 21 0c8 0 18 2 21 3c4 0 0 0 0 0a6 12 0 0 1-5-18a6 12 0 0 1 11 0a6 12 0 0 1-6 18c3-1 12-3 18-3c5 0 10 1 17 2c6 2 14 5 21 7c7 3 14 5 21 7c7 3 17 6 21 7c3 1 0 0 0 0a6 6 0 0 1-5-9a6 6 0 0 1 10 0a6 6 0 0 1-5 9l25 1M743 892c2 1 13 4 16 5c3 1 0 0 0 0a4 11 0 0 1-3-16a4 11 0 0 1 6 0a4 11 0 0 1-3 16c2 0 8 0 15 0c6 0 18-1 25-1c7 0 10 1 17 2c7 1 17 3 25 4c7 0 14 0 21 0c7 0 14-1 21-2c8 0 17 0 24-1c7 0 12-1 18-1c7-1 13 0 20 0c7-1 15-1 22-2c7-1 14-3 21-3c7 0 14 2 20 2c7 1 16 2 19 2c3 0 0 0 0 0a3 10 0 0 1-3-15a3 10 0 0 1 6 0a3 10 0 0 1-3 15l20 5M336 945c3 0 14-3 16-4c3 0 0 0 0 0a4 6 0 0 1-3-9a4 6 0 0 1 7 0a4 6 0 0 1-4 9c3 1 12 2 18 3c6 0 11 0 17 0c6 1 14 3 21 4c7 0 15-2 22-2c6 0 16 1 19 2c3 0 0 0 0 0a4 6 0 0 1-4-9a4 6 0 0 1 7 0a4 6 0 0 1-3 9c4-1 18-3 25-5c6-2 9-5 15-7c6-2 13-4 19-4c6 0 10 2 17 3c8 2 18 3 26 5c7 2 15 7 18 8c3 2 0 0 0 0a6 11 0 0 1-5-16a6 11 0 0 1 10 0a6 11 0 0 1-5 16c3 1 10 4 16 6c6 2 13 5 19 5c6 0 12-4 18-5c6-2 11-4 18-4c6-1 14-1 22-1c8 0 22 1 26 1c4 0 0 0 0 0a7 9 0 0 1-6-14a7 9 0 0 1 12 0a7 9 0 0 1-6 14c2 0 8 1 15 0c6 0 16-3 22-3c7 0 13 3 19 3c6 0 12-3 18-3c5 0 7 2 14 4c6 1 21 5 25 6c4 1 0 0 0 0a4 14 0 0 1-3-21a4 14 0 0 1 7 0a4 14 0 0 1-4 21c3 0 10 2 15 2c5 0 9 0 14-1c5-2 10-5 16-6c5-1 10 0 17 1c7 1 17 5 24 6c7 1 9-1 16-2c7-1 22-2 26-2c4-1 0 0 0 0a4 8 0 0 1-3-12a4 8 0 0 1 6 0a4 8 0 0 1-3 12c3 0 12 3 18 3c5 0 11 0 16-2c6-1 11-6 18-7c6-1 15 0 22 1c7 0 12 0 19 0c6 1 18 1 21 2c4 0 0 0 0 0a5 12 0 0 1-4-18a5 12 0 0 1 8 0a5 12 0 0 1-4 18c4 0 16 3 22 5c7 1 16 1 19 1" stroke="#c4c4c4" stroke-width="1.0"/>
<path d="M256 1006a6 26 0 0 1-5-39a6 26 0 0 1 10 0a6 26 0 0 1-5 39l11-30a4 14 0 0 1-3-21a4 14 0 0 1 6 0a4 14 0 0 1-3 21l9-7a4 14 0 0 1-3-21a4 14 0 0 1 6 0a4 14 0 0 1-3 21l13-3a4 16 0 0 1-3-24a4 16 0 0 1 6 0a4 16 0 0 1-3 24l11-4a4 18 0 0 1-3-27a4 18 0 0 1 6 0a4 18 0 0 1-3 27l14-4a7 28 0 0 1-6-42a7 28 0 0 1 12 0a7 28 0 0 1-6 42l2-15a4 18 0 0 1-3-27a4 18 0 0 1 6 0a4 18 0 0 1-3 27c1-5 2-31 8-33c6-2 16 15 25 22c9 7 19 15 28 20c9 5 19 8 28 11c9 3 14 5 28 5c14 0 41 0 56-2c15-2 24-5 36-12c12-7 24-20 35-29c11-9 24-23 32-28c8-5 12-3 14-3" stroke="#4DBEEE" stroke-width="2.8"/>
<path d="M257 1003a4 18 0 0 1-3-27a4 18 0 0 1 6 0a4 18 0 0 1-3 27c1-5 3-22 5-28c2-6 5-5 8-7c3-2 7-5 10-8c3-3 7-6 10-8c3-2 7-4 10-7c3-3 6-6 8-10c2-4 3-12 4-15c1-3 4-8 4-5c0 3-2 20-2 24a3 14 0 0 1-3-21a3 14 0 0 1 6 0a3 14 0 0 1-3 21c1-1 1-7 7-7c6 0 14 6 28 7c14 1 37-1 56-1c19 0 36 0 56 2c20 2 47 5 64 7c17 2 21 0 35 3c14 3 35 11 50 15c15 4 25 7 40 10c15 3 25 5 50 5c25 0 67-2 100-5c33-3 83-13 100-15" stroke="#7E2F8E" stroke-width="2.8"/>
<path d="M254 988c11 1 42 3 67 4c25 1 50 2 84 3c34 1 87 3 120 4c33 1 46 1 75 2c29 1 67 1 100 2c33 1 67 1 100 1c33 0 56 0 100 1c44 1 136 4 163 5" stroke="#4DBEEE" stroke-width="2.8"/>
<path d="M248 994c-3 1-14 5-17 8c-3 3-3 6-1 8c2 2-5 2 15 3c20 1 58 0 105 0c47 0 117 0 175 0c58 0 113-1 175-1c62 0 150 1 200-2c50-3 77-10 100-14c23-4 32-6 38-7" stroke="#77AC30" stroke-width="2.8"/>
<path d="M248 1002c9 0 6 1 52 2c46 1 158 4 225 4c67 0 113-1 175-2c62-1 147-4 200-6c53-2 98-3 117-4" stroke="#7E2F8E" stroke-width="2.8"/>
<path d="M358 951a8 29 0 0 1-7-43a8 29 0 0 1 14 0a8 29 0 0 1-7 43l-5-27a4 14 0 0 1-3-21a4 14 0 0 1 6 0a4 14 0 0 1-3 21c2 2 4 12 13 14c9 2 23 2 39 0c16-2 36-5 56-9c20-4 48-10 64-14c16-4 17-7 31-8c14-1 39-2 56-1c17 1 34 6 45 7c11 1 16 1 22-2c6-3 11-9 14-17c3-8 5-22 7-28c2-6 2-6 2-7a4 12 0 0 1-3-18a4 12 0 0 1 6 0a4 12 0 0 1-3 18" stroke="#0072BD" stroke-width="2.8"/>
<path d="M349 1005a5 24 0 0 1-4-36a5 24 0 0 1 8 0a5 24 0 0 1-4 36l3-35a3 10 0 0 1-3-15a3 10 0 0 1 6 0a3 10 0 0 1-3 15c0 5-5 24 3 30c8 6 4 3 45 4c41 1 133 2 200 2c67 0 153-1 200-2c47-1 55-4 80-6c25-2 58-8 69-9" stroke="#0072BD" stroke-width="2.8"/>
<path d="M352 935a5 20 0 0 1-4-30a5 20 0 0 1 8 0a5 20 0 0 1-4 30l10-3a5 22 0 0 1-4-33a5 22 0 0 1 8 0a5 22 0 0 1-4 33l10 5a5 22 0 0 1-4-33a5 22 0 0 1 8 0a5 22 0 0 1-4 33l8-3a5 22 0 0 1-4-33a5 22 0 0 1 8 0a5 22 0 0 1-4 33l5 2a4 18 0 0 1-3-27a4 18 0 0 1 6 0a4 18 0 0 1-3 27c1-1-5-2 3-4c8-2 30-8 45-11c15-3 27-3 42-4c15-1 36 0 50 1c14 1 19 5 35 7c16 2 42 3 58 3c16 0 29-3 39-6c10-3 16-8 22-14c6-6 11-15 14-22c3-7 6-16 7-20c1-4 1-1 1-1a6 18 0 0 1-5-27a6 18 0 0 1 10 0a6 18 0 0 1-5 27" stroke="#D95319" stroke-width="2.8"/>
<path d="M333 1007a4 22 0 0 1-3-33a4 22 0 0 1 6 0a4 22 0 0 1-3 33l3-17a3 12 0 0 1-3-18a3 12 0 0 1 6 0a3 12 0 0 1-3 18c1 2-7 10 4 13c11 3 17 2 60 3c43 1 133 2 200 2c67 0 150 1 200 1c50 0 83 1 100 1" stroke="#D95319" stroke-width="2.8"/>
<path d="M420 1012a9 37 0 0 1-8-56a9 37 0 0 1 16 0a9 37 0 0 1-8 56c-12-4-71-20-74-24c-3-4 24 1 54 2c30 1 92 5 125 6c33 1 46 1 75 2c29 1 67 1 100 2c33 1 51 1 100 2c49 1 162 2 195 2" stroke="#EDB120" stroke-width="2.8"/>
<path d="M313 1010c15 0 52 1 87 1c35 0 75 1 125 1c50 0 113 0 175 0c62 0 167 0 200 0" stroke="#EDB120" stroke-width="2.8"/>
<path d="M400 1000c5-4 24-20 30-25c6-5 7-3 8-3a6 30 0 0 1-5-45a6 30 0 0 1 10 0a6 30 0 0 1-5 45l11-4a5 25 0 0 1-4-38a5 25 0 0 1 8 0a5 25 0 0 1-4 38l11-3a4 20 0 0 1-3-30a4 20 0 0 1 6 0a4 20 0 0 1-3 30l12 3a6 28 0 0 1-5-42a6 28 0 0 1 10 0a6 28 0 0 1-5 42l10 4a6 28 0 0 1-5-42a6 28 0 0 1 10 0a6 28 0 0 1-5 42l8 0a4 22 0 0 1-3-33a4 22 0 0 1 6 0a4 22 0 0 1-3 33c0 0 0-2 2-2c2 0 2-2 8 0c6 2 9 14 28 14c19 0 61-11 84-17c23-6 40-13 56-17c16-4 28-5 42-8c14-3 26-8 42-8c16 0 31 2 56 5c25 3 66 9 92 11c26 2 39 2 64 3c25 1 65 1 84 4c19 3 22 12 28 16c6 4 6 9 6 8c0-1-10-9-6-14c4-5 19-12 28-17c9-5 20-5 25-11c5-6 4-24 6-25c2-1 2 14 5 21c3 7 9 20 14 21c5 1 14-14 17-17" stroke="#77AC30" stroke-width="2.8"/>
<path d="M416 1013c5-5 20-21 28-28c8-7 16-15 22-14c6 1 12 16 17 17c5 1 12 1 14-11c2-12-5-49 0-59c5-10 13-2 28-1c15 1 40 6 59 8c19 2 37 6 56 6c19 0 37-5 56-6c19-1 37-5 56-3c19 2 31 9 56 12c25 3 71 4 92 8c21 4 21 14 36 14c15 0 37-8 56-11c19-3 33-7 56-9c23-2 65 0 84-1c19-1 20-2 28-7c8-5 13-14 17-22c4-8 6-22 7-23c1-1-1 13-1 15a3 8 0 0 1-3-12a3 8 0 0 1 6 0a3 8 0 0 1-3 12c0 1-3 3-2 6c1 3 3 10 5 14c2 4 6 7 9 8c3 1 7 0 10-4c3-4 7-16 9-19" stroke="#A2142F" stroke-width="2.8"/>
<path d="M525 929c-2 5-7 21-10 31c-3 10-7 23-9 28" stroke="#A2142F" stroke-width="2.8"/>
<path d="M500 992c2-8 7-39 11-50c4-11 7-13 11-14c4-1 8 1 14 6c6 5 13 14 20 22c7 8 15 22 22 28c7 6 10 6 20 8c10 2 25 2 42 3c17 1 50 1 60 1" stroke="#A2142F" stroke-width="2.8"/>
<path d="M595 929a5 24 0 0 1-4-36a5 24 0 0 1 8 0a5 24 0 0 1-4 36l10-7a5 22 0 0 1-4-33a5 22 0 0 1 8 0a5 22 0 0 1-4 33l9 7a5 24 0 0 1-4-36a5 24 0 0 1 8 0a5 24 0 0 1-4 36l8-9a4 20 0 0 1-3-30a4 20 0 0 1 6 0a4 20 0 0 1-3 30l6 5a4 20 0 0 1-3-30a4 20 0 0 1 6 0a4 20 0 0 1-3 30l-26 32a4 12 0 0 1-3-18a4 12 0 0 1 6 0a4 12 0 0 1-3 18l2 23a4 12 0 0 1-3-18a4 12 0 0 1 6 0a4 12 0 0 1-3 18l2 20a4 10 0 0 1-3-15a4 10 0 0 1 6 0a4 10 0 0 1-3 15c0 0-16-1 0 0c16 1 62 3 94 4c32 1 67 2 100 2c33 0 52 2 100 1c48-1 155-3 186-4" stroke="#A2142F" stroke-width="2.8"/>
<path d="M800 950c1-2 6-11 8-15c2-4 5-11 7-10c2 1 3 15 5 15c2 0 6-15 8-15c2 0 4 15 6 15c2 0 6-15 8-15c2 0 4 15 6 15c2 0 5-14 7-15c2-1 3 13 6 10c3-3 6-16 9-25c3-9 6-26 9-30c3-4 5 5 7 8c2 3 6 7 7 8" stroke="#A2142F" stroke-width="2.8"/>
<path d="M796 1004a5 24 0 0 1-4-36a5 24 0 0 1 8 0a5 24 0 0 1-4 36l4-25a4 14 0 0 1-3-21a4 14 0 0 1 6 0a4 14 0 0 1-3 21" stroke="#A2142F" stroke-width="2.8"/>
<path d="M951 900a7 18 0 0 1-6-27a7 18 0 0 1 12 0a7 18 0 0 1-6 27c0 0 5-4 0 0c-5 4-19 15-29 22c-10 7-21 16-28 20c-7 4-12 2-14 3" stroke="#A2142F" stroke-width="2.8"/>
<path d="M710 905c-1 1-4 3-5 5c-1 2 0 10 2 10c2 0 8-5 11-9c3-4 4-11 6-16c2-5-2-12 3-13c5-1 16 2 25 5c9 3 19 9 28 13c9 4 16 6 28 8c12 2 27 5 42 6c15 1 31 2 50 1c19-1 44-1 64-4c20-3 40-11 56-14c16-3 29-7 39-7c10 0 18 2 23 7c5 5 6 10 8 20c2 10 1 28 3 39c2 11 7 22 11 28c4 6 12 9 15 11" stroke="#7E2F8E" stroke-width="2.8"/>
<path d="M514 1000l5 2a5 20 0 0 1-4-30a5 20 0 0 1 8 0a5 20 0 0 1-4 30c1-2 4-7 6-12c2-5 3-14 6-20c3-6 8-15 9-15c1 0-2 11-2 13a5 18 0 0 1-4-27a5 18 0 0 1 8 0a5 18 0 0 1-4 27c2-5 6-22 10-28c4-6 10-14 14-10c4 4 7 29 8 35a5 20 0 0 1-4-30a5 20 0 0 1 8 0a5 20 0 0 1-4 30l8-15" stroke="#7E2F8E" stroke-width="2.8"/>
<path d="M688 992a5 22 0 0 1-4-33a5 22 0 0 1 8 0a5 22 0 0 1-4 33l4 8a4 15 0 0 1-3-22a4 15 0 0 1 6 0a4 15 0 0 1-3 22" stroke="#7E2F8E" stroke-width="2.8"/>
<path d="M902 965a5 25 0 0 1-4-37a5 25 0 0 1 8 0a5 25 0 0 1-4 37" stroke="#7E2F8E" stroke-width="2.8"/>
<path d="M900 975a3 30 0 0 1-3-45a3 30 0 0 1 6 0a3 30 0 0 1-3 45" stroke="#D95319" stroke-width="2.8"/>
<path d="M742 872c1 2 2 5 4 14c2 9 6 30 6 42c0 12-2 21-3 32c-1 11-3 29-3 35" stroke="#77AC30" stroke-width="2.8"/>
<path d="M748 990a5 30 0 0 1-4-45a5 30 0 0 1 8 0a5 30 0 0 1-4 45" stroke="#77AC30" stroke-width="2.8"/>
<path d="M804 977a4 37 0 0 1-3-55a4 37 0 0 1 6 0a4 37 0 0 1-3 55" stroke="#77AC30" stroke-width="2.8"/>
<path d="M880 964c19 0 84 1 112 0c28-1 47-7 56-8" stroke="#77AC30" stroke-width="2.8"/>
<path d="M651 886c0 2 1 7 1 14c0 7 3 18 2 28c-1 10-4 20-6 32c-2 12-7 32-8 38" stroke="#4DBEEE" stroke-width="2.8"/>
<path d="M500 962c5-3 20-11 30-17c10-6 20-12 30-20c10-8 27-23 32-28" stroke="#4DBEEE" stroke-width="2.8"/>
<path d="M696 920c9 1 37 3 56 5c19 2 31 4 56 6c25 2 71 3 92 5c21 2 16 3 36 6c20 3 70 12 84 14" stroke="#4DBEEE" stroke-width="2.8"/>
<path d="M940 1006c1-8 4-30 7-50c3-20 7-52 9-70c2-18 1-35 4-35c3 0 6 24 12 35c6 11 16 22 26 31c10 9 23 15 36 22c13 7 28 13 42 17c14 4 28 4 42 6c14 2 26 3 42 4c16 1 40 1 56 1c16 0 33 0 43 0c10 0 13 1 18-1c5-2 6-10 9-9c3 1 7 10 7 16c0 6-3 16-5 20c-2 4-5 6-7 5c-2-1-6 0-7-9c-1-9 0-30 1-43c1-13 3-27 6-37c3-10 6-14 9-22c3-8 9-23 11-26c2-3 2 7 2 8" stroke="#4DBEEE" stroke-width="2.8"/>
<path d="M908 1012c1-4 5-19 7-27c2-8 5-20 7-23c2-3 5 3 8 6c3 3 8 11 9 13" stroke="#4DBEEE" stroke-width="2.8"/>
<path d="M1003 883c2 5 9 19 11 31c2 12 2 32 3 39" stroke="#4DBEEE" stroke-width="2.8"/>
<path d="M770 792c2 6 9 22 10 38c1 16 0 41-3 56c-3 15-7 25-14 36c-7 11-14 20-25 28c-11 8-26 17-42 23c-16 6-37 10-56 14c-19 4-36 8-56 11c-20 3-53 6-64 7" stroke="#EDB120" stroke-width="2.8"/>
<path d="M573 950c7 3 23 15 39 17c16 2 37-3 56-5c19-2 37-4 56-6c19-2 37-7 56-8c19-1 36 0 56 2c20 2 53 10 64 12" stroke="#D95319" stroke-width="2.8"/>
<path d="M1150 955c1 0 2 3 5 1c3-2 13-13 15-16" stroke="#77AC30" stroke-width="2.8"/>
<path d="M600 1006c17 0 67 1 100 2c33 1 70 2 100 2c30 0 67-3 80-4" stroke="#EDB120" stroke-width="2.8"/>
<path d="M600 1010c17 0 67 1 100 1c33 0 67 1 100 1c33 0 83-1 100-1" stroke="#0072BD" stroke-width="2.8"/>
<path d="M421 1010c6-1 23-3 35-4c12-1 26-1 38 0c12 0 22 2 33 3c10 0 19 0 28 0c10 0 20 1 30 1c10-1 18-4 30-4c12 0 26 4 40 4c14 0 29-4 43-4c14 0 28 3 41 3c13 1 27-1 37-1c11 0 19 2 29 2c9-1 18-3 29-3c11 0 24 2 36 2c13 0 28 0 39-1c11 0 18 0 27 0c9 0 16 1 27 1c11 0 28-1 40-1c12 0 21 0 31 0c10 0 23 0 30 0c7-1 12-2 15-2" stroke="#4DBEEE" stroke-width="2.6"/>
<path d="M246 1000c7 0 29-1 43-1c15 0 29 2 43 2c15 0 32 0 44 0c12 0 17 1 29 1c12-1 30-3 45-3c15 0 30 3 44 3c15 0 28-2 42-3c14 0 30 0 44 1c13 0 23 2 36 2c13 0 27-2 39-3c13 0 23 0 35 0c12 0 27 1 38 1c12 0 20 0 31 0c12 0 28 0 40 0c12 0 24 2 34 2c11 0 17-3 29-3c12-1 27 0 41 0c13 1 28 2 42 3c13 0 27-1 39-1c12-1 19 0 31 0c12 0 30 0 40 0c9 0 14 0 17 1" stroke="#0072BD" stroke-width="2.6"/>
<path d="M251 1001c5 0 21-2 32-1c11 0 23 2 33 3c10 0 19 1 30 1c10 0 23-3 33-3c11 0 21 3 31 3c11 0 20-4 32-4c13-1 30 1 43 1c13 0 23-1 33-1c10 0 16 0 27 0c11 1 28 3 40 3c13 0 25-1 35-2c10 0 17-1 26-1c8 1 15 2 25 3c10 0 22-2 34-2c11 0 22 1 34 1c13 1 28 1 40 1c12 0 20 0 30 0c11 0 23 1 33 0c10 0 17-3 27-3c10 0 20 4 32 3c13 0 31-4 42-4c12 0 24 4 29 5" stroke="#7E2F8E" stroke-width="2.6"/>
<path d="M402 998c5 0 22 1 32 1c10 0 17-1 28-1c10 0 23 2 35 2c12 1 24 0 35 0c10 0 15 0 27 0c11-1 30-3 42-3c13-1 20-1 32 0c12 0 25 2 38 3c13 0 25 0 38 0c13-1 29-1 41-1c12-1 22 0 31-1c10 0 21-1 26-1" stroke="#A2142F" stroke-width="2.6"/>
<path d="M435 1010c7 0 31 1 44 1c14 0 23 1 36 1c13 0 29-2 40-2c11 0 15 2 27 2c12 0 31 0 43 0c13 0 23 0 33 0c10 0 16 0 27 0c11 0 27 0 40 0c13 0 23 0 36 0c14 0 30-2 44-2c15 0 29 0 42 1c13 0 23 1 35 1c13 0 29-1 40-1c12 0 17 1 30 1c12 0 33-1 45-1c12 0 23 1 28 1" stroke="#EDB120" stroke-width="2.6"/>
<path d="M453 1012c7-1 27-3 41-3c14 0 31 3 43 3c12 0 20-3 30-3c11-1 19 0 31 0c12 1 28 3 42 3c14 0 29-4 43-4c14 0 30 3 41 3c12 0 18-2 28-2c10-1 19 0 31 0c12 0 28-1 41-1c14 0 29 0 43 1c13 0 25 1 37 1c13 0 27-1 37-1c10 0 17 0 26 0c9 0 23 2 28 2c6 0 3-2 4-3" stroke="#77AC30" stroke-width="2.6"/>
<path d="M333 1008c6 0 26 0 36-1c11 0 20-2 29-3c9 0 16 0 26 1c11 0 25 1 38 2c13 0 28 0 40 0c13 0 23 0 35 0c13-1 30-3 41-3c11 1 17 4 27 5c10 0 21-3 33-3c12 0 26 2 40 2c14-1 30-3 44-3c14-1 28 0 39 1c11 0 17 1 29 1c12 0 29-1 41-1c13 0 21-1 33 0c13 0 28 2 42 2c14 0 30-2 42-3c13 0 25 0 33 0c7 0 12 0 14 0" stroke="#D95319" stroke-width="2.6"/>
<path d="M281 988c7 0 29 3 43 3c14 0 27-3 42-3c14 0 31 0 45 0c13 0 23 0 34 0c12 0 23 0 35 0c12 0 27 0 39 0c12 0 24 1 34 1c9 0 14 0 25 0c10 0 27 1 38 1c12 0 18-2 29-2c10 0 22 0 33 0c12 0 21 2 33 2c12 0 27-2 39-2c12 0 24 1 34 1c10 0 16 0 26 0c9 0 24-1 29-1" stroke="#4DBEEE" stroke-width="2.6"/>
<path d="M482 998c7 0 28 1 40 1c13 0 25-3 35-3c11 0 19 3 28 3c9 1 16 1 27 1c11-1 27-3 37-4c11 0 16 1 26 1c10 0 21-1 34-1c12 0 28 1 42 1c14 0 27 1 39 1c12 0 22 0 32 0c11 0 18 0 29 0c11 0 28-1 40-1c13 0 28 0 36 1c8 0 11 2 13 2" stroke="#0072BD" stroke-width="2.6"/>
<path d="M360 997c6 0 23 0 36 0c13 0 28 2 42 2c14 0 30-2 42-3c13 0 23-2 36-2c13 0 32 2 43 3c12 0 18 1 27 1c9 0 17 1 29 0c11 0 26-3 38-3c12-1 23-1 34 0c10 0 19 1 28 1c10 1 15 2 26 2c11-1 26-4 38-3c12 0 25 4 35 4c11 0 20-2 29-3c10 0 17-1 29-1c12 0 31-1 44 0c14 0 25 4 38 4c13 0 29-3 42-2c14 0 29 2 38 2c9 0 13-1 16-1" stroke="#7E2F8E" stroke-width="2.6"/>
<path d="M388 993c6 1 25 3 35 3c11 1 17 0 29-1c11 0 25-2 38-2c13-1 27 0 38 1c11 1 18 3 30 3c12 0 31-3 44-4c13-1 21 0 32 0c12 0 24 1 37 1c12 0 26-1 37-1c10-1 14-1 25-1c11 1 28 0 42 1c15 1 29 4 43 4c14 0 30-3 42-3c12 0 17 3 29 3c12 0 34 0 43-1c9-1 8-3 10-3" stroke="#A2142F" stroke-width="2.6"/>
<path d="M396 1008c6-1 24-2 37-3c14-1 31-1 45-1c15 0 29-1 44-1c14 1 28 4 42 4c15 0 28-3 43-2c14 0 32 2 45 3c12 1 20 1 31 0c12-1 25-4 38-4c13-1 29 2 41 3c12 0 20 0 30-1c11 0 22-2 33-2c12 0 25 2 35 1c11 0 17-1 28-2c10 0 23 1 36 1c13 0 26 1 40 1c14 0 31-1 45-1c13 0 27 3 36 4c9 0 14-1 17-1" stroke="#EDB120" stroke-width="2.6"/>
<path d="M724 984c6 0 26 0 37 0c11 1 18 2 30 3c12 0 28 1 42 0c14 0 32-2 43-2c12 0 22 2 26 2" stroke="#7E2F8E" stroke-width="2.6"/>
<path d="M584 992c7-1 29-2 44-3c15 0 32 1 45 2c12 0 19-1 29 0c11 0 22 1 34 2c12 0 25-1 38-2c14 0 29-1 42-2c13 0 26-2 37-3c10 0 17 0 25 0c9 1 19 2 28 3c10 1 25 3 30 4" stroke="#A2142F" stroke-width="2.6"/>
<path d="M736 980c5 0 22 2 33 2c10-1 18-3 30-3c13 0 31 4 45 4c14 0 27-5 39-5c11-1 20 1 31 1c11 0 24-2 34-1c9 0 20 2 24 2" stroke="#0072BD" stroke-width="2.6"/>
<path d="M694 990c7 1 30 3 41 3c12 1 17 0 26-1c10-1 21-3 33-4c12-1 27-1 41-1c13 1 26 5 39 6c13 1 26 0 39 0c13 0 28-1 40-2c12 0 21-1 31-2c11 0 26 1 31 1" stroke="#77AC30" stroke-width="2.6"/>
<path d="M600 986c8-1 30-5 44-5c14-1 30 2 42 2c11 0 15-2 27-2c11 0 29-1 41 0c13 0 23 2 36 3c13 1 30 3 44 3c14 0 26-2 39-4c13-1 27-3 41-3c13 0 27 3 39 4c11 1 17 0 28-1c10-1 27-4 36-4c9 0 14 3 17 3" stroke="#4DBEEE" stroke-width="2.6"/>
<path d="M528 998c6 0 21 2 34 1c13-1 30-5 42-5c12-1 18 1 29 2c11 1 26 2 37 2c10 0 15-2 26-2c10 0 26 2 38 1c13 0 24-3 37-3c14 0 28 3 43 4c14 1 29 1 42 0c13-1 25-7 36-6c11 0 19 7 31 7c12 1 26-5 40-5c14 0 35 3 45 4c9 1 11 1 13 1" stroke="#D95319" stroke-width="2.6"/>
</g>
<path d="M125.5 1015.3V1002.5M125.5 673.7V686.5M267.4 1015.3V1002.5M267.4 673.7V686.5M409.3 1015.3V1002.5M409.3 673.7V686.5M551.2 1015.3V1002.5M551.2 673.7V686.5M693.1 1015.3V1002.5M693.1 673.7V686.5M834.9 1015.3V1002.5M834.9 673.7V686.5M976.8 1015.3V1002.5M976.8 673.7V686.5M1118.7 1015.3V1002.5M1118.7 673.7V686.5M1260.6 1015.3V1002.5M1260.6 673.7V686.5M1402.5 1015.3V1002.5M1402.5 673.7V686.5M125.5 1015.3H138.3M1402.5 1015.3H1389.7M125.5 901.4H138.3M1402.5 901.4H1389.7M125.5 787.6H138.3M1402.5 787.6H1389.7M125.5 673.7H138.3M1402.5 673.7H1389.7" stroke="#606060" stroke-width="1.1" fill="none"/>
<rect x="125.5" y="673.7" width="1277.0" height="341.6" stroke="#707070" stroke-width="1.2" fill="none"/>
<g font-family="Liberation Sans, Arial, sans-serif" font-size="44" fill="#2b2b2b"><text x="125.5" y="1067.5" text-anchor="middle">5</text><text x="267.4" y="1067.5" text-anchor="middle">5.5</text><text x="409.3" y="1067.5" text-anchor="middle">6</text><text x="551.2" y="1067.5" text-anchor="middle">6.5</text><text x="693.1" y="1067.5" text-anchor="middle">7</text><text x="834.9" y="1067.5" text-anchor="middle">7.5</text><text x="976.8" y="1067.5" text-anchor="middle">8</text><text x="1118.7" y="1067.5" text-anchor="middle">8.5</text><text x="1260.6" y="1067.5" text-anchor="middle">9</text><text x="1402.5" y="1067.5" text-anchor="middle">9.5</text><text x="113.9" y="1031.1" text-anchor="end">0</text><text x="113.9" y="917.2" text-anchor="end">10</text><text x="113.9" y="803.4" text-anchor="end">20</text><text x="113.9" y="689.5" text-anchor="end">30</text></g>
<text x="21" y="602" font-family="Liberation Sans, Arial, sans-serif" font-weight="bold" font-size="30.5" fill="#0a0a0a">B</text>
<g font-family="Liberation Serif, serif" fill="#2b2b2b"><text transform="translate(720.0,1115.3) scale(1.1,1)" font-style="italic" font-size="47">x</text><text transform="translate(748.1,1126.2) scale(1.3,1.47)" font-size="47">/</text><text x="769.8" y="1115.3" font-style="italic" font-size="48.5">H</text></g>
<g transform="translate(47,844.5) rotate(-90)" font-family="Liberation Serif, serif" fill="#2b2b2b"><text x="-31" y="0" font-style="italic" font-size="47">z</text><text transform="translate(-8.3,10.9) scale(1.3,1.47)" font-size="47">/</text><text x="12.6" y="0" font-style="italic" font-size="45">δ</text></g>
<path d="M221.1 1272.3V1613.4M380.7 1272.3V1613.4M540.4 1272.3V1613.4M700.0 1272.3V1613.4M859.7 1272.3V1613.4M1019.3 1272.3V1613.4M1179.0 1272.3V1613.4M1338.6 1272.3V1613.4M125.3 1491.6H1402.5M125.3 1369.8H1402.5" stroke="#ebebeb" stroke-width="1" fill="none"/>
<clipPath id="clipC"><rect x="125.3" y="1272.3" width="1277.2" height="341.10000000000014"/></clipPath>
<g clip-path="url(#clipC)" fill="none" stroke-linejoin="round" stroke-linecap="round">
<path d="M175 1557c1 0 3 0 6 0c3 0 7-2 11-2c3 0 6 1 8 1c3 1 6 0 9 0c2 0 6 0 8 0c3 0 5-1 8-1c3 0 6 1 10 2c3 0 8 0 10 0c3 0 4-2 6-2c2 0 4 1 7 1c2 0 7 0 9 0c3 0 5 2 7 0c1-1 1-8 1-8c1 0 1 6 2 7c1 2 3 2 4 1c1 0 1-4 2-4c0 0 0 4 1 5c1 1 5 2 7 1c1-1 1-7 1-7c1-1 1 3 2 3c0 1 3 2 3 2c1-1 1-5 2-6c0 0 0 4 1 5c2 1 4 2 6 3c3 0 5 0 8 0c2 0 4-2 6-2c3 0 6 5 8 3c1-2 1-13 1-14c1-1 0 7 2 9c1 2 2 3 5 4c2 1 8 3 10 1c2-2 1-11 2-11c0 0 1 7 1 8c1 2 0 0 2 1c2 0 7 1 10 1c3 0 5-1 8-1c3 1 9 3 11 1c2-1 1-9 1-9c1 0 1 7 2 8c1 2 3 2 4 0c0-2 1-11 1-11c1 0 1 8 2 10c0 3 1 3 3 3c3 1 8 1 11 1c4 0 7 1 10 1c3 0 6-1 9-2c4 0 8 1 11 1c2-1 5 0 6-2c1-2 1-10 1-11c1 0 1 7 2 9c1 2 2 1 3 2c2 1 3 3 6 3c2 1 6 0 8 1c2 0 2-1 5-1c3 0 8 2 10 0c2-2 1-8 2-9c0-1 0 1 1 2c2 2 6 7 7 7c2-1 1-9 2-10c0-1 0 3 1 4c2 2 4 5 7 6c3 1 8 1 11 0c2 0 3-3 5-3c2 0 7 3 9 2c1-2 1-10 1-11c1 0 1 5 2 6c1 2 3 6 5 5c1-1 1-8 1-9c1-1 1 3 2 4c0 1 1 3 2 4c2 1 4 2 6 3c2 0 6 1 8-1c1-2 1-8 1-9c1-1 1 1 2 2c1 2 3 7 4 6c1-1 1-10 1-10c1-1 1 6 2 7c0 2 0 3 2 4c1 0 5 2 7 1c1-2 1-9 1-10c1-2 0 1 2 3c1 1 6 7 8 5c1-1 1-15 1-16c1 0 0 10 2 13c1 2 5 3 7 3c2 1 5 0 6 0M178 1559c1 0 4 2 5 1c1-1 1-6 2-6c0 0 0 6 1 7c1 1 4 2 5 0c1-2 1-11 1-11c1 0 1 10 2 11c1 2 3-2 6-2c2 0 7 2 10 2c3 0 6-2 8-2c2-1 4 1 6 0c1-1 1-5 1-5c1 0 1 4 2 5c1 1 2 0 5 0c2 0 7 1 9 0c2-1 1-8 2-8c0 1 0 9 1 10c2 2 6 2 8 0c1-2 1-13 1-12c1 0 0 10 2 12c1 3 4 0 7 0c3 0 6 1 9 1c2 0 5-1 7-1c3 0 7 2 9 0c1-1 1-9 1-9c1 0 1 8 2 9c1 2 1-1 3-1c2 0 7 0 10 0c4 1 8 3 11 3c3 0 4-2 6-2c2 0 4 1 7 1c2 0 8 0 10-1c2-1 1-5 2-6c0 0 0 3 1 4c1 1 3 1 5 2c3 0 7 1 9 1c3 1 5 1 7 0c3 0 4-1 7-2c3 0 8 0 10 0c3 0 3 1 6 2c2 0 7 0 10 0c3 0 6 1 7-1c2-1 1-5 2-6c0-1 0 1 1 3c1 1 4 4 6 5c2 2 5 3 6 1c2-1 1-11 2-12c0-1 0 5 1 7c1 2 2 5 3 5c2 1 4-2 6-3c2 0 6 2 7 1c2-1 1-9 2-9c0 0 0 5 1 7c1 2 3 5 4 3c1-1 1-11 2-12c0 0 0 7 1 9c1 2 2 4 4 4c2 1 7 1 9-1c2-3 1-12 2-13c0 0 0 7 1 9c1 2 2 6 3 4c1-1 1-12 2-13c0 0 0 8 1 11c1 2 1 4 2 3c1-2 1-11 2-11c0-1 0 6 1 7c2 2 5 2 8 3c2 0 6 4 7 2c1-2 1-14 1-15c1-1 1 5 2 8c1 2 3 5 5 6c3 1 7 0 10 0c3 0 6 0 9 0c3 0 6 1 9 1c3 0 6 0 9 0c2 0 4 0 7 0c3 0 7 1 10 1c3 0 8-1 10-1c3 0 5 0 7 0c2 0 4-2 7-2c3 0 9 2 11 0c2-1 1-8 1-8c1-1 0 3 2 5c1 1 5 3 7 4c2 0 4 0 5 0M173 1564c2 0 6 0 8-1c1-1 1-5 1-6c1 0 0 5 2 5c1 1 4 2 6 0c1-2 1-11 1-11c1 0 1 10 2 13c1 2 2 0 4 1c2 0 7-1 10-1c3 0 4-1 6-1c2 0 4 0 6 0c2 0 4-1 6-1c2 0 4 0 6 0c3 0 6 0 9 0c2 0 3 2 6 2c3 0 8 0 11 0c3-1 5-2 8-1c3 0 6 2 9 2c4 1 8-1 11-1c4 0 7 2 10 2c4 0 7-1 11-2c3 0 6-1 8-1c3 0 6 2 7 1c2-2 1-10 2-10c0 0 1 6 1 8c1 2 1 4 3 4c1 1 5 1 6 0c1-2 1-8 2-9c0 0 0 3 1 5c1 1 4 3 6 3c2 1 6 1 9 1c3 0 7 1 8-2c2-2 1-12 2-12c0 0 0 10 1 12c2 3 4 3 6 3c3 0 5-3 8-3c3 0 8 4 10 3c2-1 1-7 2-8c0-1 0 2 1 4c2 1 6 4 8 4c2 1 3-2 5-2c2-1 6 0 8 0c2 0 3 1 5 1c2 0 7 4 9 2c2-2 1-13 2-13c0-1 0 8 1 10c1 2 1 0 3 1c1 0 4 1 6 1c2 1 4 1 6 1c2 0 4 1 6 0c2 0 5-3 8-3c3-1 7 4 9 3c1-2 1-12 1-13c1 0 0 8 2 9c1 2 4 1 6 1c2 1 5 2 8 2c3 0 8-2 10-2c3 0 3 3 6 3c3 1 8 1 10 1c3-1 4-4 6-4c3 0 6 3 8 3c3 1 5 1 8 0c2 0 6-1 8-1c2 0 3 0 5 0c3 1 6 2 9 2c4 0 8 0 11 0c3-1 6-2 8-2c3 0 4 3 6 3c1-1 3-4 5-4c2 0 3 3 6 3c3 1 9-1 11-2M179 1568c0-1 1-6 1-6c1 0 1 5 2 5c1 1 3-1 4-2c1-1 1-5 1-5c1 0 1 4 2 6c1 1 5 4 6 3c1-2 1-13 1-13c1 0 0 9 2 11c1 2 5 2 7 2c2 0 4 0 6-1c2-1 4-3 7-3c3 0 6 3 9 3c3 0 6-2 9-2c4-1 8 1 11 1c4 0 7 0 11 0c3 1 5 1 8 2c3 0 6 1 10 1c3-1 7-3 10-3c3-1 8 2 10 1c2-1 1-7 1-8c1 0 1 5 2 6c1 1 3 3 4 2c1-2 1-10 2-10c0-1 0 6 1 7c1 2 2 3 4 3c2 0 4-1 7-1c2 0 6 0 8 0c2 0 5 4 6 2c2-2 1-13 2-13c0-1 0 8 1 10c1 2 4 3 6 4c2 0 4-2 7-2c2 0 6 3 8 2c2-1 1-7 2-8c0-1 0 2 1 3c1 0 4 2 7 3c2 1 5 3 8 3c3 0 7-3 10-3c3-1 5-1 7-1c2 1 5 4 6 3c2-2 1-10 2-11c0-1 0 5 1 7c1 2 4 7 5 5c1-2 1-15 2-16c0-1 0 8 1 10c2 2 5 3 8 4c3 0 8 1 10 1c3 1 5 4 6 2c1-3 1-14 1-15c1-1 1 9 2 11c1 2 4 3 7 3c3 0 7-2 11-2c3 0 6 0 9 0c3 0 5-1 8 0c3 0 8 4 10 2c2-2 1-14 2-14c0-1 0 9 1 11c1 3 4 4 6 4c3 1 6 0 10-1c3 0 7 1 9-1c2-2 1-9 2-10c0-1 1 4 1 6c1 1 2 4 2 3c1-1 1-7 2-8c0-1 0 2 1 4c2 1 4 6 7 7c3 1 7 3 9 0c2-2 1-13 2-14c0-1 0 6 1 9c1 2 1 5 3 6c2 0 6-2 8-2c3 0 4 2 6 2c2-1 5-3 7-3c2 0 3 2 5 3c3 0 8 1 11 0c2 0 3-2 5-3c3 0 7 2 11 2c3 0 8 0 10 0M180 1571c1-2 1-10 2-10c0 0 1 7 1 9c1 1 3 2 3 0c1-2 1-11 2-12c0 0 0 9 1 11c1 2 3-1 6-1c2 1 6 2 8 2c3 1 7 3 9 1c2-2 1-12 1-12c1 0 1 9 2 12c1 2 1 2 2 1c1-1 1-9 2-9c0-1 0 6 1 8c2 1 6 0 7-2c2-1 1-7 2-7c0 0 0 7 1 9c2 1 4 1 5 1c2 0 3-2 6-1c2 0 7 2 9 2c3 0 4-1 7-1c3 0 8 1 10-1c2-2 1-10 1-11c1 0 1 8 2 9c0 2 0 0 2 0c1 1 5 2 7 3c3 0 7 2 8 0c2-2 1-12 2-12c0-1 0 9 1 11c2 2 4 1 7 1c3 0 8 2 10 0c2-2 1-12 2-13c0-1 0 7 1 10c1 2 2 3 4 4c1 1 4 1 6 0c2 0 3-2 5-2c2 0 5 3 6 2c2-1 1-7 2-8c0 0 0 5 1 6c2 2 4 1 6 1c2 0 6 2 9 2c3 0 4-2 7-2c2-1 5-1 8-1c4 0 9 4 11 3c2-2 1-11 1-12c1 0 1 6 2 9c1 2 1 3 2 4c2 0 6-2 9-2c2-1 5 0 7 0c2 0 6 2 7 0c2-2 1-11 2-12c0-1 0 6 1 8c1 2 2 2 4 3c2 0 5 1 7 1c3 1 7 2 9 0c2-3 1-13 1-13c1 0 1 9 2 11c1 2 1 0 3 1c2 0 8 2 10 1c2-2 1-10 1-10c1-1 0 5 2 7c1 2 3 2 5 3c3 0 9 3 11 2c2-2 1-12 2-13c0-1 0 5 1 7c2 1 6 3 8 4c3 0 4 0 6 0c3 0 5 0 7 0c3 0 5-1 8-1c3 0 7 2 9 1c2-1 1-7 2-7c0-1 0 1 1 3c1 1 3 5 5 6c3 0 8 0 10-2c2-2 1-8 2-9c0 0 0 3 1 4c1 2 0 6 2 6c2 1 9 0 11-1c2-2 1-10 2-10c0 0 0 7 1 8c1 2 1 3 3 3c2 1 6 0 9-1c4 0 6 0 9 0c4 0 7 1 10 1c2 1 4 5 5 3c1-3 1-15 2-16c0-1 0 7 1 10c1 2 5 7 6 5c1-1 1-14 1-15c1-2 0 5 2 8c1 2 5 6 6 7M890 1567c-29 2-111 11-177 15c-65 4-173 8-216 7c-42-2-28-11-38-16c-11-5-22-12-26-15M910 1580c-12 1-46 5-73 6c-26 2-43 5-88 3c-46-2-135-12-187-16c-51-4-103-7-124-8M930 1567c-31 4-117 17-186 23c-69 5-162 12-227 9c-66-2-119-15-164-22c-46-7-91-15-110-18M950 1580c-28 1-106 5-169 7c-62 2-165 5-207 3c-41-2-30-13-42-17c-12-4-23-7-28-9M970 1567c-33 3-126 14-201 18c-74 5-195 10-246 8c-51-1-43-13-59-18c-17-6-33-12-40-14M990 1580c-16 0-63 3-100 4c-38 1-44 3-124 1c-79-2-255-10-353-14c-98-3-196-5-236-6M1011 1567c-24 3-89 13-141 17c-53 4-118 9-173 7c-54-1-111-12-154-17c-43-6-86-13-103-16M1031 1580c-19 0-71 3-112 4c-42 2-72 5-137 3c-65-2-183-11-253-15c-70-4-141-9-169-11M1051 1567c-20 3-74 16-117 21c-44 5-81 11-143 9c-63-2-168-16-232-21c-64-5-129-9-155-11M1071 1580c-33 2-125 11-198 14c-73 4-182 10-241 7c-60-3-83-16-114-23c-32-8-63-18-76-22M1091 1567c-42 2-160 10-255 14c-94 3-253 7-311 6c-59-2-28-10-39-15c-10-5-21-13-25-15M1111 1580c-29 2-111 10-176 13c-66 3-142 8-216 6c-73-3-163-16-225-22c-63-6-126-12-151-15M1131 1567c-47 3-180 14-285 18c-106 4-273 9-349 8c-77-2-81-13-111-19c-31-5-62-12-75-15M1151 1580c-36 0-136 3-217 4c-80 2-191 5-265 3c-75-3-130-12-180-15c-50-4-100-6-120-7M1171 1567c-32 2-123 10-195 13c-73 3-147 7-239 5c-92-1-225-9-312-14c-86-5-173-12-208-15M1192 1580c-40 1-149 6-236 8c-87 2-227 6-287 4c-61-3-54-13-75-18c-20-5-41-9-49-10M1212 1567c-46 4-173 17-274 23c-101 5-238 12-334 10c-97-2-176-16-244-23c-67-6-135-13-162-16M1232 1580c-64 2-243 10-385 14c-143 3-373 9-471 6c-99-3-87-16-120-23c-34-7-67-16-81-19M1252 1567c-42 3-158 17-251 22c-93 5-231 11-307 9c-77-2-109-16-150-22c-42-5-83-11-100-14M1272 1580c-41 2-154 9-245 12c-90 3-214 8-299 5c-85-2-152-14-210-21c-59-6-117-15-140-18M1292 1567c-52 3-198 15-314 19c-116 5-280 11-384 9c-104-2-173-15-240-20c-66-5-133-10-159-12M878 1600c-37-1-150-3-226-7c-75-4-188-15-225-18M812 1575c-29 3-116 15-174 18c-58 3-145 1-174 1M895 1595c-26 0-103 4-154 3c-51 0-128-3-154-4M878 1582c-45 2-181 8-272 11c-90 3-226 5-271 6M903 1599c-34-2-139-6-209-9c-70-2-174-6-209-7M963 1582c-33 2-129 15-193 16c-64 0-161-11-193-13M1056 1578c-69 2-276 12-415 15c-138 3-346 1-415 1M1186 1567c-62 6-248 30-371 33c-124 4-309-9-371-11M1284 1576c-87 3-348 18-521 17c-174-1-435-19-522-22M1223 1581c-64 2-256 13-384 14c-128 1-320-8-384-9M930 1593c-32 2-128 13-193 12c-64-1-160-15-192-18M985 1585c-34 1-134 9-201 7c-68-3-168-18-202-22M1008 1595c-65 0-259-2-388-3c-129-1-323-3-388-3M1085 1577c-49 4-196 22-295 25c-98 2-246-9-295-11M1233 1571c-74 3-295 21-443 22c-147 2-369-12-442-14M960 1598c-39-2-157-8-235-9c-79-1-196 1-235 2M1098 1575c-65 2-260 11-390 13c-130 1-325-4-390-4M1151 1578c-71 2-283 8-424 12c-141 3-353 8-423 9M594 1313c0 4 2 16 3 27c1 11 2 26 3 40c1 14 2 29 3 46c0 17 0 38 0 54c0 16-1 27-1 40c0 13 0 28 0 40c0 12-2 25-2 30M591 1339c1 1 4 3 5 6c1 3 1 6 2 15c1 9 2 25 2 40c0 15 1 33 1 50c0 17-1 32-1 50c0 18-1 50-1 60M596 1362c0 3 2 8 2 18c0 10 1 25 1 40c0 15 1 32 1 50c0 18-1 42-2 60c-1 18-2 38-2 45M597 1422a4 22 0 0 1-3-33a4 22 0 0 1 6 0a4 22 0 0 1-3 33M596 1429a3 14 0 0 1-3-21a3 14 0 0 1 6 0a3 14 0 0 1-3 21M596 1479a4 24 0 0 1-3-36a4 24 0 0 1 6 0a4 24 0 0 1-3 36M597 1479a3 14 0 0 1-3-21a3 14 0 0 1 6 0a3 14 0 0 1-3 21M592 1518a4 20 0 0 1-3-30a4 20 0 0 1 6 0a4 20 0 0 1-3 30M594 1520a3 12 0 0 1-3-18a3 12 0 0 1 6 0a3 12 0 0 1-3 18M587 1559a4 22 0 0 1-3-33a4 22 0 0 1 6 0a4 22 0 0 1-3 33M589 1559a3 14 0 0 1-3-21a3 14 0 0 1 6 0a3 14 0 0 1-3 21M574 1562a3 10 0 0 1-3-15a3 10 0 0 1 6 0a3 10 0 0 1-3 15M578 1563a2 8 0 0 1-2-12a2 8 0 0 1 4 0a2 8 0 0 1-2 12M670 1531a3 26 0 0 1-3-39a3 26 0 0 1 6 0a3 26 0 0 1-3 39M672 1535a3 15 0 0 1-3-23a3 15 0 0 1 6 0a3 15 0 0 1-3 23M666 1554a3 14 0 0 1-3-21a3 14 0 0 1 6 0a3 14 0 0 1-3 21M661 1565a2 10 0 0 1-2-15a2 10 0 0 1 4 0a2 10 0 0 1-2 15M571 1555a3 14 0 0 1-2-24a3 14 0 0 1 5 7a3 14 0 0 1-3 17l0 0a2 10 0 0 1-2-16a2 10 0 0 1 4 2a2 10 0 0 1-2 14M576 1538a3 12 0 0 1-2-18a3 12 0 0 1 6 3a3 12 0 0 1-4 15l2 0a3 8 0 0 1-3-9a3 8 0 0 1 4-5a3 8 0 0 1-1 14M578 1563a4 17 0 0 1-4-22a4 17 0 0 1 7-6a4 17 0 0 1-3 28M565 1565a3 21 0 0 1-3-30a3 21 0 0 1 6-3a3 21 0 0 1-3 33M591 1547a4 8 0 0 1-4-11a4 8 0 0 1 6-3a4 8 0 0 1-2 14l0 0a3 6 0 0 1-3-7a3 6 0 0 1 5-3a3 6 0 0 1-2 10M564 1557a4 21 0 0 1-3-31a4 21 0 0 1 7 1a4 21 0 0 1-4 30M576 1552a4 14 0 0 1-5-19a4 14 0 0 1 8-4a4 14 0 0 1-3 23l0 1a3 10 0 0 1-3-15a3 10 0 0 1 5-2a3 10 0 0 1-2 17M569 1535a4 13 0 0 1-4-19a4 13 0 0 1 8-1a4 13 0 0 1-4 20M259 1561c3-3 11-11 16-16c5-5 11-7 16-14c5-7 9-23 11-27M309 1561c1-3 3-11 5-16c2-5 5-13 6-16M271 1561a2 14 0 0 1-2-21a2 14 0 0 1 4 0a2 14 0 0 1-2 21M280 1560c2-2 8-10 10-15c2-5 4-13 5-17c1-4 2-7 2-8M807 1591c7-1 34-5 45-7c12-3 19-6 25-8c6-3 11-7 13-8M871 1592c4-1 16-5 21-8c6-3 9-6 12-9c3-3 5-8 6-9M562 1589c34-1 151-4 202-7c52-2 81-5 108-8c28-2 49-6 58-8M765 1588c17-1 76-4 102-6c26-2 40-5 54-7c14-3 24-7 29-8M827 1587c13-1 59-4 79-6c20-2 31-4 42-7c11-2 19-6 22-7M674 1591c29-1 129-4 174-7c44-3 69-6 93-8c23-3 41-8 49-9M742 1587c25-1 110-4 148-6c37-2 58-5 78-7c20-3 36-6 43-8M610 1600c39-2 172-6 231-10c60-3 92-7 123-11c32-4 56-9 67-11M699 1590c32-1 144-5 194-7c49-3 76-6 102-9c27-3 47-7 56-8M677 1600c36-2 161-6 217-10c55-3 85-7 115-11c29-4 52-9 62-11M599 1591c45-1 201-4 271-7c69-3 107-6 143-9c37-3 65-7 78-8M726 1588c35-1 158-4 212-6c54-3 84-6 112-8c29-3 51-7 61-8M609 1591c48-2 214-5 287-8c74-2 114-5 153-8c39-3 68-7 82-9M742 1595c38-2 168-5 225-8c58-3 89-7 120-10c31-3 54-8 64-9M706 1595c43-1 191-5 256-8c65-3 101-7 136-10c35-3 61-8 73-10M739 1598c41-2 185-6 249-10c63-3 98-7 132-11c34-4 60-9 72-11M601 1599c56-2 250-6 336-10c85-3 133-7 178-11c46-4 81-10 97-11M668 1588c52-1 231-4 310-6c79-3 123-5 165-8c42-2 74-5 89-7M723 1590c49-1 217-5 291-7c74-3 115-6 155-8c39-3 69-7 83-8M751 1597c48-1 213-5 287-9c73-3 113-7 152-10c39-4 68-9 82-10M879 1595c38-1 169-5 227-9c58-3 90-6 121-9c31-4 54-9 65-10M726 1598c53-2 240-6 322-9c83-4 128-8 172-11c44-4 77-9 92-11M887 1599c33-1 147-4 198-6c50-2 78-5 105-7c27-2 48-5 57-6M750 1603c47-2 212-5 284-7c73-3 113-6 152-8c38-3 67-7 81-8M902 1604c35-1 157-5 212-7c54-3 83-6 112-9c29-3 51-7 61-8M822 1594c44 0 199-2 267-4c68-2 105-4 142-5c36-2 63-5 76-5M716 1596c40-1 178-3 239-5c61-2 94-4 127-6c32-2 57-5 68-5M850 1595c30-1 135-3 182-5c46-1 71-3 96-5c25-2 43-5 52-5M917 1594c27 0 120-3 161-4c41-2 64-4 86-5c22-2 38-5 46-5" stroke="#c4c4c4" stroke-width="1.0"/>
<path d="M226 1553c0 2 1 13 2 13c1 0 1-11 2-11c1 0 1 13 2 13c1 0 1-12 2-12c1 0 1 11 2 11c1 0 1-9 2-9c1 0 2 6 2 7c0 1-1-2 1-3c1-1 3-2 8-1c5 1 13 4 21 6c8 2 20 6 28 8c8 2 14 1 21 2c7 1 7 1 21 2c14 1 44 4 60 4c16 0 18-2 33-2c15 0 41 2 56 3c15 1 17 0 36 1c19 1 46 2 75 3c29 1 67 1 100 2c33 1 67 1 100 2c33 1 67 2 100 3c33 1 66 3 100 2c34-1 87-4 104-5" stroke="#4DBEEE" stroke-width="2.8"/>
<path d="M219 1564c-1 2-4 12-4 14c0 2 3-3 6-3c3 0 11 1 14 1c3 0 5-1 7 0c2 1 4 4 7 6c3 2 7 5 10 6c3 1 6 1 11 1c5 0 13-2 17-3c4-1 3 4 5-1c2-5 4-19 6-31c2-12 4-30 6-42c1-12 4-24 4-31c0-7-4-1-4-8c-1-7-1-24-1-31c0-7 2-13 3-13c1 0 2 6 3 13c1 7 0 22 0 28c0 6 1 10 2 11c1 1 3-3 4-8c1-5 3-17 3-20" stroke="#77AC30" stroke-width="2.8"/>
<path d="M242 1576c4 1 13 4 21 6c8 2 20 3 28 4c8 1 3 1 21 2c18 1 52 2 88 2c36 0 92 0 125 0c33 0 46 0 75 0c29 0 67-1 100-2c33-1 70-2 100-3c30-1 47-2 80-2c33-1 83-2 120-3c37-1 67-2 100-4c33-2 75-4 100-6c25-2 43-3 52-3" stroke="#77AC30" stroke-width="2.8"/>
<path d="M228 1586c5 0 16 2 28 3c12 1 28 2 42 3c14 1 25 2 42 2c17 1 29 2 60 3c31 1 92 1 125 2c33 1 46 1 75 1c29 0 67 1 100 1c33 0 67 1 100 1c33 0 67 1 100 1c33 0 83 1 100 1" stroke="#7E2F8E" stroke-width="2.8"/>
<path d="M230 1588c2 0 3 1 12 2c9 1 26 4 42 5c16 1 37 1 56 2c19 1 29 0 60 1c31 1 75 2 125 3c50 1 113 2 175 3c62 1 150 2 200 2c50 0 83 1 100 1" stroke="#7E2F8E" stroke-width="2.8"/>
<path d="M528 1563c0-1 2-5 3-5c1 0 2 7 3 7c1 0 2-8 3-8c1 0 2 6 3 6c1 0-1-4 2-4c3 0 7 1 14 3c7 2 19 6 28 8c9 2 19 4 28 6c9 2 14 3 28 4c14 1 37 3 56 4c19 1 39 2 56 3c17 1 27 1 48 2c21 1 47 3 80 2c33-1 83-4 120-5c37-1 62-2 100-3c38-1 107-3 128-3" stroke="#7E2F8E" stroke-width="2.8"/>
<path d="M724 1571c1 1 3 6 4 9c1 3 0 5 2 7c2 2 3 5 11 4c8-1 16-5 39-7c23-2 70-2 100-3c30-1 52-4 80-6c28-2 76-7 91-8" stroke="#7E2F8E" stroke-width="2.8"/>
<path d="M316 1575c1-1 4-3 6-3c2 0 4 3 6 3c2 0 3 1 5-2c2-3 5-16 7-16c2 0 2 10 3 15c1 5 3 10 5 13c2 3 4 7 6 8c2 1 6-1 8-4c2-3 4-9 6-13c2-4 7-8 8-9" stroke="#D95319" stroke-width="2.8"/>
<path d="M333 1574c3 1 13 4 21 5c8 1 20 3 28 4c8 1-6 2 18 3c24 1 92 4 125 5c33 1 46 2 75 3c29 1 67 3 100 4c33 1 67 1 100 2c33 1 67 2 100 3c33 1 58 1 100 1c42 0 112 1 150 1c38-1 62-3 80-4c18-1 21-2 29-2c8 0 14 1 18 2c4 1 5 2 6 3" stroke="#D95319" stroke-width="2.8"/>
<path d="M528 1585c4 0 15-3 22-1c7 2 10 9 20 11c10 2 29 1 42 2c13 1 23 2 38 3c15 1 25 2 50 3c25 1 67 1 100 2c33 1 83 1 100 1" stroke="#D95319" stroke-width="2.8"/>
<path d="M332 1547c0 3-1 15 0 21c1 6 3 10 5 14c2 4 4 8 6 10c2 2 6 2 7 3" stroke="#EDB120" stroke-width="2.8"/>
<path d="M327 1560c3 0 13-1 20 0c7 1 12 3 21 5c9 2 21 7 32 9c11 2 12 2 33 4c21 2 64 4 92 6c28 2 46 3 75 4c29 1 67 3 100 4c33 1 67 2 100 3c33 1 67 2 100 2c33 0 67-1 100-1c33 0 66-1 100-2c34-1 86-1 104-1" stroke="#EDB120" stroke-width="2.8"/>
<path d="M522 1572c1 0 6 3 8 3c2 0 4-5 7-5c3 0 5 8 8 8c3 0 5-6 7-5c2 1-1 6 7 8c8 2 17 2 41 3c24 1 70 2 100 2c30 0 55-2 80-5c25-3 58-12 70-14" stroke="#EDB120" stroke-width="2.8"/>
<path d="M324 1605c13 0 42 1 76 1c34 0 92 0 125 0c33 0 46 1 75 1c29 0 67 0 100 0c33 0 67 0 100 0c33 0 83 0 100 0" stroke="#EDB120" stroke-width="2.8"/>
<path d="M328 1586c2 0 5 1 12 2c7 1 18 3 28 4c10 1 6 0 32 1c26 1 92 4 125 5c33 1 46 1 75 2c29 1 67 1 100 2c33 1 67 1 100 2c33 1 83 2 100 2" stroke="#0072BD" stroke-width="2.8"/>
<path d="M354 1595c8 0 18 1 46 2c28 1 75 2 125 3c50 1 113 3 175 4c62 1 150 2 200 3c50 1 83 1 100 1" stroke="#0072BD" stroke-width="2.8"/>
<path d="M632 1587c0-4-3-19-3-23c0-4 3-3 5-4c2-1 5 0 9-1c4-1 12-6 14-7" stroke="#0072BD" stroke-width="2.8"/>
<path d="M651 1560c5 1 19 4 31 7c12 3 26 8 42 10c16 2 30 3 56 4c26 1 63 3 100 2c37-1 83-3 120-5c37-2 75-4 100-6c25-2 43-4 52-5" stroke="#0072BD" stroke-width="2.8"/>
<path d="M670 1438c1 5 3 19 3 30c0 11 0 23-1 35c0 12-3 25-4 35c-1 10-2 15-3 22c-1 7-2 15-3 21c-1 6-3 15-5 17c-2 2-7-5-9-6c-2-1-3-3-5-2c-2 1-6 8-9 8c-3 0-6-1-8-6c-2-5-5-19-3-22c2-3 5 4 17 6c12 2 33 3 56 5c23 2 53 4 84 6c31 2 63 5 100 5c37 0 79 0 120-2c41-2 106-8 128-10" stroke="#A2142F" stroke-width="2.8"/>
<path d="M429 1560c3 0 11-2 21 0c10 2 26 8 39 11c13 3 17 5 36 6c19 1 46 2 75 3c29 1 67 3 100 5c33 2 70 3 100 5c30 2 62 4 80 5c18 1 22 1 28 1c6 0 5-4 8-3c3 1 6 7 9 6c3-1 7-7 11-9c4-2 8-3 11-2c3 1 4 8 7 6c3-2 7-10 10-18c3-8 5-22 6-28c0-6-2-8-3-7c-1 1-1 10-2 12" stroke="#A2142F" stroke-width="2.8"/>
<path d="M800 1584c13-1 55-3 80-6c25-3 58-10 70-11" stroke="#A2142F" stroke-width="2.8"/>
<path d="M425 1605c17 0 54 1 100 1c46 0 113 1 175 1c62 0 150-1 200-2c50-1 58-2 100-3c42-1 113-2 150-3c37-1 47-1 73-2c26-1 68-3 82-4" stroke="#A2142F" stroke-width="2.8"/>
<path d="M827 1585c1-1 5-3 8-3c3 0 5 4 8 4c3 0 5-4 8-4c3 0 5 4 8 4c3 0 7-2 8-2" stroke="#A2142F" stroke-width="2.8"/>
<path d="M730 1566c3-2 10-8 16-9c6-1 10 2 20 5c10 3 26 8 42 11c16 3 41 6 56 8c15 2 30 2 36 2" stroke="#77AC30" stroke-width="2.8"/>
<path d="M724 1573l25-6" stroke="#4DBEEE" stroke-width="2.8"/>
<path d="M419 1576c2-1 8-4 11-5c3-1 3-4 6-3c3 1 10 5 14 7c4 2 9 4 11 5" stroke="#4DBEEE" stroke-width="2.8"/>
<path d="M500 1605c33 0 133 0 200 0c67 0 125 0 200 0c75 0 187 2 250 2c63 0 93-2 127-2c34-1 63-1 75-1" stroke="#4DBEEE" stroke-width="2.8"/>
<path d="M1000 1600c25 0 104 2 150 2c46 0 106 1 127 1" stroke="#4DBEEE" stroke-width="2.8"/>
<path d="M394 1581c1-1 3-3 6-3c3 0 7-1 10 0c3 1 8 3 10 4" stroke="#7E2F8E" stroke-width="2.8"/>
<path d="M480 1579c2 0 7-2 10-2c3 0 8 3 10 3" stroke="#0072BD" stroke-width="2.8"/>
<path d="M504 1595c6 1 27 3 40 3c14 1 26-2 39-2c14 0 30 1 42 2c12 0 18 1 30 1c12-1 28-2 40-3c13-1 26-1 36-1c10 0 16 0 27 0c12 1 28 1 42 2c13 0 25 2 37 2c11-1 20-4 30-4c10 0 20 4 31 4c10 0 21-4 31-4c10 0 21 1 26 1c6 1 5 0 6 0" stroke="#4DBEEE" stroke-width="2.6"/>
<path d="M475 1610c5 0 19-1 30-1c11 0 24 0 36 0c11 0 24 1 34 1c10 0 15-1 26-1c11 0 26 1 40 1c13 0 30-1 42-1c12 0 21 1 32 1c12 0 26 0 37 0c10 0 16 0 27 0c11 0 28 0 40 0c11 0 18 0 30 0c12 0 30-1 42-1c11 0 18 1 27 1c10 0 16-2 29-2c12 0 30 1 44 2c15 0 36 0 45 0c9 0 7-1 9-1" stroke="#0072BD" stroke-width="2.6"/>
<path d="M472 1594c7 1 29 3 43 3c14 0 30-2 42-2c12 0 21 1 30 1c9 0 14-2 26-2c11 1 30 4 43 4c13 0 21-3 32-3c12-1 25 2 38 2c12 0 24-1 36-1c12 0 27 1 38 0c12 0 20-1 31-1c11 0 21 1 35 1c13-1 33-2 44-2c12 0 16 1 26 2c10 0 29 1 34 1" stroke="#7E2F8E" stroke-width="2.6"/>
<path d="M349 1608c5 0 19-1 30-1c11 1 24 2 35 2c10 0 18 0 29 0c11-1 23-2 36-2c12 0 26 0 38 0c12 0 23 0 34 0c10 1 16 2 28 2c11 0 29 0 41 0c11-1 16-2 27-2c12 0 31 2 43 2c12 0 21-1 30-1c10 0 19 1 28 1c9 0 16 1 25 1c9-1 17-2 29-2c12-1 32-1 45-1c12 0 20 2 31 2c12 1 25 1 38 1c13 0 28-1 41-2c14 0 27-1 41-1c13 1 30 2 41 3c11 0 15 0 25 0c10-1 22-3 32-3c10 0 16 0 28 1c11 0 28 2 41 2c13 0 26-2 38-2c11 0 21-1 30-1c10 0 16 1 27 1c10 1 31 1 38 2c6 0 1 0 1 0" stroke="#A2142F" stroke-width="2.6"/>
<path d="M434 1605c7-1 30-2 41-3c11 0 15 1 25 1c10 0 23 0 33 1c10 0 16 1 27 1c10 0 24-1 37-2c14 0 31 0 43 0c12 0 21 3 32 3c10 0 20-3 30-3c9-1 15 0 26 0c10 1 24 0 37 0c12 1 24 1 36 2c12 0 23 1 36 1c13 0 26-4 40-4c14 0 29 2 43 3c14 0 27 1 41 0c13 0 29-2 42-2c12 0 21 1 33 2c11 0 24 0 35 0c12 0 23 0 34 0c11-1 21-2 32-2c12 0 28 1 38 1c10 0 19 0 23 0" stroke="#EDB120" stroke-width="2.6"/>
<path d="M397 1600c4 0 17 0 28 0c11-1 24 0 38 0c13-1 28-1 40-1c13 0 24 1 35 1c11 0 19 0 31 0c13 0 32 2 43 2c12 0 17 0 28-1c10 0 26-1 37-1c11 0 19-1 29-1c11 0 21-1 34 0c13 0 28 3 43 3c14 0 32-4 44-4c12 0 18 4 28 4c11 0 24-3 37-3c13 0 26 1 39 1c14 1 28 2 40 2c11-1 20-3 30-3c10 0 25 2 30 3" stroke="#77AC30" stroke-width="2.6"/>
<path d="M427 1600c7 0 31 2 43 2c12 0 18-2 29-2c10 0 21 3 33 3c13 1 28 0 42 0c14 0 32 0 44 0c13-1 20-2 31-2c11 0 25 0 36 1c11 0 20 2 29 2c10 0 18-3 27-3c9-1 17 1 29 1c11 0 28-1 39-1c12 0 17 2 29 2c12 0 29-1 43-1c15 0 31 0 44 0c12 0 23-1 34-1c11 0 18 0 30 0c12 1 29 1 43 2c14 0 26 1 40 0c14 0 30-1 42-2c12 0 24-1 29-1c5 0 1 0 1 1" stroke="#D95319" stroke-width="2.6"/>
<path d="M476 1598c5 0 19-1 31-1c13-1 31-2 42-2c12 0 18 0 30 1c12 0 29 2 42 2c12 0 21-3 34-3c12 0 28 0 41 1c13 0 24 2 37 2c13 1 28-1 41-1c13 0 25 0 37 0c12 0 23-1 36-1c12 1 28 2 39 2c11 0 15-2 25-3c11 0 26 3 39 3c12 0 25-2 36-2c11 0 20 1 30 1c9 0 15-1 26-1c11-1 28 1 41 1c13 0 27-2 37-2c11 0 18 3 27 3c9 0 16-1 27-1c11-1 27-1 37-1c10 0 19 1 22 1" stroke="#0072BD" stroke-width="2.6"/>
</g>
<path d="M221.1 1613.4V1600.6M221.1 1272.3V1285.1M380.7 1613.4V1600.6M380.7 1272.3V1285.1M540.4 1613.4V1600.6M540.4 1272.3V1285.1M700.0 1613.4V1600.6M700.0 1272.3V1285.1M859.7 1613.4V1600.6M859.7 1272.3V1285.1M1019.3 1613.4V1600.6M1019.3 1272.3V1285.1M1179.0 1613.4V1600.6M1179.0 1272.3V1285.1M1338.6 1613.4V1600.6M1338.6 1272.3V1285.1M125.3 1613.4H138.1M1402.5 1613.4H1389.7M125.3 1491.6H138.1M1402.5 1491.6H1389.7M125.3 1369.8H138.1M1402.5 1369.8H1389.7" stroke="#606060" stroke-width="1.1" fill="none"/>
<rect x="125.3" y="1272.3" width="1277.2" height="341.1" stroke="#707070" stroke-width="1.2" fill="none"/>
<g font-family="Liberation Sans, Arial, sans-serif" font-size="44" fill="#2b2b2b"><text x="221.1" y="1665.6" text-anchor="middle">5</text><text x="380.7" y="1665.6" text-anchor="middle">5.5</text><text x="540.4" y="1665.6" text-anchor="middle">6</text><text x="700.0" y="1665.6" text-anchor="middle">6.5</text><text x="859.7" y="1665.6" text-anchor="middle">7</text><text x="1019.3" y="1665.6" text-anchor="middle">7.5</text><text x="1179.0" y="1665.6" text-anchor="middle">8</text><text x="1338.6" y="1665.6" text-anchor="middle">8.5</text><text x="113.7" y="1629.2" text-anchor="end">0</text><text x="113.7" y="1507.4" text-anchor="end">5</text><text x="113.7" y="1385.6" text-anchor="end">10</text></g>
<text x="21" y="1232.2" font-family="Liberation Sans, Arial, sans-serif" font-weight="bold" font-size="30.5" fill="#0a0a0a">C</text>
<g font-family="Liberation Serif, serif" fill="#2b2b2b"><text transform="translate(719.9,1713.4) scale(1.1,1)" font-style="italic" font-size="47">x</text><text transform="translate(748.0,1724.3) scale(1.3,1.47)" font-size="47">/</text><text x="769.7" y="1713.4" font-style="italic" font-size="48.5">H</text></g>
<g transform="translate(47,1442.8) rotate(-90)" font-family="Liberation Serif, serif" fill="#2b2b2b"><text x="-31" y="0" font-style="italic" font-size="47">z</text><text transform="translate(-8.3,10.9) scale(1.3,1.47)" font-size="47">/</text><text x="12.6" y="0" font-style="italic" font-size="45">δ</text></g>
<path d="M309.9 1870.1V2211.7M506.4 1870.1V2211.7M702.9 1870.1V2211.7M899.4 1870.1V2211.7M1095.9 1870.1V2211.7M1292.4 1870.1V2211.7M113.4 2097.8H1390.7M113.4 1984.0H1390.7" stroke="#ebebeb" stroke-width="1" fill="none"/>
<clipPath id="clipD"><rect x="113.4" y="1870.1" width="1277.3" height="341.5999999999999"/></clipPath>
<g clip-path="url(#clipD)" fill="none" stroke-linejoin="round" stroke-linecap="round">
<path d="M422 1944c2 5 10 20 10 32c0 12-4 29-11 42c-7 13-16 27-28 36c-12 9-28 14-42 19c-14 5-26 5-42 9c-16 4-37 12-56 14c-19 2-37 1-56-2c-19-3-47-10-59-14c-12-4-9-11-11-13M422 1968c-2 4-7 17-12 27c-5 10-10 24-17 31c-7 7-19 11-28 13c-9 2-19-2-28-1c-9 1-19 2-28 5c-9 3-16 10-28 14c-12 4-26 9-42 11c-16 2-39 3-56 0c-17-3-40-18-48-16c-8 2-2 14-1 25c1 11 4 25 7 39c3 14 9 35 11 42M138 2080c3 5 12 23 17 30c5 7 10 6 14 12c4 6 7 18 8 22M880 2173c28-1 126-1 168-6c42-5 67-13 84-25c17-12 16-40 20-48M880 2156c23-1 100-1 140-6c40-5 76-12 98-22c22-10 28-30 34-36M880 2178c37-3 173-10 224-17c51-7 66-17 84-27c18-10 21-26 25-31c4-5 1 4-3 3c-4-1-14-6-18-9c-4-3-2-7-3-9M880 2190c42 0 202 1 252-3c50-4 42-17 50-20M1093 2072c5 1 23 1 33 5c10 4 21 14 25 17M1096 2184c-1-5-7-19-3-28c4-9 20-22 25-28c5-6 6-7 7-8M1112 2154a4 14 0 0 1-3-21a4 14 0 0 1 6 0a4 14 0 0 1-3 21M1243 2052c0 1 4 0 2 8c-2 7-11 23-14 36c-3 13-2 32-1 40c0 8 4 0 6 9c1 9 2 34 3 42c0 8-3 3-2 5c1 2 6 4 8 6c2 2 4 8 6 9c2 1 5-3 7-3c2 0 4 3 6 3c2 0 8-1 9-1M1243 2059a2 4 0 0 1-1-6a2 4 0 0 1 2 0a2 4 0 0 1-1 6M1229 2098a2 5 0 0 1-2-8a2 5 0 0 1 4 0a2 5 0 0 1-2 8M1180 2144c3-3 12-13 18-20c6-7 12-18 15-21M1210 2206c8-1 32-2 45-4c13-1 26-4 36-6c10-3 17-6 24-10c7-4 11-13 15-17c4-4 6-5 10-5c3 0 7 5 10 8c3 3 5 7 6 11c1 4 0 10-2 13c0 4-2 6-4 6c-2 0-5 2-6-6c-1-7-2-30-2-36M1100 2075c7-7 32-35 40-45c8-10 5-12 6-14M855 2083c3 1 8 6 15 7c7 1 22-2 27-2M860 2100c3 2 14 7 20 10c6 3 14 5 17 6M480 2090c-2 5-5 22-10 30c-5 8-17 17-20 20M500 2130c7-1 25-2 40-5c15-3 42-13 50-15M149 2173a7 15 0 0 1-7-19a7 15 0 0 1 11-5a7 15 0 0 1-4 24M158 2186a4 9 0 0 1-4-13a4 9 0 0 1 7-1a4 9 0 0 1-3 14l-1 0a3 7 0 0 1-2-10a3 7 0 0 1 5 1a3 7 0 0 1-3 9M143 2183a4 9 0 0 1-3-14a4 9 0 0 1 7 1a4 9 0 0 1-4 13M140 2193a5 12 0 0 1-5-17a5 12 0 0 1 9-1a5 12 0 0 1-4 18l-1 0a4 8 0 0 1-2-15a4 8 0 0 1 7 5a4 8 0 0 1-5 10M135 2162a5 11 0 0 1-4-18a5 11 0 0 1 9 3a5 11 0 0 1-5 15l0 0a4 8 0 0 1-2-13a4 8 0 0 1 6 2a4 8 0 0 1-4 11l1 0a2 5 0 0 1-1-8a2 5 0 0 1 3 2a2 5 0 0 1-2 6M172 2180a6 12 0 0 1-5-19a6 12 0 0 1 10 0a6 12 0 0 1-5 19l1 0a4 9 0 0 1-3-15a4 9 0 0 1 7 3a4 9 0 0 1-4 12l2 0a2 5 0 0 1-2-9a2 5 0 0 1 4 1a2 5 0 0 1-2 8M181 2172a5 17 0 0 1-4-26a5 17 0 0 1 9 2a5 17 0 0 1-5 24M157 2183a5 11 0 0 1-5-16a5 11 0 0 1 9-2a5 11 0 0 1-4 18l1 0a4 8 0 0 1-3-13a4 8 0 0 1 6 1a4 8 0 0 1-3 12M126 2186a4 13 0 0 1-1-22a4 13 0 0 1 7 6a4 13 0 0 1-6 16M169 2196a4 8 0 0 1-5-9a4 8 0 0 1 6-5a4 8 0 0 1-1 14M196 2173a7 16 0 0 1-2-28a7 16 0 0 1 11 9a7 16 0 0 1-9 19M197 2193a4 9 0 0 1-2-14a4 9 0 0 1 6 3a4 9 0 0 1-4 11l-1 1a3 6 0 0 1-2-10a3 6 0 0 1 5 0a3 6 0 0 1-3 10l1 0a2 4 0 0 1-2-6a2 4 0 0 1 3-1a2 4 0 0 1-1 7M234 2166a6 13 0 0 1-7-16a6 13 0 0 1 9-6a6 13 0 0 1-2 22M209 2169a7 16 0 0 1-8-21a7 16 0 0 1 12-4a7 16 0 0 1-4 25l-2 0a5 11 0 0 1-3-19a5 11 0 0 1 9 5a5 11 0 0 1-6 14l-1 0a3 7 0 0 1-2-11a3 7 0 0 1 5 2a3 7 0 0 1-3 9M214 2172a4 9 0 0 1-3-13a4 9 0 0 1 7 0a4 9 0 0 1-4 13M192 2176a6 19 0 0 1-7-24a6 19 0 0 1 10-8a6 19 0 0 1-3 32l-4 0a4 14 0 0 1-2-24a4 14 0 0 1 7 7a4 14 0 0 1-5 17M205 2180a7 16 0 0 1-5-26a7 16 0 0 1 12 5a7 16 0 0 1-7 21l1 0a5 11 0 0 1-4-17a5 11 0 0 1 9 0a5 11 0 0 1-5 17l-2 0a3 7 0 0 1-2-11a3 7 0 0 1 5 1a3 7 0 0 1-3 10M225 2177a4 8 0 0 1-4-10a4 8 0 0 1 6-3a4 8 0 0 1-2 13M214 2178a4 9 0 0 1-4-12a4 9 0 0 1 7-2a4 9 0 0 1-3 14M333 2197a4 17 0 0 1-3-26a4 17 0 0 1 7 1a4 17 0 0 1-4 25l1 0a3 12 0 0 1-1-21a3 12 0 0 1 5 7a3 12 0 0 1-4 14l1 0a2 7 0 0 1-2-10a2 7 0 0 1 3-2a2 7 0 0 1-1 12M331 2179a3 8 0 0 1-1-14a3 8 0 0 1 4 3a3 8 0 0 1-3 11M350 2198a3 8 0 0 1-4-10a3 8 0 0 1 6-2a3 8 0 0 1-2 12l-1 0a2 6 0 0 1-2-7a2 6 0 0 1 4-2a2 6 0 0 1-2 9M337 2193a4 11 0 0 1-5-15a4 11 0 0 1 8-3a4 11 0 0 1-3 18M349 2187a3 12 0 0 1-2-18a3 12 0 0 1 5 0a3 12 0 0 1-3 18l0 0a2 9 0 0 1-2-12a2 9 0 0 1 4-1a2 9 0 0 1-2 13l2 0a1 5 0 0 1-1-7a1 5 0 0 1 2-1a1 5 0 0 1-1 8M335 2196a3 16 0 0 1-3-22a3 16 0 0 1 6-3a3 16 0 0 1-3 25M341 2189a4 10 0 0 1-6-11a4 10 0 0 1 7-6a4 10 0 0 1-1 17l0 0a3 7 0 0 1-4-9a3 7 0 0 1 6-2a3 7 0 0 1-2 11l-4 1a2 4 0 0 1-1-7a2 4 0 0 1 3 1a2 4 0 0 1-2 6M343 2197a4 10 0 0 1-1-17a4 10 0 0 1 6 5a4 10 0 0 1-5 12l2 0a3 7 0 0 1-3-8a3 7 0 0 1 4-4a3 7 0 0 1-1 12M678 2158a5 11 0 0 1-6-14a5 11 0 0 1 9-5a5 11 0 0 1-3 19M711 2124a7 15 0 0 1-7-22a7 15 0 0 1 12-1a7 15 0 0 1-5 23l-1 0a5 11 0 0 1-6-14a5 11 0 0 1 9-4a5 11 0 0 1-3 18M669 2112a4 9 0 0 1-3-14a4 9 0 0 1 7 1a4 9 0 0 1-4 13l1 0a3 7 0 0 1-2-9a3 7 0 0 1 5-1a3 7 0 0 1-3 10l2 0a2 4 0 0 1-2-5a2 4 0 0 1 4-1a2 4 0 0 1-2 6M679 2132a6 20 0 0 1-3-33a6 20 0 0 1 10 8a6 20 0 0 1-7 25M697 2144a4 9 0 0 1-3-14a4 9 0 0 1 7 1a4 9 0 0 1-4 13M689 2163a5 18 0 0 1-1-30a5 18 0 0 1 8 10a5 18 0 0 1-7 20l2 0a4 13 0 0 1-4-15a4 13 0 0 1 6-6a4 13 0 0 1-2 21l-1 1a2 8 0 0 1-1-12a2 8 0 0 1 3 1a2 8 0 0 1-2 11M708 2160a3 10 0 0 1-2-16a3 10 0 0 1 6 4a3 10 0 0 1-4 12l2 0a3 7 0 0 1-3-8a3 7 0 0 1 4-4a3 7 0 0 1-1 12M695 2134a3 18 0 0 1-3-26a3 18 0 0 1 6-1a3 18 0 0 1-3 27M675 2155a4 14 0 0 1-3-19a4 14 0 0 1 7-2a4 14 0 0 1-4 21l1 0a3 10 0 0 1-4-12a3 10 0 0 1 5-5a3 10 0 0 1-1 17M603 2154a5 16 0 0 1-4-23a5 16 0 0 1 8-1a5 16 0 0 1-4 24M610 2141a3 15 0 0 1-4-20a3 15 0 0 1 6-4a3 15 0 0 1-2 24M615 2157a5 19 0 0 1-6-25a5 19 0 0 1 9-6a5 19 0 0 1-3 31M628 2143a4 16 0 0 1-4-24a4 16 0 0 1 8-1a4 16 0 0 1-4 25M607 2157a5 19 0 0 1-2-32a5 19 0 0 1 9 8a5 19 0 0 1-7 24M903 2135a6 24 0 0 1-3-40a6 24 0 0 1 10 12a6 24 0 0 1-7 28l2 1a4 17 0 0 1-4-24a4 17 0 0 1 7-2a4 17 0 0 1-3 26M906 2112a3 14 0 0 1-3-22a3 14 0 0 1 6 1a3 14 0 0 1-3 21M904 2188a6 21 0 0 1-2-35a6 21 0 0 1 10 11a6 21 0 0 1-8 24l2 1a4 15 0 0 1-5-19a4 15 0 0 1 7-6a4 15 0 0 1-2 25M905 2174a5 19 0 0 1-5-26a5 19 0 0 1 9-4a5 19 0 0 1-4 30l0 0a4 14 0 0 1-2-22a4 14 0 0 1 6 4a4 14 0 0 1-4 18l-3 0a2 8 0 0 1-3-10a2 8 0 0 1 4-4a2 8 0 0 1-1 14M917 2131a4 19 0 0 1-5-24a4 19 0 0 1 7-7a4 19 0 0 1-2 31M900 2117a5 15 0 0 1-2-26a5 15 0 0 1 9 8a5 15 0 0 1-7 18l0 0a4 11 0 0 1-2-19a4 11 0 0 1 6 6a4 11 0 0 1-4 13M904 2130a6 16 0 0 1-6-22a6 16 0 0 1 10-2a6 16 0 0 1-4 24l2 0a4 11 0 0 1-6-13a4 11 0 0 1 7-6a4 11 0 0 1-1 19M359 2181a4 8 0 0 1-3-12a4 8 0 0 1 7 1a4 8 0 0 1-4 11l1 0a3 6 0 0 1-3-7a3 6 0 0 1 4-3a3 6 0 0 1-1 10l0 0a2 4 0 0 1-2-5a2 4 0 0 1 3 0a2 4 0 0 1-1 5M382 2194a5 11 0 0 1-5-15a5 11 0 0 1 8-2a5 11 0 0 1-3 17l-2-1a3 8 0 0 1-1-13a3 8 0 0 1 6 5a3 8 0 0 1-5 8l0 0a2 5 0 0 1-3-5a2 5 0 0 1 4-2a2 5 0 0 1-1 7M659 2170a2 4 0 0 1-1-7a2 4 0 0 1 4 2a2 4 0 0 1-3 5M674 2205a3 6 0 0 1-1-10a3 6 0 0 1 4 3a3 6 0 0 1-3 7l0 0a2 4 0 0 1-3-5a2 4 0 0 1 4-2a2 4 0 0 1-1 7l0 0a1 2 0 0 1-1-4a1 2 0 0 1 2 1a1 2 0 0 1-1 3M846 2185a4 12 0 0 1-2-20a4 12 0 0 1 7 6a4 12 0 0 1-5 14l1 0a3 8 0 0 1-4-10a3 8 0 0 1 5-5a3 8 0 0 1-1 15l-1 0a2 5 0 0 1-1-9a2 5 0 0 1 3 3a2 5 0 0 1-2 6M654 2182a3 7 0 0 1-2-11a3 7 0 0 1 6 2a3 7 0 0 1-4 9l0 1a2 5 0 0 1-2-9a2 5 0 0 1 4 1a2 5 0 0 1-2 8l0 0a1 3 0 0 1-2-5a1 3 0 0 1 3-1a1 3 0 0 1-1 6M323 2190a2 4 0 0 1-1-7a2 4 0 0 1 3 1a2 4 0 0 1-2 6l-1 0a1 3 0 0 1-1-5a1 3 0 0 1 2 0a1 3 0 0 1-1 5l1 0a1 2 0 0 1-1-3a1 2 0 0 1 1-1a1 2 0 0 1 0 4M213 2202a2 5 0 0 1-1-8a2 5 0 0 1 4 2a2 5 0 0 1-3 6l0 0a2 3 0 0 1 0-6a2 3 0 0 1 2 1a2 3 0 0 1-2 5l2 0a1 2 0 0 1-1-3a1 2 0 0 1 2-1a1 2 0 0 1-1 4M168 2171a5 10 0 0 1-2-18a5 10 0 0 1 8 6a5 10 0 0 1-6 12M795 2198a4 9 0 0 1-5-11a4 9 0 0 1 7-3a4 9 0 0 1-2 14l-2 0a3 6 0 0 1-2-9a3 6 0 0 1 5 0a3 6 0 0 1-3 9M853 2188a2 5 0 0 1 0-9a2 5 0 0 1 3 3a2 5 0 0 1-3 6l2 0a2 4 0 0 1-2-4a2 4 0 0 1 3-2a2 4 0 0 1-1 6M193 2172a5 11 0 0 1-2-18a5 11 0 0 1 8 5a5 11 0 0 1-6 13M601 2203a4 9 0 0 1-3-15a4 9 0 0 1 7 3a4 9 0 0 1-4 12l2 0a3 7 0 0 1-3-9a3 7 0 0 1 5-2a3 7 0 0 1-2 11M248 2195a4 9 0 0 1-5-12a4 9 0 0 1 7-3a4 9 0 0 1-2 15l0 0a3 6 0 0 1-4-7a3 6 0 0 1 5-4a3 6 0 0 1-1 11l-2 0a2 4 0 0 1-2-5a2 4 0 0 1 3-1a2 4 0 0 1-1 6M304 2189a4 8 0 0 1-2-13a4 8 0 0 1 6 2a4 8 0 0 1-4 11M455 2201a4 9 0 0 1-3-13a4 9 0 0 1 7 1a4 9 0 0 1-4 12l1 0a3 6 0 0 1-3-9a3 6 0 0 1 5 0a3 6 0 0 1-2 9l-3 0a2 4 0 0 1-2-5a2 4 0 0 1 3-1a2 4 0 0 1-1 6M773 2195a3 7 0 0 1-3-11a3 7 0 0 1 5 0a3 7 0 0 1-2 11l0 0a2 5 0 0 1-2-8a2 5 0 0 1 4 0a2 5 0 0 1-2 8M788 2198a5 11 0 0 1-2-18a5 11 0 0 1 8 4a5 11 0 0 1-6 14M248 2191a4 8 0 0 1-1-14a4 8 0 0 1 6 4a4 8 0 0 1-5 10M602 2189a5 11 0 0 1-3-18a5 11 0 0 1 9 3a5 11 0 0 1-6 15l1-1a4 8 0 0 1-1-13a4 8 0 0 1 5 4a4 8 0 0 1-4 9M513 2192a2 5 0 0 1-2-7a2 5 0 0 1 4-1a2 5 0 0 1-2 8l1 0a2 3 0 0 1-1-5a2 3 0 0 1 2-1a2 3 0 0 1-1 6l-3 0a1 2 0 0 1-1-3a1 2 0 0 1 2-1a1 2 0 0 1-1 4M130 2195a4 12 0 0 1-1-19a4 12 0 0 1 6 5a4 12 0 0 1-5 14l0 0a3 8 0 0 1-1-14a3 8 0 0 1 5 4a3 8 0 0 1-4 10M345 2182a4 10 0 0 1-4-14a4 10 0 0 1 6-2a4 10 0 0 1-2 16l0-1a3 7 0 0 1-1-11a3 7 0 0 1 4 3a3 7 0 0 1-3 8M486 2186a4 9 0 0 1-4-11a4 9 0 0 1 6-3a4 9 0 0 1-2 14l0 0a3 6 0 0 1-3-8a3 6 0 0 1 5-2a3 6 0 0 1-2 10l-2 0a2 4 0 0 1-3-4a2 4 0 0 1 3-2a2 4 0 0 1 0 6M438 2193a2 4 0 0 1 0-7a2 4 0 0 1 3 2a2 4 0 0 1-3 5l2 0a1 3 0 0 1-2-4a1 3 0 0 1 3-1a1 3 0 0 1-1 5l-1 0a1 2 0 0 1-1-2a1 2 0 0 1 2-1a1 2 0 0 1-1 3M382 2172c10 0 41 0 62-1c20-1 40-2 61-4c20-1 41-3 61-6c21-2 51-6 62-7M331 2171c18 0 73 0 110-1c36-1 73-1 110-2c36-1 73-3 110-4c36-2 91-4 110-5M159 2174c36-1 145-1 218-3c73-1 146-4 219-6c73-3 145-7 218-11c73-3 182-11 219-13M247 2189c30 0 119 0 179-2c59-1 119-3 178-5c60-3 120-5 179-9c60-3 149-9 179-11M295 2160c22 0 88 1 132 3c44 1 88 4 131 7c44 4 88 8 132 12c44 4 110 13 132 15M181 2184c15 0 61 1 91 2c30 1 61 2 91 4c30 2 61 4 91 6c30 2 76 7 91 8M180 2160c24 1 96 2 144 4c48 2 96 5 144 9c48 3 96 8 143 13c48 5 120 15 144 18M311 2152c25 0 98 0 147 0c49 0 98 1 146 1c49 0 98 0 147 0c49 0 122 0 147 0M274 2176c25 0 99 0 148-1c49-1 98-1 148-3c49-1 98-2 147-3c50-2 124-4 148-5M149 2182c24 0 95-1 143-2c47-2 94-4 142-6c47-3 95-6 142-9c47-4 118-10 142-12M301 2201c9-1 35-2 52-4c17-3 34-7 52-11c17-5 34-10 51-16c18-6 43-18 52-21M328 2193c9 0 35 0 53 1c18 0 35 1 53 2c18 1 35 2 53 3c18 1 44 4 53 4M187 2156c14 1 54 1 80 1c27 1 54 2 80 3c27 0 54 2 81 3c26 1 66 4 80 4M121 2193c22 0 89 0 134-2c45-1 90-3 135-5c45-2 90-5 134-8c45-3 113-9 135-10M118 2157c28 0 112 0 168 1c56 0 112 0 168 0c56 1 112 1 168 2c56 0 140 1 168 1M339 2195c21 0 84 0 126-1c43-1 85-3 127-5c42-1 84-4 126-6c43-2 106-7 127-8M284 2167c32-1 130-1 194-2c65 0 130-1 195-3c64-1 129-3 194-4c65-2 162-5 194-7M227 2162c18 1 73 1 110 3c36 1 73 3 110 6c37 2 73 5 110 8c37 4 92 10 110 12M394 2181c5 1 19 1 28 2c9 0 18 1 27 3c9 1 18 3 28 5c9 1 23 5 27 6M137 2168c38 0 151 0 226 1c75 0 150 1 225 2c76 1 151 2 226 3c75 1 188 3 226 4M287 2166c22 0 86 0 129-1c43-1 86-2 129-3c43-1 85-3 128-5c43-2 108-5 129-6M197 2169c31 0 125 0 188 1c62 1 125 2 187 3c63 1 125 2 188 4c62 1 156 4 187 5M296 2188c29 0 113-1 170-3c56-2 113-4 169-7c56-3 113-7 169-11c57-5 141-13 170-15M116 2173c30-1 121-1 182-2c61-1 122-3 182-5c61-2 122-5 183-7c60-3 152-8 182-10M172 2156c33 1 132 2 198 4c66 2 132 6 198 10c66 4 133 9 199 14c66 6 165 16 198 20M746 2165c10 0 42 0 64-2c21-1 42-3 63-8c22-4 43-10 64-18c22-8 54-26 64-31M713 2179c13 0 50 0 74-1c25 0 50-1 74-4c25-2 49-5 74-9c25-4 62-13 74-15M712 2154c7 0 29 0 43-1c15-1 29-3 44-6c14-3 28-7 43-13c14-6 36-19 43-23M496 2163c15 0 61 0 92-1c30 0 61-1 91-2c31-2 61-4 92-7c30-2 76-9 92-10M454 2192c20 0 79 0 118 0c39-1 78-2 117-5c39-2 78-5 117-9c39-4 98-13 117-16M736 2155c17 0 68 0 103 0c34 0 68 0 102 0c35 0 69 0 103 0c34 0 86 0 103 0M584 2177c14 0 55 0 82 0c28-1 55-1 83-2c27-1 55-3 82-5c27-2 69-6 82-7M709 2159c12 0 46 0 68 0c23 0 46-1 68-2c23-1 46-2 69-4c22-2 56-6 68-7M443 2161c24 0 96 0 145 0c48-1 96-1 145-2c48 0 96-1 144-2c49-2 121-4 145-5M599 2194c16 0 64 0 96-1c31-2 63-4 95-8c32-4 64-10 96-18c31-8 79-25 95-30M152 2160c5-1 18-2 26-3c7-1 14-3 17-3c3-1 0 0 0 0a6 11 0 0 1-4-18a6 11 0 0 1 9 0a6 11 0 0 1-5 18c4-1 20-2 24-2c4 0 0 0 0 0a7 7 0 0 1-6-11a7 7 0 0 1 12 0a7 7 0 0 1-6 11c3 0 15 0 18 0c3 0 0 0 0 0a4 6 0 0 1-4-8a4 6 0 0 1 7 0a4 6 0 0 1-3 8c3 0 9 0 16-1c7-1 22-5 26-5c4-1 0 0 0 0a3 9 0 0 1-3-15a3 9 0 0 1 6 0a3 9 0 0 1-3 15c3-1 17-5 21-6c3 0 0 0 0 0a5 11 0 0 1-4-16a5 11 0 0 1 8 0a5 11 0 0 1-4 16c4 0 16-2 24-4c8-1 17-5 24-5c7-1 14 2 19 4c6 1 13 4 16 5c3 1 0 0 0 0a5 9 0 0 1-5-13a5 9 0 0 1 9 0a5 9 0 0 1-4 13c3 0 10 0 16 1c7 1 14 2 21 3c6 2 11 5 18 6c7 1 16 1 24 1c8 0 14-2 22-3c8 0 17 0 24 1c6 0 14 0 17 0c3 0 0 0 0 0a4 5 0 0 1-3-7a4 5 0 0 1 7 0a4 5 0 0 1-4 7M457 2195c4 0 15-4 22-4c7-1 12-1 19-1c7 0 18 2 25 4c6 1 13 2 15 3c3 0 0 0 0 0a7 7 0 0 1-6-11a7 7 0 0 1 12 0a7 7 0 0 1-6 11c4 0 19 2 23 2c3 0 0 0 0 0a5 9 0 0 1-5-14a5 9 0 0 1 9 0a5 9 0 0 1-4 14c3 1 11 6 18 6c6 0 14-3 21-5c7-2 14-5 21-7c8-3 18-6 25-8c7-3 11-8 16-10c6-1 11-1 16-1c6 0 13 2 18 3c6 2 9 2 15 4c7 1 17 2 24 4c7 2 15 5 18 6M329 2153c4 0 14-2 21-2c6-1 12 0 18 0c7 0 12 0 18-1c7 0 14 1 20 0c6-1 12-3 18-3c6-1 13-2 21-2c7 1 18 3 25 4c7 1 14 1 17 1c2 0 0 0 0 0a6 10 0 0 1-5-16a6 10 0 0 1 10 0a6 10 0 0 1-5 16c3 0 13 0 20 1c6 1 10 4 16 5c6 2 13 5 19 6c7 2 15 4 22 4c8 1 17 0 24 1c7 0 17 3 20 4c4 0 0 0 0 0a6 7 0 0 1-5-10a6 7 0 0 1 11 0a6 7 0 0 1-6 10c3 0 13-1 18 0c5 0 9 2 15 3c6 2 15 4 21 6c7 1 11 3 18 4c6 1 16 1 19 1M427 2143l0 0a5 8 0 0 1-4-12a5 8 0 0 1 9 0a5 8 0 0 1-5 12c3 0 16-3 19-3c3-1 0 0 0 0a6 12 0 0 1-5-19a6 12 0 0 1 10 0a6 12 0 0 1-5 19c2-1 9-4 14-4c6 0 11 3 18 2c8 0 18-3 25-3c7-1 11 0 17 1c5 1 9 2 14 4c5 2 9 5 15 8c7 2 19 6 25 8c6 1 8 2 14 2c6 1 16 1 23 0c7-1 13-4 20-4c6-1 11 1 18 0c6-1 17-4 21-5c3 0 0 0 0 0a6 8 0 0 1-6-11a6 8 0 0 1 11 0a6 8 0 0 1-5 11c4 1 17 1 24 2c7 1 10 2 16 3c7 1 18 3 26 4c7 2 17 4 20 4M307 2204c3 0 18-2 22-3c4 0 0 0 0 0a5 14 0 0 1-5-20a5 14 0 0 1 9 0a5 14 0 0 1-4 20c3 0 11-1 17-2c5-2 9-5 15-7c5-2 9-5 16-8c7-2 18-4 26-6c8-1 17-2 24-4c7-1 9-5 15-7c7-2 19-2 23-3c3 0 0 0 0 0a6 10 0 0 1-6-14a6 10 0 0 1 11 0a6 10 0 0 1-5 14c3 0 11 1 18 2c7 0 16 2 23 2c7 0 12-1 19-1c7-1 15-1 23-2c8-2 16-4 24-6c8-1 17-2 24-2c6 0 8-1 15 0c6 1 15 3 22 4c7 1 12 0 18 0c7 1 17 3 20 4c3 0 0 0 0 0a5 13 0 0 1-4-20a5 13 0 0 1 8 0a5 13 0 0 1-4 20c3 0 10 2 16 4c5 1 12 3 18 4c6 1 13 1 16 1M403 2183c3 0 12-2 19-3c7-1 18-1 25-1c7-1 13-2 16-3c3 0 0 0 0 0a5 13 0 0 1-5-19a5 13 0 0 1 10 0a5 13 0 0 1-5 19c4 1 17 1 24 2c7 1 16 4 19 4M127 2144c4 1 18 2 26 3c8 1 18 3 22 4c3 1 0 0 0 0a7 7 0 0 1-6-10a7 7 0 0 1 11 0a7 7 0 0 1-5 10c3 0 11-1 18-1c7-1 15-2 22-1c7 0 13 2 21 1c7 0 20-3 25-3c4-1 0 0 0 0a5 10 0 0 1-4-14a5 10 0 0 1 8 0a5 10 0 0 1-4 14c3 0 16 1 22 1c7 0 11 0 16 0c6-1 13-2 20-3c8-2 17-4 25-6c8-2 16-3 22-5c7-1 16-2 19-3c3 0 0 0 0 0a4 8 0 0 1-3-12a4 8 0 0 1 6 0a4 8 0 0 1-3 12c4 2 16 5 24 8c7 3 14 5 20 8c6 3 10 6 17 9c7 2 18 5 25 6c7 1 12 1 20 1c7 1 16 3 24 4c8 2 16 3 24 5c8 1 16 4 24 6c7 2 15 5 22 7c6 2 11 4 18 5c7 2 16 4 24 5c8 1 21 2 25 2c4 0 0 0 0 0a6 9 0 0 1-5-13a6 9 0 0 1 10 0a6 9 0 0 1-5 13c4 0 15 1 23 2c8 2 18 5 24 5c7 0 13-4 16-5c2-1 0 0 0 0a6 12 0 0 1-6-18a6 12 0 0 1 11 0a6 12 0 0 1-5 18c2-1 9-7 14-9c5-2 14-3 16-4M334 2156c3 0 11-1 18-2c6-1 15-3 22-4c7-1 15-2 20-2c6 1 9 2 15 3c6 0 15 1 22 0c7 0 12-1 17-1c6-1 15-2 18-3c3 0 0 0 0 0a5 12 0 0 1-4-17a5 12 0 0 1 9 0a5 12 0 0 1-5 17c4 0 14-1 21 0c7 0 13 3 20 3c6 0 12-3 18-3c6 0 14 3 17 3M333 2181c4 0 17 3 23 3c6 1 9-1 14-1c6 1 14 2 20 4c6 2 9 5 16 7c7 3 17 5 24 7c8 1 16 4 24 3c7 0 14-5 21-7c8-1 19-2 23-2M418 2191c3 0 16 2 19 3c4 0 0 0 0 0a6 12 0 0 1-5-18a6 12 0 0 1 10 0a6 12 0 0 1-5 18c4 0 17 3 20 4c3 0 0 0 0 0a6 13 0 0 1-6-20a6 13 0 0 1 12 0a6 13 0 0 1-6 20c3 0 11-1 17 0c6 0 12 3 19 4c6 0 12-2 19-3c7-1 16-2 22-2c6-1 11 0 16 0c6 0 9 0 16 1c7 0 19 3 26 4c7 1 10 1 16-1c6-1 12-5 19-6c7-1 16 1 24 0c7-1 14-3 21-5c7-2 16-5 22-7c6-3 9-6 14-9c5-2 10-2 15-4c6-2 10-5 17-7c7-1 19-2 25-1c7 0 8 3 15 4c6 0 18-2 25-1c7 0 12 2 15 3M354 2169c2 0 10 2 15 3c5 0 9 0 15 0c5 1 11 2 18 4c7 1 17 2 26 4c8 1 18 4 25 6c7 2 11 4 17 7c6 2 11 6 17 8c7 1 17 1 23 1c6-1 10-4 14-6c5-1 9 0 15-1c5-1 14-3 16-4c3 0 0 0 0 0a4 12 0 0 1-3-18a4 12 0 0 1 7 0a4 12 0 0 1-4 18c3 1 13 1 19 2c5 1 9 5 15 6c7 1 16-1 23 0c7 1 14 4 21 4c7 1 15 0 21 0c7 0 12 1 18 0c6 0 15-1 18-1c3 0 0 0 0 0a6 9 0 0 1-5-14a6 9 0 0 1 10 0a6 9 0 0 1-5 14l19-2M480 2203c3-1 13-3 19-3c6 0 11 3 16 3c5 1 10 0 16 0c6-1 13-3 20-3c8 0 16 3 24 3c8 0 20-1 24-2M342 2175l0 0a6 10 0 0 1-5-15a6 10 0 0 1 10 0a6 10 0 0 1-5 15c3-1 17-1 20-2c4 0 0 0 0 0a5 10 0 0 1-5-15a5 10 0 0 1 10 0a5 10 0 0 1-5 15c3 1 10 2 17 2c7 0 20 0 25 0c4 0 0 0 0 0a6 10 0 0 1-6-14a6 10 0 0 1 11 0a6 10 0 0 1-5 14c2 0 14 1 17 1c3 0 0 0 0 0a4 9 0 0 1-4-14a4 9 0 0 1 8 0a4 9 0 0 1-4 14c3-1 14-3 16-4c3 0 0 0 0 0a5 8 0 0 1-4-11a5 8 0 0 1 8 0a5 8 0 0 1-4 11c4 1 16 2 22 2c7 1 12 0 17 1c6 1 10 3 15 5c5 2 12 5 14 7c3 1 0 0 0 0a6 14 0 0 1-5-21a6 14 0 0 1 11 0a6 14 0 0 1-6 21c4 1 14 5 20 8c6 3 10 9 16 10c5 1 10-4 17-4c6 0 18 2 22 3c4 0 0 0 0 0a3 9 0 0 1-3-14a3 9 0 0 1 6 0a3 9 0 0 1-3 14c3-1 15-3 22-4c6 0 11 1 17 1c5-1 13-2 15-2c3 0 0 0 0 0a5 10 0 0 1-4-14a5 10 0 0 1 8 0a5 10 0 0 1-4 14c3-1 10-4 17-5c8-1 19-1 26-2c7-2 11-5 16-6c5-1 10 0 16 0c5 0 9 1 15 1c6 0 14 0 21-1c7 0 13-2 20-2c7 0 16 1 22 1c6 1 8 2 14 3c6 1 12 4 20 5c8 1 17 2 26 4c8 1 21 3 25 4M237 2175c3 1 12 3 18 4c5 1 11 0 17 2c6 1 13 4 20 5c8 1 17 0 25-1c8 0 18-2 25-2c8 0 12 2 18 2c6 0 12 0 18-1c6-1 11-4 17-5c6 0 11 1 19 2c7 1 18 3 25 4c7 2 13 4 18 6c6 2 10 5 17 8c7 2 17 5 24 6c8 0 18-3 21-3c4-1 0 0 0 0a4 12 0 0 1-4-18a4 12 0 0 1 8 0a4 12 0 0 1-4 18c4 0 20 0 25 0c4 1 0 0 0 0a5 14 0 0 1-5-20a5 14 0 0 1 9 0a5 14 0 0 1-4 20c4 0 18 1 25 0c8 0 12 0 20-1c7-1 18-3 25-4c7-1 9-1 16-1c6 0 15 1 21 1c6 0 8 0 14 1c7 0 21 2 25 3c4 0 0 0 0 0a5 11 0 0 1-4-17a5 11 0 0 1 8 0a5 11 0 0 1-4 17c3 0 11 2 16 2c5 0 9 0 15-1c6 0 19-2 23-3c3 0 0 0 0 0a7 7 0 0 1-6-10a7 7 0 0 1 12 0a7 7 0 0 1-6 10c3 0 10 1 17 0c7-1 19-4 22-5M346 2145c4 0 14-2 20-2c5 0 9 1 14 2c5 1 12 3 14 3c2 1 0 0 0 0a5 8 0 0 1-5-12a5 8 0 0 1 10 0a5 8 0 0 1-5 12c4 0 17 1 25 2c8 1 17 4 24 5c6 1 10 3 16 3c5 0 11-2 17-2c6 0 12 0 19 0c7 0 16 2 24 2c7 0 17-1 20-1c4 0 0 0 0 0a5 8 0 0 1-4-11a5 8 0 0 1 9 0a5 8 0 0 1-5 11c5 1 19 3 26 3c7 0 11-1 17-2c7-1 13-3 21-4c7-1 18-1 24-1c6-1 9-1 14 0c6 1 11 3 18 5c7 1 20 2 24 3M123 2139c3 0 9-1 15-1c7 1 15 3 23 4c8 1 16 4 24 5c8 1 18 2 25 2c7 0 12-2 18-3c7 0 13 0 20 1c7 0 13 2 21 3c8 1 18 3 26 4c8 2 15 3 22 5c7 2 13 6 20 7c8 2 18 1 26 0c7-1 13-4 21-4c8 0 18 1 25 2c7 1 10 3 17 3c7 1 18-1 25-1c7 1 10 4 16 4c7 1 20 0 24 0c4 0 0 0 0 0a5 12 0 0 1-4-18a5 12 0 0 1 8 0a5 12 0 0 1-4 18c4-1 13-3 20-4c7-2 13-4 21-5c8-2 18-2 25-3c7-1 11-2 17-3c5-2 12-4 18-6c6-3 12-7 19-9c7-1 16-1 23-2c8-1 14-4 21-5c7 0 18 1 22 1c4 0 0 0 0 0a4 10 0 0 1-4-15a4 10 0 0 1 8 0a4 10 0 0 1-4 15M455 2138c4 1 17 3 24 5c8 1 15 4 21 6c6 2 13 6 16 8c3 1 0 0 0 0a5 6 0 0 1-4-10a5 6 0 0 1 9 0a5 6 0 0 1-5 10c3 0 12 0 18 0c7 0 15 1 22 0c8 0 18-2 26-2c8-1 15-1 21 0c7 0 10-1 17 0c8 1 18 3 26 3c9 0 20-1 24-1c4 0 0 0 0 0a6 7 0 0 1-5-10a6 7 0 0 1 10 0a6 7 0 0 1-5 10c4 1 16 3 24 3c8 0 18-1 25-1c8 0 14 0 20-1c6 0 12 0 17 0c6 1 13 1 16 1M412 2203c2 0 9-3 15-3c7-1 16 0 24 1c7 0 13-1 20 0c7 1 14 4 21 4c7 0 15-2 21-4c6-2 9-4 16-6c7-2 18-6 25-8c7-1 9-2 15-3c6 0 17-1 24-1c7 1 11 1 17 2c7 1 17 3 20 4M402 2186c3 1 13 4 15 5c3 0 0 0 0 0a4 8 0 0 1-3-13a4 8 0 0 1 6 0a4 8 0 0 1-3 13c4 0 18 0 26-1c7 0 14-2 19-4c6-1 9-3 15-3c6-1 16 1 23 0c8-1 15-4 22-5c7-1 12 0 18 0c6 0 15 1 18 1M261 2189c4-1 14-3 22-5c7-1 16-2 24-4c7-1 13-3 20-5c8-1 18-3 26-5c8-2 16-6 22-7c7-1 11 1 17 0c5-1 10-4 17-5c6 0 14 0 22 0c8 0 18 1 24 0c6-1 9-5 14-5c6-1 13 2 19 2c6 0 13 0 15 0c3 0 0 0 0 0a6 7 0 0 1-5-11a6 7 0 0 1 11 0a6 7 0 0 1-6 11c4 0 18-1 25-1c6 1 10 1 16 2c5 1 15 4 18 5M317 2137c4 0 15 1 23 2c7 1 19 3 23 4c3 1 0 0 0 0a5 11 0 0 1-5-17a5 11 0 0 1 9 0a5 11 0 0 1-4 17c2 0 7-2 14-2c6 0 18 2 25 1c7 0 11-3 17-4c7-1 13 0 20 0c7-1 15-3 22-4c7-2 11-4 19-4c7 0 17 3 24 3c7 1 11-2 18-2c7 0 16 1 24 1c8 0 20 1 23 1c4 1 0 0 0 0a5 13 0 0 1-4-19a5 13 0 0 1 9 0a5 13 0 0 1-5 19M420 2138l0 0a5 6 0 0 1-5-9a5 6 0 0 1 9 0a5 6 0 0 1-4 9c3 0 14 0 21-1c7 0 16-1 22-2c7-1 12-4 19-5c7-1 18 0 26 1c7 0 13 3 19 4c5 2 12 5 14 6c2 1 0 0 0 0a7 13 0 0 1-6-19a7 13 0 0 1 12 0a7 13 0 0 1-6 19c3 1 9 4 15 6c7 1 20 2 24 3M388 2169l0 0a3 10 0 0 1-3-16a3 10 0 0 1 6 0a3 10 0 0 1-3 16c3 0 13 0 18 0c6 0 10 0 15-1c6 0 10-1 17-1c6 0 17 1 24 1c6 0 9-2 16-2c6 0 15 2 21 2c6 0 14-1 16-1c3-1 0 0 0 0a5 6 0 0 1-4-9a5 6 0 0 1 9 0a5 6 0 0 1-5 9c4 0 14 0 21-1c8 0 16 0 24-1c8-1 17-3 25-4c8 0 20 2 24 2M165 2137c3 1 14 3 21 3c7 1 13 1 21 0c8 0 19-2 26-4c7-1 12-4 18-5c6 0 12 0 18 0c7 0 13 1 20 1c7 0 17-1 24-1c7 0 11 1 16 1c5 0 9-1 14-1c5 0 10-1 15-1c5 1 10 3 15 5c6 2 13 5 19 6c5 1 10 2 16 2c6 0 14-1 17-1c3 0 0 0 0 0a4 8 0 0 1-3-12a4 8 0 0 1 7 0a4 8 0 0 1-4 12c3-1 8-3 15-5c6-1 17-5 23-6c7-1 12 1 17 2c5 2 9 6 15 7c6 1 13-1 20-1c6 0 14 3 16 3c3 1 0 0 0 0a6 9 0 0 1-5-12a6 9 0 0 1 11 0a6 9 0 0 1-6 12c3 1 14 3 17 4c3 1 0 0 0 0a7 11 0 0 1-6-17a7 11 0 0 1 12 0a7 11 0 0 1-6 17c3 0 14-1 19-2c6-1 9-4 16-6c6-2 16-6 22-7c6-1 12-1 15-1M485 2142c5 0 19 2 25 2c7 0 13-1 16-2c2 0 0 0 0 0a4 9 0 0 1-3-13a4 9 0 0 1 6 0a4 9 0 0 1-3 13c4 1 18 2 25 3c8 2 13 4 18 5c6 1 11-1 17-1c6 0 13 0 20 0c6 1 11 1 16 1c6 0 13-1 18-3c5-1 9-4 14-6c6-2 15-7 20-8c6-2 10-1 15-1c5 0 12 1 15 2M454 2143c3 1 13 4 18 5c6 0 14-2 16-2c3 0 0 0 0 0a6 9 0 0 1-5-13a6 9 0 0 1 11 0a6 9 0 0 1-6 13c3-1 12-3 18-4c6-2 11-6 17-7c7-2 15-3 21-3c6 0 9 2 15 2c6 0 18-2 22-3M262 2177c2 0 10-1 16-1c6 0 11 2 17 1c7 0 15-2 21-4c6-1 9-4 16-6c7-1 16-3 24-4c8 0 17 1 25 0c9 0 17-1 25-3c7-1 14-2 21-3c6-1 12-2 15-3c3 0 0 0 0 0a6 5 0 0 1-6-8a6 5 0 0 1 11 0a6 5 0 0 1-5 8c3 0 13 0 16 0c2 0 0 0 0 0a5 11 0 0 1-5-16a5 11 0 0 1 9 0a5 11 0 0 1-4 16c3 1 16 1 20 2c3 0 0 0 0 0a6 12 0 0 1-5-18a6 12 0 0 1 9 0a6 12 0 0 1-4 18c2-1 13-3 16-3c3 0 0 0 0 0a7 6 0 0 1-6-9a7 6 0 0 1 12 0a7 6 0 0 1-6 9c3-1 11-3 16-5c5-3 9-6 16-8c7-2 17-5 24-5c7-1 10 1 17 1c7 0 15-2 23-2c8 0 15 2 22 3c8 1 17 1 24 2c6 1 12 3 15 4c2 1 0 0 0 0a4 5 0 0 1-4-8a4 5 0 0 1 7 0a4 5 0 0 1-3 8c4 0 16-1 24-2c8-1 19-4 25-5c7-1 10-1 15-1c6 0 17 3 20 3c3 1 0 0 0 0a4 7 0 0 1-3-10a4 7 0 0 1 6 0a4 7 0 0 1-3 10c4 1 15 0 23 1c8 1 15 3 23 5c7 2 18 4 22 5c3 1 0 0 0 0a3 14 0 0 1-3-21a3 14 0 0 1 6 0a3 14 0 0 1-3 21c4 0 16 1 23 2c6 0 11 0 16 1c5 1 9 3 15 3c6 1 16-1 24-1c8 1 18 2 22 2M118 2178c4 0 15-2 22-2c6 0 13 2 19 3c7 2 13 4 19 5c7 0 15-1 22-2c7-1 16-5 19-6c3-1 0 0 0 0a6 11 0 0 1-5-17a6 11 0 0 1 10 0a6 11 0 0 1-5 17c2-1 9-5 15-7c6-2 18-5 22-5c3-1 0 0 0 0a4 13 0 0 1-4-20a4 13 0 0 1 7 0a4 13 0 0 1-3 20c4-1 17-4 24-5c7-2 11-4 17-5c6-1 14-2 19-2c6 1 11 3 17 4c5 0 12-1 19-2c6 0 12 0 18 0c6-1 10-1 15-2c5 0 11-1 16-3c6-1 10-4 17-5c7-1 16 0 24-1c7 0 14-3 21-3c6-1 12 0 17 0c5 1 8 2 14 3c7 1 22 3 26 4c4 1 0 0 0 0a5 11 0 0 1-4-16a5 11 0 0 1 8 0a5 11 0 0 1-4 16c4 0 20 2 23 2c4 1 0 0 0 0a5 7 0 0 1-4-10a5 7 0 0 1 9 0a5 7 0 0 1-5 10M231 2189c5 0 18-2 26-1c8 0 14 3 21 4c7 1 12 2 20 3c8 1 18 3 26 3c7 1 13-1 20-1c8-1 18-1 26-1c8 0 17 1 24 1c7 1 11 1 16 2c6 1 9 2 15 3c6 1 12 1 19 1c8 1 16 1 23 1c8 1 16 1 24 1c7 0 12 0 19 0c6 0 12-1 18-2c7 0 13-1 20-2c6 0 12 0 18-1c6-1 12-1 18-3c6-1 12-4 18-5c6-2 11-2 17-3c5-1 10-1 15-2c6-2 10-4 16-6c7-2 18-4 24-6c7-1 8-1 15-1c7 0 17 2 26 3c8 2 19 5 25 7c7 1 10 3 15 4c5 0 13-1 15-2c3 0 0 0 0 0a7 9 0 0 1-6-13a7 9 0 0 1 12 0a7 9 0 0 1-6 13c4 0 17 0 24 1c7 0 11 2 19 2c7 1 18 2 24 2c7 0 9-1 16-1c6 0 18 1 25 1c7 1 12 2 19 1c7 0 19-3 23-3M162 2169c3 0 11 2 16 3c6 1 11 2 17 3c5 0 14 0 17 0c2 1 0 0 0 0a5 6 0 0 1-5-8a5 6 0 0 1 9 0a5 6 0 0 1-4 8c3 1 13 1 19 2c7 1 13 3 20 4c6 0 13-1 18-1c6-1 8-2 14-2c7 0 15 2 23 2c7 1 13 1 21 2c7 1 13 2 21 3c8 0 18 2 25 1c7 0 10-2 15-4c5-1 10-3 16-4c6-2 13-5 20-5c7-1 16 0 23 0c6 0 8-1 15-1c6 1 17 3 25 4c7 2 14 4 21 5c7 1 13 2 19 2c7 0 14-1 21-1c7 1 15 3 22 3c7 0 12-2 18-4c5-1 10-3 16-3c6-1 13 1 20 0c6-1 15-4 21-4c7-1 11 1 18 2c6 1 12 3 19 5c7 2 15 5 23 5c8 1 20 0 24 0c4 0 0 0 0 0a5 6 0 0 1-4-9a5 6 0 0 1 9 0a5 6 0 0 1-5 9l22 1" stroke="#c4c4c4" stroke-width="1.0"/>
<path d="M113 2200c5 0 17 0 27 1c10 1 26 3 32 3" stroke="#4DBEEE" stroke-width="2.8"/>
<path d="M130 2198c0-4 0-18 2-26c2-7 5-15 8-18c3-4 6-4 9-2c3 1 7 7 10 12c3 5 6 13 9 19c2 6 4 13 4 17c-1 4-2 7-6 8c-5 1-15-1-22-2c-6-1-16-2-19-3" stroke="#4DBEEE" stroke-width="2.8"/>
<path d="M160 2200a9 24 0 0 1-8-36a9 24 0 0 1 16 0a9 24 0 0 1-8 36l10-12a5 18 0 0 1-4-27a5 18 0 0 1 8 0a5 18 0 0 1-4 27l-5-27a6 11 0 0 1-5-17a6 11 0 0 1 10 0a6 11 0 0 1-5 17" stroke="#77AC30" stroke-width="2.8"/>
<path d="M172 2149c8 1 31 3 46 6c15 2 29 5 42 7c13 2 26 5 38 7c12 3 22 5 35 8c13 2 32 6 42 8c11 2 14 3 21 4c8 1 17 1 25 0c8-1 14-5 21-8c7-4 16-8 21-13c5-5 8-13 11-19c2-6 2-10 2-14c-1-5-4-12-7-14c-3-2-8-2-10 1c-2 3-2 16-2 19" stroke="#77AC30" stroke-width="2.8"/>
<path d="M482 2060c2 1 9 5 10 8c1 3 3 5-2 12c-5 7-17 24-27 32c-10 8-21 12-31 16c-11 4-10 5-32 9c-22 3-71 9-98 12c-27 4-46 6-63 8c-17 2-31 3-38 4c-7 1-2 2-2 3c0 1 2 1 4 1c2 0 6-3 9-2c2 1 4 3 6 7c2 4 5 12 6 17c1 5 2 13 2 15" stroke="#D95319" stroke-width="2.8"/>
<path d="M298 2170c0-3 2-14 4-18c2-5 4-6 10-7c8-1 20-1 32 0c12 1 30 3 42 4c12 1 14 1 27 1c13 0 31 0 50 0c19 0 45 1 63 2c18 2 30 3 42 5c12 1 26 2 32 3" stroke="#7E2F8E" stroke-width="2.8"/>
<path d="M310 2152c1 1 2 7 4 10c3 3 7 2 9 6c2 4 5 9 6 15c1 6 2 17 1 21c-1 4-5 5-7 4c-2-1-5-4-6-8c-2-4-2-10-3-17c0-7-2-19-2-23" stroke="#7E2F8E" stroke-width="2.8"/>
<path d="M323 2177c7 1 31 6 42 8c11 2 19 4 27 4c8 0 16-2 21-2c5 0 0 2 8 2c8 0 28-2 42-4c14-2 28-3 42-6c14-3 30-6 42-11c12-5 24-15 31-19c8-4 13-5 15-6" stroke="#7E2F8E" stroke-width="2.8"/>
<path d="M314 2162c-2 1-10 6-12 8c-2 3-3 6-2 9c1 2 4 6 6 6c2 0 6-1 8-4c3-3 6-9 7-13c1-4-2-8 2-10c4-2 11-2 21-2c10-1 30 0 42 1c12 0 18 0 27 1c9 1 17 4 29 6c12 2 28 6 42 8c14 2 28 6 42 5c14-2 32-7 42-13c10-6 14-15 21-21c7-6 16-13 21-15c5-1 9 1 10 5c1 4-1 16-2 21c-1 4-5 5-6 6" stroke="#4DBEEE" stroke-width="2.8"/>
<path d="M480 2154c-1 4 0 19-2 25c-3 5-7 5-15 8c-8 3-26 9-31 11" stroke="#4DBEEE" stroke-width="2.8"/>
<path d="M233 2196c3 0 12 2 17 4c4 2 7 6 10 6c3 0 6-4 6-6c0-2-3-2-4-3" stroke="#A2142F" stroke-width="2.8"/>
<path d="M387 2152c1-1 2-6 6-8c4-2 13-6 17-6c4 0 7 0 9 6c2 6 3 20 2 28c-1 8-3 19-6 22c-3 3-7 0-11-5c-4-5-9-23-11-23c-2 0-3 19-3 23" stroke="#A2142F" stroke-width="2.8"/>
<path d="M400 2183c7 2 24 8 42 10c18 2 42 2 63 3c21 0 45-2 63-3c18 0 24-1 42-2c18-1 51-1 63-2c12-1 9-2 10-4c2-2 6-7 0-8c-5-1-21 3-31 2c-10-1-24-6-32-9c-7-3-12-8-14-10" stroke="#A2142F" stroke-width="2.8"/>
<path d="M587 2105c2-1 12-8 15-5c2 3 1 14 2 22c0 8 1 22 0 28c-1 6-4 10-6 8c-2-2-6-9-8-18c-2-9-4-36-3-35c1 1 8 33 10 39a6 14 0 0 1-5-21a6 14 0 0 1 10 0a6 14 0 0 1-5 21l-1 6a3 10 0 0 1-3-15a3 10 0 0 1 6 0a3 10 0 0 1-3 15" stroke="#A2142F" stroke-width="2.8"/>
<path d="M606 2160c-2 2-6 11-8 15c-2 4-3 6-6 9c-3 3-7 8-11 11c-4 3-9 4-11 5" stroke="#A2142F" stroke-width="2.8"/>
<path d="M378 2190c1 1 3 13 8 7c5-7 18-38 21-45" stroke="#0072BD" stroke-width="2.8"/>
<path d="M400 2176c17-1 67-2 100-2c33 0 67 0 100 0c33-1 80-1 100-2c20 0 15 2 18 0c3-2 2-8 2-9" stroke="#0072BD" stroke-width="2.8"/>
<path d="M578 2132c0 6-3 22-2 32c1 10 6 24 7 29" stroke="#0072BD" stroke-width="2.8"/>
<path d="M408 2189a8 24 0 0 1-7-36a8 24 0 0 1 14 0a8 24 0 0 1-7 36" stroke="#0072BD" stroke-width="2.8"/>
<path d="M378 2198a5 17 0 0 1-4-26a5 17 0 0 1 8 0a5 17 0 0 1-4 26" stroke="#77AC30" stroke-width="2.8"/>
<path d="M415 2147c8 0 33 2 48 2c15 0 28 1 42 0c14-1 29-3 42-4c13-1 27-2 38-4c10-2 14-3 25-5c11-3 30-6 42-10c12-4 24-10 31-14c8-5 12-8 13-11c1-3-3-10-6-11c-3 0-9 5-11 6" stroke="#EDB120" stroke-width="2.8"/>
<path d="M412 2147c2 4 7 18 9 25c2 7 4 14 5 17" stroke="#EDB120" stroke-width="2.8"/>
<path d="M606 2154c8 0 30 3 46 4c16 1 36 2 48 2c12 0 11-3 24-4c13-1 37-2 56-3c19-1 40 0 56-3c16-3 32-8 42-14c10-6 17-21 19-20c2 1-7 20-8 24a10 28 0 0 1-9-42a10 28 0 0 1 18 0a10 28 0 0 1-9 42l3-12a8 20 0 0 1-7-30a8 20 0 0 1 14 0a8 20 0 0 1-7 30" stroke="#EDB120" stroke-width="2.8"/>
<path d="M598 2164c-1 3-3 10-4 16c-1 6-2 17-2 20" stroke="#EDB120" stroke-width="2.8"/>
<path d="M867 2083c3 0 11-1 16 0c5 1 11 2 14 5c3 3 3 10 3 12c0 2-1 2-3 2c-2 0-6-5-11-5c-5 0-16 3-19 3" stroke="#EDB120" stroke-width="2.8"/>
<path d="M505 2196c11-3 45-11 63-15c18-5 28-8 42-13c14-5 27-10 42-17c15-6 39-15 48-23c9-7 5-19 7-21c2-2 3 7 3 9" stroke="#77AC30" stroke-width="2.8"/>
<path d="M700 2190c4-1 11-6 24-6c13 0 37 6 56 5c19-1 40-8 56-11c16-3 32-2 42-6c10-4 16-12 19-16c3-4 0-6 0-6c0 0 2 6 2 7a3 7 0 0 1-3-11a3 7 0 0 1 6 0a3 7 0 0 1-3 11c0-3 0-10 1-17c1-7 5-23 5-23c0 0-2 19-3 25c-1 6-1 7-2 11c-1 4-1 10-3 14c-2 4-6 8-9 11c-3 3-7 5-8 6" stroke="#A2142F" stroke-width="2.8"/>
<path d="M700 2195c4-1 11-3 24-3c13 0 37 0 56 0c19 0 42-2 56-3c14-1 23 0 28 0" stroke="#A2142F" stroke-width="2.8"/>
<path d="M830 2190c1-1 6-4 8-4c2 0 5 6 7 6c2 0 5-6 7-6c2 0 6 7 8 8c2 1 6-3 7-4" stroke="#A2142F" stroke-width="2.8"/>
<path d="M783 2203c4-1 19-3 25-8c6-5 10-13 14-23c4-10 8-26 11-36c3-10 5-18 9-22c4-4 10-5 16-5c6 0 14 6 20 7c6 1 14-1 19-2c5-1 5-5 11-6c6-1 14-2 28-2c14 0 37 4 56 2c19-2 37-8 56-14c19-6 41-15 56-25c15-10 29-24 36-33c7-9 5-13 6-20c1-7 0-20-2-20c-1 0-3 14-6 17c-4 3-9 5-12 2c-3-3-3-15-5-17c-2-2-5 6-9 4c-4-2-10-16-14-17c-4-1-6 9-8 9c-2 0-1-8-2-9" stroke="#77AC30" stroke-width="2.8"/>
<path d="M833 2125c0 3 1 10 1 15c0 5 0 12 0 15" stroke="#77AC30" stroke-width="2.8"/>
<path d="M791 2206c3-4 12-13 17-22c5-9 9-23 14-34c5-11 10-28 14-34c4-6 5-4 8-2c3 2 6 11 11 14c5 3 10 3 17 2c7-1 19-5 25-8c6-3 0-7 11-11c11-4 37-10 56-14c19-4 37-7 56-11c19-4 40-8 56-14c16-6 30-14 42-22c12-8 22-18 28-23c6-5 9-7 7-10c-2-3-16-5-21-9c-5-4-8-12-11-12c-3 0-5 11-9 12c-4 1-10-2-14-6c-4-4-8-12-10-17c-1-5 0-10 0-12" stroke="#D95319" stroke-width="2.8"/>
<path d="M813 2139c1-1 3-4 5-4c2 0 6 4 7 5" stroke="#D95319" stroke-width="2.8"/>
<path d="M696 2186c9-1 37-5 56-8c19-3 44-7 56-11c12-4 14-12 17-14" stroke="#D95319" stroke-width="2.8"/>
<path d="M777 2184c21 0 94 2 123 2c29 0 37-3 50-5c13-2 22-3 28-5c6-3 7-6 7-9c0-3-2-7-7-11c-5-4-19-12-22-14" stroke="#7E2F8E" stroke-width="2.8"/>
<path d="M600 2185c17 0 70 2 100 2c30 0 64-3 77-3" stroke="#7E2F8E" stroke-width="2.8"/>
<path d="M880 2185l28 0" stroke="#7E2F8E" stroke-width="2.8"/>
<path d="M696 2184c14-1 64-4 84-6c20-2 26-4 33-6c7-2 7-4 6-9c-1-5-9-16-11-19" stroke="#4DBEEE" stroke-width="2.8"/>
<path d="M500 2210c33 0 133 0 200 0c67 0 133-1 200-1c67 0 142 0 200 0c58 0 122-1 147-1" stroke="#4DBEEE" stroke-width="2.8"/>
<path d="M1187 2168c-1 2-2 10-3 15c0 5 2 11 2 15c0 4-3 12-3 9c0-3 3-25 4-30a3 5 0 0 1-3-7a3 5 0 0 1 6 0a3 5 0 0 1-3 7" stroke="#4DBEEE" stroke-width="2.8"/>
<path d="M1180 2208l69 0" stroke="#4DBEEE" stroke-width="4"/>
<path d="M794 2200c18 0 54-2 106-2c52 0 166 0 204 0c38 0 21 0 25 1c4 1 5 5-3 6c-8 1-35 1-42 1" stroke="#0072BD" stroke-width="2.8"/>
<path d="M158 2196c5 0 20 0 32 0c12 0 26 0 38 0c11 0 22 0 32 0c9 0 18 2 26 2c8 0 16-2 23-2c7 0 12 0 21 1c8 0 22 0 32 1c10 0 19 0 29 0c10 0 22 0 31 0c8 0 11 1 20 1c9 0 24 0 34 0c10-1 18-1 26-2c8 0 12-1 21 0c8 0 20 0 30 0c9 0 18 0 28 1c11 0 25 1 35 1c9 0 14 0 23 0c9-1 27-2 32-3" stroke="#0072BD" stroke-width="2.6"/>
<path d="M193 2201c4-1 14-4 23-5c9 0 19 1 30 1c11 0 25 0 37 0c11 1 22 1 33 0c10 0 19-1 28 0c9 0 18 4 27 4c8 0 15-3 24-4c9 0 22 0 32 0c9 0 16 0 26 0c10 0 22 1 32 1c10 0 21 1 30 0c8 0 11-1 22-1c10 0 27 2 39 3c13 0 23 0 34 0c12 0 24 0 36-1c12 0 24-1 36-1c12-1 28-1 38-1c10 1 12 3 20 3c9 0 23-2 32-3c9 0 16-1 22 0c6 0 12 3 15 3" stroke="#D95319" stroke-width="2.6"/>
<path d="M168 2196c6 0 27 0 36 0c10 0 15 0 23 0c8 0 16 0 26 0c9 1 19 2 28 2c10 1 18 1 28 1c9-1 21-1 31-1c10 0 19 1 30 1c10 0 24 0 34 0c10-1 16-3 26-3c10 0 23 0 36 0c12 0 27 0 37 1c9 0 12 0 21 0c8 1 20 2 31 2c10-1 22-2 33-2c11 0 26 2 33 2c8 0 9-2 11-3" stroke="#EDB120" stroke-width="2.6"/>
<path d="M154 2196c5 0 18 1 30 1c11 0 29-1 39-1c10 0 11 2 20 2c9 0 23-2 32-2c9 0 14 0 21 0c7 0 11 2 21 2c10 0 29-2 39-2c10 0 14 1 22 1c8 0 16-1 27-1c11 0 26 1 38 1c11 0 21-1 31-1c10 0 20 0 30 0c9 0 16 0 25 0c8 0 17 2 25 2c8 0 14-2 22-2c8 0 16 0 25 0c8 0 17 0 24 0c8 0 13 0 22 0c8 0 22 0 31 0c8 0 14 0 22 0c8 0 18 1 27 1c9 1 18 1 29 2c10 0 27-2 34-2c7 0 8 1 10 1" stroke="#7E2F8E" stroke-width="2.6"/>
<path d="M228 2199c5 0 19 0 29 1c10 0 20 2 30 2c10 0 20-4 30-4c10 0 20 4 33 4c12 1 26 0 39-1c13 0 26 1 36 0c9 0 13-2 21-2c9-1 21-1 30-1c10 0 18 0 27 1c8 0 17 1 25 1c8 0 12 0 22-1c10 0 32-1 39-1" stroke="#77AC30" stroke-width="2.6"/>
<path d="M157 2196c4 1 18 5 27 5c8 0 14-4 24-4c9-1 25 3 34 3c9 0 13-3 21-3c7 0 16 3 26 2c10 0 22-3 31-3c10 0 15 2 25 2c9 0 23-2 32-2c9 0 13 3 22 3c9 1 21 0 32 0c11 0 24 2 35 2c11 0 22-2 32-2c10-1 19-2 30-2c11 1 26 2 36 3c10 1 17 1 24 1c8 0 11-1 21-2c9 0 25-2 35-2c10-1 14 1 23 2c8 0 19 1 27 1c8 0 14-1 22-1c7 0 16 1 21 1c4 0 4 0 5 0" stroke="#4DBEEE" stroke-width="2.6"/>
<path d="M237 2199c4-1 16-2 25-2c8 0 16 1 25 1c10 1 22 1 31 0c9 0 15-1 23-1c8 0 15 0 25 1c10 0 28 1 38 1c9 1 11 0 20 0c9 0 25-1 35 0c9 0 14 2 21 2c7 0 13-1 21-1c8 0 18-1 29-1c10 0 24 1 33 1c9 0 12-1 21-1c9-1 23-2 36-1c12 0 29 3 39 3c10 0 12-3 21-3c8 0 19 3 28 3c9 0 16-3 24-3c8 1 13 3 22 4c10 0 23-1 35-1c11 0 24-2 34-2c10-1 13-1 24-1c10 0 27 2 38 3c12 0 22 0 30 0c7-1 13-3 16-4" stroke="#A2142F" stroke-width="2.6"/>
<path d="M133 2207c7 0 27 1 38 1c11 0 20 1 28 0c9 0 17-2 25-3c8 0 13 1 23 1c9 0 25-1 35-1c11 0 17 1 26 2c10 0 21 0 33 0c11 0 25 2 37 2c13 0 27-3 38-4c11 0 19 2 29 2c9 0 19-1 28 0c8 0 13 2 22 2c9 0 21 0 30 0c9 0 13-1 24-1c10 0 28 0 39 0c11-1 17-2 27-2c10 0 21 3 33 4c12 0 28-2 38-3c10 0 12-2 20-2c9 1 22 4 31 4c8 0 11-3 20-3c9 0 25 2 32 2c7 0 9-3 11-3" stroke="#EDB120" stroke-width="2.6"/>
<path d="M232 2202c6 0 25-1 37-1c12 0 22 2 34 2c12 1 27 2 38 2c12 0 18 0 29 0c11-1 27-4 37-4c9-1 14-1 22 0c8 1 18 4 27 4c8 0 16-2 25-3c9 0 19 0 30 0c11-1 22-2 34-2c11 1 23 3 34 4c12 1 23 1 34 1c11-1 26-2 31-3" stroke="#0072BD" stroke-width="2.6"/>
<path d="M219 2209c4 0 13 1 22 1c9 0 22 1 30 0c9-1 12-3 22-4c9 0 25 0 36 0c11 1 21 2 31 3c10 0 16-1 27-2c10 0 25 0 36 0c12 1 21 3 33 3c12 0 26-4 38-4c13 0 25 3 37 3c13 1 28 1 38 1c10 0 14-3 24-4c10 0 23 3 35 3c11 0 26-2 36-2c11 0 17 2 27 2c10 1 23 0 32 0c9-1 14-1 21-2c7 0 16-1 19-2" stroke="#77AC30" stroke-width="2.6"/>
<path d="M138 2202c5 1 18 3 28 3c11 0 23-1 34-1c12-1 28-2 38-2c10 0 14 0 22 0c8 1 17 3 26 3c9 0 17 0 26 0c10 0 20 0 30 0c10 0 18 0 29 0c12-1 27-3 40-4c12 0 25 0 38 0c13 0 29 0 38 1c10 0 12 3 21 3c10 1 26-1 37-1c11-1 17 0 28-1c11 0 26-2 38-2c13 0 28 3 39 4c11 0 16 0 27 0c11-1 28-2 39-3c11 0 16 0 25 1c8 0 18 1 26 2c8 0 13 1 21 0c9 0 23-3 29-4c6 0 6 3 7 3" stroke="#7E2F8E" stroke-width="2.6"/>
<path d="M181 2199c5 0 20 2 32 3c12 0 27-2 39-2c12-1 23-2 35-1c12 0 24 2 36 2c13 1 27 1 39 1c12 0 21-1 33-1c12 0 27 2 39 2c12 0 22-3 33-4c11 0 24 0 34 0c9 1 14 2 23 2c9 1 25 1 30 1c5 0 1 0 1 0" stroke="#D95319" stroke-width="2.6"/>
<path d="M236 2201c5-1 20-4 29-5c9 0 17 1 26 1c9 1 18 3 29 3c11 0 29-2 40-2c11 0 18 2 26 2c8 0 13-2 22-2c10 0 27 2 37 3c11 0 19 0 27-1c8 0 10-3 20-3c10-1 27-1 39-1c13 1 24 4 35 4c11 0 20-3 31-3c12 0 29 3 40 4c11 0 16-2 26-2c10 0 23 1 32 1c8 0 14 1 21 1c7 0 12-1 21-2c8 0 21-1 31 0c10 0 21 2 30 2c8 0 10-3 20-4c9 0 27 0 37 0c9 1 11 3 20 3c10 0 26-3 35-3c9-1 17 1 21 2" stroke="#A2142F" stroke-width="2.6"/>
<path d="M116 2204c4 0 13 0 23 0c10 1 26 1 36 1c9 1 14 3 22 2c7 0 15-2 23-2c8-1 16 0 25 0c9 0 17 1 27 1c10 0 21-1 32-1c11 0 23-1 34-1c11 0 19 0 30 0c12 1 25 4 38 4c12 1 25 0 38 0c12 0 23-1 35-2c12 0 25-1 36-1c12 0 20-1 32-1c11 0 28 0 38 1c11 0 16 0 25 1c8 0 15 0 25-1c11 0 28-1 40-1c11 0 21 2 31 2c10 0 21-1 30-1c8 0 18 1 22 2" stroke="#4DBEEE" stroke-width="2.6"/>
<path d="M387 2198c7 0 29 0 42-1c13 0 21 0 34 0c12 0 28 1 41 1c13 0 26-2 36-2c11 0 18 1 28 1c10 0 21-2 32-2c11 1 28 4 33 5" stroke="#EDB120" stroke-width="2.6"/>
<path d="M316 2197c5 1 17 3 28 3c12 0 30-1 44-2c13-1 25-3 36-3c11 0 21 2 31 3c9 1 15 2 27 2c11 0 29 0 41 0c12-1 21-2 33-3c12 0 25-2 39-1c14 0 31 3 45 4c14 1 27 1 37 0c11-1 15-4 26-5c11-1 29 0 42 0c13 0 23 0 35 1c12 0 26-1 37-1c11 1 18 4 27 4c9 0 20-2 25-2" stroke="#7E2F8E" stroke-width="2.6"/>
<path d="M357 2200c7 0 31 0 45-1c13 0 23 0 36-1c13-1 28-3 42-3c14 0 30 5 42 5c13 0 21-4 31-4c10 0 18 3 29 4c11 1 24 1 36 0c11-1 27-4 33-5" stroke="#4DBEEE" stroke-width="2.6"/>
<path d="M279 2195c5 0 19 1 30 2c11 0 25-1 36-2c11 0 19-1 28-1c10 0 18 3 29 3c11 0 27-3 38-3c11 0 19 1 27 1c9 0 16-2 26-2c10 0 23-1 35 0c13 0 25 4 39 4c14 1 32 0 44-1c12 0 17-3 30-4c12 0 35-1 45 0c10 1 13 5 16 6" stroke="#A2142F" stroke-width="2.6"/>
<path d="M390 2180c4 1 14 6 25 7c11 1 31-1 43-2c12-1 17-4 28-4c11 0 27 4 39 5c13 1 25 0 37 0c11-1 23-3 34-3c10 1 18 3 29 4c10 0 25 1 34 0c8-1 14-4 16-4" stroke="#0072BD" stroke-width="2.6"/>
<path d="M312 2200c7-1 30-4 41-4c11 0 15 3 26 3c10 0 24-4 37-4c12-1 26 0 38 1c12 1 21 4 34 4c13-1 31-7 45-7c14-1 27 3 40 4c13 1 24 0 37 0c13 0 30-2 42-2c12 0 17 2 28 2c12-1 26-4 38-4c13-1 31 1 39 1c8 0 7 0 8 0" stroke="#77AC30" stroke-width="2.6"/>
</g>
<path d="M113.4 2211.7V2198.9M113.4 1870.1V1882.9M309.9 2211.7V2198.9M309.9 1870.1V1882.9M506.4 2211.7V2198.9M506.4 1870.1V1882.9M702.9 2211.7V2198.9M702.9 1870.1V1882.9M899.4 2211.7V2198.9M899.4 1870.1V1882.9M1095.9 2211.7V2198.9M1095.9 1870.1V1882.9M1292.4 2211.7V2198.9M1292.4 1870.1V1882.9M113.4 2211.7H126.2M1390.7 2211.7H1377.9M113.4 2097.8H126.2M1390.7 2097.8H1377.9M113.4 1984.0H126.2M1390.7 1984.0H1377.9M113.4 1870.1H126.2M1390.7 1870.1H1377.9" stroke="#606060" stroke-width="1.1" fill="none"/>
<rect x="113.4" y="1870.1" width="1277.3" height="341.6" stroke="#707070" stroke-width="1.2" fill="none"/>
<g font-family="Liberation Sans, Arial, sans-serif" font-size="44" fill="#2b2b2b"><text x="113.4" y="2263.9" text-anchor="middle">5</text><text x="309.9" y="2263.9" text-anchor="middle">6</text><text x="506.4" y="2263.9" text-anchor="middle">7</text><text x="702.9" y="2263.9" text-anchor="middle">8</text><text x="899.4" y="2263.9" text-anchor="middle">9</text><text x="1095.9" y="2263.9" text-anchor="middle">10</text><text x="1292.4" y="2263.9" text-anchor="middle">11</text><text x="101.8" y="2227.5" text-anchor="end">0</text><text x="101.8" y="2113.6" text-anchor="end">20</text><text x="101.8" y="1999.8" text-anchor="end">40</text><text x="101.8" y="1885.9" text-anchor="end">60</text></g>
<text x="21" y="1768.3" font-family="Liberation Sans, Arial, sans-serif" font-weight="bold" font-size="30.5" fill="#0a0a0a">D</text>
<g font-family="Liberation Serif, serif" fill="#2b2b2b"><text transform="translate(708.1,2311.7) scale(1.1,1)" font-style="italic" font-size="47">x</text><text transform="translate(736.2,2322.6) scale(1.3,1.47)" font-size="47">/</text><text x="757.9" y="2311.7" font-style="italic" font-size="48.5">H</text></g>
<g transform="translate(35,2040.9) rotate(-90)" font-family="Liberation Serif, serif" fill="#2b2b2b"><text x="-31" y="0" font-style="italic" font-size="47">z</text><text transform="translate(-8.3,10.9) scale(1.3,1.47)" font-size="47">/</text><text x="12.6" y="0" font-style="italic" font-size="45">δ</text></g>
</svg></body></html>
